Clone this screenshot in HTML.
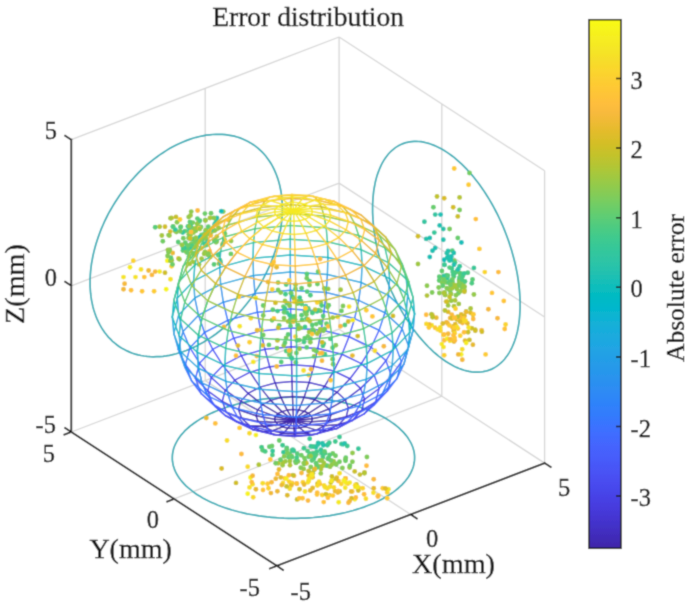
<!DOCTYPE html>
<html><head><meta charset="utf-8"><style>html,body{margin:0;padding:0;background:#fff;width:685px;height:610px;overflow:hidden}svg{display:block}</style></head>
<body><svg width="685" height="610" viewBox="0 0 685 610">
<defs><filter id="bl" x="-0.05" y="-0.05" width="1.1" height="1.1"><feConvolveMatrix order="3" kernelMatrix="0.0622 0.2494 0.0622 0.2494 1.0000 0.2494 0.0622 0.2494 0.0622" divisor="2.2461" preserveAlpha="true"/></filter></defs>
<g filter="url(#bl)">
<rect x="-20" y="-20" width="725" height="650" fill="#fff"/>
<defs><linearGradient id="cb" x1="0" y1="0" x2="0" y2="1"><stop offset="0.0000" stop-color="#f9fb15"/><stop offset="0.0159" stop-color="#f7f51b"/><stop offset="0.0317" stop-color="#f6ef20"/><stop offset="0.0476" stop-color="#f5e924"/><stop offset="0.0635" stop-color="#f5e327"/><stop offset="0.0794" stop-color="#f7dc2a"/><stop offset="0.0952" stop-color="#fad62d"/><stop offset="0.1111" stop-color="#fccf30"/><stop offset="0.1270" stop-color="#fec934"/><stop offset="0.1429" stop-color="#fec338"/><stop offset="0.1587" stop-color="#febe3c"/><stop offset="0.1746" stop-color="#f8ba3d"/><stop offset="0.1905" stop-color="#f0ba36"/><stop offset="0.2063" stop-color="#e6bb2d"/><stop offset="0.2222" stop-color="#dcbd29"/><stop offset="0.2381" stop-color="#d1bf27"/><stop offset="0.2540" stop-color="#c5c22a"/><stop offset="0.2698" stop-color="#b9c431"/><stop offset="0.2857" stop-color="#abc739"/><stop offset="0.3016" stop-color="#9dc943"/><stop offset="0.3175" stop-color="#8fcb4e"/><stop offset="0.3333" stop-color="#81cc59"/><stop offset="0.3492" stop-color="#72cd64"/><stop offset="0.3651" stop-color="#64cd6f"/><stop offset="0.3810" stop-color="#57cc7a"/><stop offset="0.3968" stop-color="#4acb84"/><stop offset="0.4127" stop-color="#3fca8e"/><stop offset="0.4286" stop-color="#37c897"/><stop offset="0.4444" stop-color="#31c69f"/><stop offset="0.4603" stop-color="#2cc4a7"/><stop offset="0.4762" stop-color="#24c1ae"/><stop offset="0.4921" stop-color="#19bfb6"/><stop offset="0.5079" stop-color="#0bbdbd"/><stop offset="0.5238" stop-color="#02bac3"/><stop offset="0.5397" stop-color="#01b8ca"/><stop offset="0.5556" stop-color="#08b5d0"/><stop offset="0.5714" stop-color="#12b1d6"/><stop offset="0.5873" stop-color="#18addb"/><stop offset="0.6032" stop-color="#1ca9df"/><stop offset="0.6190" stop-color="#20a5e3"/><stop offset="0.6349" stop-color="#23a0e5"/><stop offset="0.6508" stop-color="#259be8"/><stop offset="0.6667" stop-color="#2797eb"/><stop offset="0.6825" stop-color="#2b91ef"/><stop offset="0.6984" stop-color="#2d8cf3"/><stop offset="0.7143" stop-color="#2e87f7"/><stop offset="0.7302" stop-color="#2f81fa"/><stop offset="0.7460" stop-color="#327cfc"/><stop offset="0.7619" stop-color="#3875fe"/><stop offset="0.7778" stop-color="#3e6fff"/><stop offset="0.7937" stop-color="#4269fe"/><stop offset="0.8095" stop-color="#4563fd"/><stop offset="0.8254" stop-color="#465efb"/><stop offset="0.8413" stop-color="#4758f8"/><stop offset="0.8571" stop-color="#4852f4"/><stop offset="0.8730" stop-color="#484df0"/><stop offset="0.8889" stop-color="#4747eb"/><stop offset="0.9048" stop-color="#4741e5"/><stop offset="0.9206" stop-color="#463cde"/><stop offset="0.9365" stop-color="#4537d5"/><stop offset="0.9524" stop-color="#4332cb"/><stop offset="0.9683" stop-color="#422ec0"/><stop offset="0.9841" stop-color="#402ab4"/><stop offset="1.0000" stop-color="#3e26a8"/></linearGradient></defs>
<path d="M71.3 432L339.1 329.2M544.6 463.1L544.6 170.8M544.6 463.1L339.1 329.2M410.7 514.5L205.2 380.6M174.1 498.9L441.8 396.2M205.2 380.6L205.2 88.3M71.3 285.8L339.1 183.1M441.8 396.2L441.8 103.9M544.6 317L339.1 183.1M544.6 463.1L339.1 329.2M71.3 432L339.1 329.2M339.1 329.2L339.1 37M71.3 139.7L339.1 37M339.1 329.2L339.1 37M544.6 170.8L339.1 37" stroke="#d6d6d6" stroke-width="1.3" fill="none"/>
<path d="M282.3 208.7L282.3 205L282.1 201.4L281.8 197.9L281.4 194.4L280.9 191L280.2 187.7L279.5 184.4L278.6 181.2L277.6 178.1L276.5 175L275.3 172.1L274 169.2L272.6 166.4L271.1 163.7L269.5 161.2L267.7 158.7L265.9 156.3L264 154L262 151.9L259.8 149.9L257.6 147.9L255.4 146.1L253 144.5L250.5 142.9L248 141.5L245.4 140.2L242.7 139L240 137.9L237.1 137L234.3 136.2L231.3 135.6L228.3 135.1L225.3 134.7L222.2 134.4L219.1 134.3L215.9 134.4L212.7 134.5L209.5 134.8L206.2 135.2L202.9 135.8L199.6 136.5L196.3 137.3L192.9 138.3L189.6 139.4L186.2 140.6L182.9 142L179.5 143.5L176.2 145.1L172.8 146.8L169.5 148.6L166.2 150.6L163 152.7L159.7 154.9L156.5 157.2L153.3 159.6L150.2 162.1L147.1 164.7L144.1 167.4L141.1 170.2L138.1 173.1L135.3 176.1L132.5 179.2L129.7 182.3L127 185.6L124.4 188.9L121.9 192.3L119.4 195.7L117.1 199.2L114.8 202.7L112.6 206.4L110.5 210L108.4 213.7L106.5 217.5L104.7 221.2L103 225L101.3 228.9L99.8 232.7L98.4 236.6L97.1 240.4L95.9 244.3L94.8 248.2L93.8 252.1L92.9 256L92.2 259.8L91.5 263.7L91 267.5L90.6 271.3L90.3 275L90.1 278.7L90.1 282.4L90.1 286.1L90.3 289.7L90.6 293.2L91 296.7L91.5 300.1L92.2 303.4L92.9 306.7L93.8 309.9L94.8 313.1L95.9 316.1L97.1 319.1L98.4 321.9L99.8 324.7L101.3 327.4L103 330L104.7 332.4L106.5 334.8L108.4 337.1L110.5 339.2L112.6 341.3L114.8 343.2L117.1 345L119.4 346.7L121.9 348.2L124.4 349.6L127 350.9L129.7 352.1L132.5 353.2L135.3 354.1L138.1 354.9L141.1 355.5L144.1 356L147.1 356.4L150.2 356.7L153.3 356.8L156.5 356.7L159.7 356.6L163 356.3L166.2 355.9L169.5 355.3L172.8 354.6L176.2 353.8L179.5 352.8L182.9 351.7L186.2 350.5L189.6 349.1L192.9 347.7L196.3 346.1L199.6 344.3L202.9 342.5L206.2 340.5L209.5 338.4L212.7 336.3L215.9 334L219.1 331.5L222.2 329L225.3 326.4L228.3 323.7L231.3 320.9L234.3 318L237.1 315L240 311.9L242.7 308.8L245.4 305.5L248 302.2L250.5 298.9L253 295.4L255.4 291.9L257.6 288.4L259.8 284.8L262 281.1L264 277.4L265.9 273.7L267.7 269.9L269.5 266.1L271.1 262.3L272.6 258.4L274 254.5L275.3 250.7L276.5 246.8L277.6 242.9L278.6 239L279.5 235.2L280.2 231.3L280.9 227.5L281.4 223.6L281.8 219.8L282.1 216.1L282.3 212.4L282.3 208.7Z" stroke="#27aab4" stroke-width="1.7" fill="none"/>
<path d="M372.6 208.7L372.6 205.1L372.8 201.5L373 198L373.3 194.6L373.7 191.2L374.2 188L374.8 184.8L375.4 181.7L376.2 178.6L377 175.7L378 172.9L379 170.2L380.1 167.6L381.2 165.1L382.5 162.7L383.8 160.4L385.2 158.3L386.7 156.2L388.2 154.3L389.8 152.5L391.5 150.9L393.3 149.3L395.1 147.9L397 146.6L398.9 145.5L400.9 144.5L403 143.6L405.1 142.9L407.3 142.3L409.5 141.9L411.7 141.6L414 141.4L416.3 141.4L418.7 141.5L421.1 141.7L423.6 142.1L426 142.7L428.5 143.3L431 144.2L433.5 145.1L436.1 146.2L438.6 147.4L441.2 148.8L443.8 150.2L446.3 151.9L448.9 153.6L451.5 155.5L454.1 157.4L456.6 159.6L459.2 161.8L461.7 164.1L464.2 166.6L466.7 169.2L469.1 171.8L471.6 174.6L474 177.5L476.3 180.5L478.7 183.5L481 186.7L483.2 189.9L485.4 193.3L487.6 196.7L489.7 200.1L491.8 203.7L493.8 207.3L495.7 211L497.6 214.7L499.4 218.5L501.2 222.3L502.9 226.2L504.5 230.1L506 234L507.5 238L508.9 241.9L510.2 245.9L511.5 250L512.6 254L513.7 258L514.7 262L515.7 266.1L516.5 270.1L517.3 274.1L517.9 278L518.5 282L519 285.9L519.4 289.8L519.7 293.6L519.9 297.4L520.1 301.2L520.1 304.8L520.1 308.5L519.9 312L519.7 315.5L519.4 319L519 322.3L518.5 325.6L517.9 328.8L517.3 331.9L516.5 334.9L515.7 337.8L514.7 340.7L513.7 343.4L512.6 346L511.5 348.5L510.2 350.9L508.9 353.1L507.5 355.3L506 357.3L504.5 359.3L502.9 361L501.2 362.7L499.4 364.2L497.6 365.6L495.7 366.9L493.8 368.1L491.8 369.1L489.7 369.9L487.6 370.6L485.4 371.2L483.2 371.7L481 372L478.7 372.2L476.3 372.2L474 372.1L471.6 371.8L469.1 371.4L466.7 370.9L464.2 370.2L461.7 369.4L459.2 368.5L456.6 367.4L454.1 366.2L451.5 364.8L448.9 363.3L446.3 361.7L443.8 360L441.2 358.1L438.6 356.1L436.1 354L433.5 351.8L431 349.4L428.5 347L426 344.4L423.6 341.7L421.1 338.9L418.7 336.1L416.3 333.1L414 330L411.7 326.9L409.5 323.6L407.3 320.3L405.1 316.9L403 313.4L400.9 309.9L398.9 306.3L397 302.6L395.1 298.9L393.3 295.1L391.5 291.3L389.8 287.4L388.2 283.5L386.7 279.6L385.2 275.6L383.8 271.6L382.5 267.6L381.2 263.6L380.1 259.6L379 255.6L378 251.5L377 247.5L376.2 243.5L375.4 239.5L374.8 235.5L374.2 231.6L373.7 227.7L373.3 223.8L373 219.9L372.8 216.2L372.6 212.4L372.6 208.7Z" stroke="#27aab4" stroke-width="1.7" fill="none"/>
<path d="M389.6 420.9L387 419.2L384.2 417.6L381.3 416.1L378.4 414.6L375.3 413.1L372.1 411.7L368.9 410.4L365.5 409.1L362.1 407.9L358.6 406.7L355 405.6L351.3 404.5L347.5 403.6L343.7 402.7L339.8 401.8L335.9 401L331.9 400.3L327.9 399.7L323.8 399.1L319.7 398.6L315.5 398.2L311.4 397.9L307.2 397.6L303 397.4L298.7 397.3L294.5 397.2L290.3 397.2L286.1 397.3L281.8 397.5L277.6 397.7L273.5 398L269.3 398.4L265.2 398.9L261.1 399.4L257 400L253 400.7L249.1 401.4L245.1 402.2L241.3 403.1L237.5 404L233.8 405.1L230.2 406.1L226.6 407.3L223.1 408.5L219.7 409.7L216.4 411L213.2 412.4L210.1 413.8L207 415.3L204.1 416.9L201.3 418.4L198.6 420.1L196.1 421.7L193.6 423.5L191.3 425.2L189.1 427L187 428.9L185 430.7L183.2 432.7L181.5 434.6L180 436.6L178.6 438.6L177.3 440.6L176.2 442.6L175.2 444.7L174.3 446.7L173.6 448.8L173.1 450.9L172.7 453L172.4 455.1L172.3 457.3L172.3 459.4L172.5 461.5L172.9 463.6L173.3 465.7L174 467.8L174.7 469.9L175.6 471.9L176.7 474L177.9 476L179.2 478L180.7 480L182.3 481.9L184.1 483.9L186 485.8L188 487.6L190.2 489.4L192.4 491.2L194.8 493L197.3 494.7L200 496.3L202.7 497.9L205.6 499.5L208.5 501L211.6 502.4L214.8 503.8L218 505.2L221.4 506.5L224.8 507.7L228.4 508.9L232 510L235.6 511L239.4 512L243.2 512.9L247.1 513.8L251 514.5L255 515.2L259 515.9L263.1 516.4L267.2 516.9L271.4 517.3L275.6 517.7L279.7 518L284 518.2L288.2 518.3L292.4 518.4L296.6 518.3L300.9 518.2L305.1 518.1L309.3 517.8L313.5 517.5L317.6 517.1L321.7 516.7L325.8 516.2L329.9 515.6L333.9 514.9L337.9 514.1L341.8 513.3L345.6 512.5L349.4 511.5L353.1 510.5L356.8 509.4L360.3 508.3L363.8 507.1L367.2 505.8L370.5 504.5L373.7 503.2L376.9 501.7L379.9 500.2L382.8 498.7L385.6 497.1L388.3 495.5L390.9 493.8L393.3 492.1L395.6 490.3L397.9 488.5L399.9 486.7L401.9 484.8L403.7 482.9L405.4 481L406.9 479L408.4 477L409.6 475L410.8 472.9L411.7 470.9L412.6 468.8L413.3 466.7L413.8 464.6L414.2 462.5L414.5 460.4L414.6 458.3L414.6 456.2L414.4 454.1L414.1 452L413.6 449.9L413 447.8L412.2 445.7L411.3 443.6L410.2 441.6L409 439.6L407.7 437.6L406.2 435.6L404.6 433.6L402.8 431.7L400.9 429.8L398.9 427.9L396.8 426.1L394.5 424.3L392.1 422.6L389.6 420.9Z" stroke="#27aab4" stroke-width="1.7" fill="none"/>
<circle cx="133.3" cy="260.7" r="2.45" fill="#fbd32e"/><circle cx="130" cy="267.3" r="2.45" fill="#f5eb23"/><circle cx="141" cy="269.4" r="2.45" fill="#f6e128"/><circle cx="148.6" cy="270.5" r="2.45" fill="#efba35"/><circle cx="155.2" cy="271.6" r="2.45" fill="#f8ba3d"/><circle cx="159.6" cy="271.6" r="2.45" fill="#f5e924"/><circle cx="165" cy="272.7" r="2.45" fill="#cfc028"/><circle cx="123.5" cy="277.1" r="2.45" fill="#f5e526"/><circle cx="135.5" cy="277.1" r="2.45" fill="#f5e327"/><circle cx="144.3" cy="277.1" r="2.45" fill="#fec537"/><circle cx="151.9" cy="274.9" r="2.45" fill="#f8ba3d"/><circle cx="124.6" cy="283.7" r="2.45" fill="#f5ba3a"/><circle cx="123.5" cy="289.2" r="2.45" fill="#f2ba38"/><circle cx="131.1" cy="290.2" r="2.45" fill="#fec338"/><circle cx="142.1" cy="291.3" r="2.45" fill="#fec834"/><circle cx="154.1" cy="291.3" r="2.45" fill="#fdcd32"/><circle cx="166.2" cy="289.2" r="2.45" fill="#f7f41c"/><circle cx="170.5" cy="279.3" r="2.45" fill="#f5e227"/><circle cx="171.6" cy="266.2" r="2.45" fill="#fbd32f"/><circle cx="167.3" cy="260.7" r="2.45" fill="#f7f31d"/><circle cx="172.7" cy="253" r="2.45" fill="#edba34"/><circle cx="159.6" cy="226.7" r="2.45" fill="#b0c636"/><circle cx="165" cy="226.7" r="2.45" fill="#d1bf27"/><circle cx="161.8" cy="235.5" r="2.45" fill="#a7c73c"/><circle cx="169.4" cy="235.5" r="2.45" fill="#a6c83d"/><circle cx="171.6" cy="218" r="2.45" fill="#cac129"/><circle cx="176" cy="216.9" r="2.45" fill="#c7c12a"/><circle cx="191.2" cy="243.7" r="2.45" fill="#7fcc5a"/><circle cx="185" cy="231.1" r="2.45" fill="#63cd70"/><circle cx="187.6" cy="246" r="2.45" fill="#28c3aa"/><circle cx="198.3" cy="242.3" r="2.45" fill="#a1c840"/><circle cx="210.2" cy="257" r="2.45" fill="#83cc57"/><circle cx="195.8" cy="230.7" r="2.45" fill="#89cb52"/><circle cx="182.9" cy="250.6" r="2.45" fill="#5ecd74"/><circle cx="208" cy="233.7" r="2.45" fill="#fcbc3d"/><circle cx="191.2" cy="248" r="2.45" fill="#5fcd73"/><circle cx="178.2" cy="242" r="2.45" fill="#5acc77"/><circle cx="204.9" cy="213.6" r="2.45" fill="#6ccd68"/><circle cx="167.9" cy="249.9" r="2.45" fill="#a0c841"/><circle cx="206.1" cy="230.2" r="2.45" fill="#5ecd74"/><circle cx="216.9" cy="222.3" r="2.45" fill="#61cd71"/><circle cx="195.8" cy="238.4" r="2.45" fill="#73cd63"/><circle cx="201.6" cy="258.7" r="2.45" fill="#a3c83f"/><circle cx="205.7" cy="230.2" r="2.45" fill="#98ca47"/><circle cx="197.4" cy="218.6" r="2.45" fill="#5ccc76"/><circle cx="168.5" cy="252.3" r="2.45" fill="#82cc58"/><circle cx="223.2" cy="211.6" r="2.45" fill="#91ca4c"/><circle cx="204.5" cy="233.8" r="2.45" fill="#42ca8b"/><circle cx="198.5" cy="222.4" r="2.45" fill="#98ca47"/><circle cx="186.3" cy="251.8" r="2.45" fill="#9ec943"/><circle cx="202.3" cy="239.6" r="2.45" fill="#33c79d"/><circle cx="162.8" cy="241.3" r="2.45" fill="#72cd64"/><circle cx="197.6" cy="210.5" r="2.45" fill="#fbbc3d"/><circle cx="210.8" cy="235.5" r="2.45" fill="#f3ba39"/><circle cx="218.5" cy="227.6" r="2.45" fill="#a5c83d"/><circle cx="193.7" cy="262.1" r="2.45" fill="#a3c83e"/><circle cx="183.3" cy="238.2" r="2.45" fill="#78cc5f"/><circle cx="204.1" cy="253.8" r="2.45" fill="#9dc943"/><circle cx="190.3" cy="235.3" r="2.45" fill="#acc738"/><circle cx="191.6" cy="239.1" r="2.45" fill="#56cc7b"/><circle cx="216.9" cy="218" r="2.45" fill="#27c2ac"/><circle cx="199" cy="264.4" r="2.45" fill="#8fcb4e"/><circle cx="177" cy="222.2" r="2.45" fill="#8ccb50"/><circle cx="194.3" cy="229.7" r="2.45" fill="#77cc60"/><circle cx="188.7" cy="226.7" r="2.45" fill="#5bcc76"/><circle cx="194.2" cy="247.8" r="2.45" fill="#34c79c"/><circle cx="196.7" cy="252.2" r="2.45" fill="#53cc7d"/><circle cx="208.1" cy="255.1" r="2.45" fill="#86cb55"/><circle cx="180.8" cy="226.6" r="2.45" fill="#91ca4d"/><circle cx="201.1" cy="248.2" r="2.45" fill="#f9bb3d"/><circle cx="208.3" cy="226.7" r="2.45" fill="#62cd71"/><circle cx="214.6" cy="239.5" r="2.45" fill="#45cb88"/><circle cx="211" cy="213.2" r="2.45" fill="#6ecd67"/><circle cx="184.8" cy="248" r="2.45" fill="#2ec4a4"/><circle cx="171.7" cy="260.2" r="2.45" fill="#99c946"/><circle cx="193.1" cy="228.5" r="2.45" fill="#8dcb4f"/><circle cx="173.2" cy="226.4" r="2.45" fill="#8ccb50"/><circle cx="197.2" cy="223.9" r="2.45" fill="#95ca49"/><circle cx="188.2" cy="249.6" r="2.45" fill="#54cc7c"/><circle cx="218.9" cy="263.6" r="2.45" fill="#aac73a"/><circle cx="197.7" cy="240.5" r="2.45" fill="#8fcb4e"/><circle cx="208.7" cy="233" r="2.45" fill="#8fcb4e"/><circle cx="214.8" cy="230.5" r="2.45" fill="#83cc57"/><circle cx="155.2" cy="227.2" r="2.45" fill="#59cc79"/><circle cx="190.9" cy="224.4" r="2.45" fill="#58cc79"/><circle cx="201.5" cy="239.4" r="2.45" fill="#5dcc75"/><circle cx="214.3" cy="240.7" r="2.45" fill="#6ccd68"/><circle cx="201" cy="227" r="2.45" fill="#79cc5e"/><circle cx="197" cy="241" r="2.45" fill="#5acc77"/><circle cx="215.8" cy="222.3" r="2.45" fill="#38c896"/><circle cx="170.4" cy="260.9" r="2.45" fill="#98c947"/><circle cx="182.1" cy="245.1" r="2.45" fill="#97ca47"/><circle cx="203.6" cy="237.3" r="2.45" fill="#9cc944"/><circle cx="180" cy="219.5" r="2.45" fill="#fdcd32"/><circle cx="216.7" cy="241.4" r="2.45" fill="#8dcb4f"/><circle cx="194" cy="239.4" r="2.45" fill="#3ac994"/><circle cx="206.3" cy="234.8" r="2.45" fill="#55cc7c"/><circle cx="225" cy="233.8" r="2.45" fill="#84cc56"/><circle cx="183.1" cy="248" r="2.45" fill="#43ca8a"/><circle cx="194.2" cy="238.9" r="2.45" fill="#47cb87"/><circle cx="189.3" cy="230.8" r="2.45" fill="#43ca8a"/><circle cx="218.4" cy="255.2" r="2.45" fill="#61cd72"/><circle cx="192.1" cy="247.3" r="2.45" fill="#2ac3a9"/><circle cx="220.5" cy="262.5" r="2.45" fill="#25c2ae"/><circle cx="186.9" cy="252.5" r="2.45" fill="#6dcd67"/><circle cx="209.9" cy="218" r="2.45" fill="#aec637"/><circle cx="206.7" cy="245.1" r="2.45" fill="#75cc61"/><circle cx="180.6" cy="227.2" r="2.45" fill="#5ccc76"/><circle cx="205.2" cy="220.1" r="2.45" fill="#61cd71"/><circle cx="201.5" cy="235" r="2.45" fill="#6acd6a"/><circle cx="194.6" cy="241.9" r="2.45" fill="#75cc61"/><circle cx="220" cy="260.3" r="2.45" fill="#5dcc75"/><circle cx="178.5" cy="258.5" r="2.45" fill="#e3bc2c"/><circle cx="216.1" cy="242.3" r="2.45" fill="#7fcc5a"/><circle cx="188.8" cy="234.2" r="2.45" fill="#89cb52"/><circle cx="196.2" cy="228.1" r="2.45" fill="#a4c83e"/><circle cx="187.9" cy="226.5" r="2.45" fill="#3ac994"/><circle cx="222.4" cy="244.9" r="2.45" fill="#6ccd68"/><circle cx="205.1" cy="234.2" r="2.45" fill="#a7c73c"/><circle cx="170.2" cy="231.6" r="2.45" fill="#dcbd29"/><circle cx="209.5" cy="251.3" r="2.45" fill="#fbbc3d"/><circle cx="204.4" cy="243.7" r="2.45" fill="#39c994"/><circle cx="192.8" cy="222.6" r="2.45" fill="#77cc60"/><circle cx="191.2" cy="211.6" r="2.45" fill="#90ca4d"/><circle cx="214.7" cy="224.3" r="2.45" fill="#25c2ae"/><circle cx="228.2" cy="220.1" r="2.45" fill="#f5ba3a"/><circle cx="188.7" cy="217" r="2.45" fill="#96ca49"/><circle cx="189.7" cy="263.9" r="2.45" fill="#a8c73b"/><circle cx="188.6" cy="238" r="2.45" fill="#84cb56"/><circle cx="185.3" cy="242.7" r="2.45" fill="#62cd70"/><circle cx="205" cy="251.9" r="2.45" fill="#97ca47"/><circle cx="182.7" cy="232.5" r="2.45" fill="#32c69f"/><circle cx="213.9" cy="217.9" r="2.45" fill="#8dcb4f"/><circle cx="193" cy="253.7" r="2.45" fill="#97ca48"/><circle cx="190.2" cy="226.3" r="2.45" fill="#33c69d"/><circle cx="205.5" cy="220.6" r="2.45" fill="#a0c841"/><circle cx="199.9" cy="220.7" r="2.45" fill="#55cc7c"/><circle cx="208.5" cy="253.7" r="2.45" fill="#85cb55"/><circle cx="180.2" cy="231.3" r="2.45" fill="#77cc5f"/><circle cx="193.4" cy="253.3" r="2.45" fill="#78cc5f"/><circle cx="176.4" cy="232" r="2.45" fill="#87cb54"/><circle cx="196.4" cy="245.7" r="2.45" fill="#69cd6b"/><circle cx="214" cy="264.4" r="2.45" fill="#58cc79"/><circle cx="175" cy="230.8" r="2.45" fill="#9fc942"/><circle cx="175.3" cy="229.6" r="2.45" fill="#32c69f"/><circle cx="172.5" cy="264.4" r="2.45" fill="#6dcd67"/><circle cx="181.9" cy="244.9" r="2.45" fill="#96ca49"/><circle cx="224.4" cy="239.6" r="2.45" fill="#91ca4c"/><circle cx="169.8" cy="250" r="2.45" fill="#8dcb50"/><circle cx="189.3" cy="226.2" r="2.45" fill="#8ccb50"/><circle cx="230.9" cy="253.9" r="2.45" fill="#6ccd68"/><circle cx="193.5" cy="232.6" r="2.45" fill="#99c946"/><circle cx="189.1" cy="256.2" r="2.45" fill="#6ecd67"/><circle cx="191" cy="232" r="2.45" fill="#febf3c"/><circle cx="193.2" cy="247.4" r="2.45" fill="#2fc5a3"/><circle cx="189.9" cy="222" r="2.45" fill="#5ecc74"/><circle cx="170.9" cy="257.8" r="2.45" fill="#5dcc74"/><circle cx="190.3" cy="238.5" r="2.45" fill="#d0bf27"/><circle cx="192" cy="245.6" r="2.45" fill="#53cc7d"/><circle cx="199.9" cy="237" r="2.45" fill="#29c3a9"/><circle cx="179.4" cy="259.3" r="2.45" fill="#9ec942"/><circle cx="199.4" cy="228.4" r="2.45" fill="#febf3b"/><circle cx="206.5" cy="239.2" r="2.45" fill="#9ac946"/><circle cx="222.8" cy="243.8" r="2.45" fill="#d9be28"/><circle cx="211" cy="230.5" r="2.45" fill="#43ca8b"/><circle cx="168.6" cy="235.1" r="2.45" fill="#91ca4d"/><circle cx="195.9" cy="246.5" r="2.45" fill="#6fcd66"/><circle cx="195.8" cy="237.7" r="2.45" fill="#92ca4b"/><circle cx="207.9" cy="241.7" r="2.45" fill="#2ec5a4"/><circle cx="187.9" cy="245.5" r="2.45" fill="#6ccd68"/><circle cx="216.8" cy="236.6" r="2.45" fill="#a5c83d"/><circle cx="172.8" cy="226.7" r="2.45" fill="#52cc7e"/><circle cx="190.5" cy="215.5" r="2.45" fill="#9cc944"/><circle cx="170.5" cy="218.3" r="2.45" fill="#a9c73a"/><circle cx="199.8" cy="229.1" r="2.45" fill="#9ec943"/><circle cx="167.6" cy="256" r="2.45" fill="#84cb56"/><circle cx="231.1" cy="241.1" r="2.45" fill="#99c946"/><circle cx="221.3" cy="211.3" r="2.45" fill="#0dbdbc"/><circle cx="454.2" cy="168.5" r="2.45" fill="#fdca33"/><circle cx="469.5" cy="173" r="2.45" fill="#73cd63"/><circle cx="468.6" cy="184.8" r="2.45" fill="#fdcc32"/><circle cx="475.8" cy="219.1" r="2.45" fill="#fec239"/><circle cx="479.4" cy="248.9" r="2.45" fill="#fdcd32"/><circle cx="437" cy="196.5" r="2.45" fill="#c1c32c"/><circle cx="444.2" cy="198.3" r="2.45" fill="#d9be28"/><circle cx="459.6" cy="197.4" r="2.45" fill="#b7c532"/><circle cx="453.2" cy="207.3" r="2.45" fill="#d3bf27"/><circle cx="457.8" cy="216.4" r="2.45" fill="#ccc028"/><circle cx="418" cy="236.2" r="2.45" fill="#d2bf27"/><circle cx="433.4" cy="207.3" r="2.45" fill="#66cd6d"/><circle cx="459.6" cy="210" r="2.45" fill="#7bcc5d"/><circle cx="449.6" cy="229" r="2.45" fill="#79cc5e"/><circle cx="457.8" cy="238" r="2.45" fill="#67cd6d"/><circle cx="452.3" cy="250.7" r="2.45" fill="#53cc7d"/><circle cx="454.2" cy="260.6" r="2.45" fill="#89cb52"/><circle cx="435.2" cy="214.6" r="2.45" fill="#30c5a2"/><circle cx="440.6" cy="214.6" r="2.45" fill="#1ac0b5"/><circle cx="424.4" cy="221.8" r="2.45" fill="#30c5a1"/><circle cx="439.7" cy="225.4" r="2.45" fill="#1ec0b2"/><circle cx="443.3" cy="229" r="2.45" fill="#28c2ab"/><circle cx="434.3" cy="232.6" r="2.45" fill="#34c79c"/><circle cx="426.2" cy="238.9" r="2.45" fill="#27c2ac"/><circle cx="429.8" cy="238" r="2.45" fill="#1fc0b2"/><circle cx="443.3" cy="239.8" r="2.45" fill="#20c1b1"/><circle cx="461.4" cy="242.5" r="2.45" fill="#12beb9"/><circle cx="435.2" cy="248" r="2.45" fill="#1bc0b4"/><circle cx="432.5" cy="250.7" r="2.45" fill="#1ec0b2"/><circle cx="429.8" cy="257" r="2.45" fill="#18bfb6"/><circle cx="444.2" cy="259.7" r="2.45" fill="#11beb9"/><circle cx="418" cy="264" r="2.45" fill="#a1c840"/><circle cx="427" cy="285.7" r="2.45" fill="#8fcb4e"/><circle cx="427" cy="295.6" r="2.45" fill="#b3c534"/><circle cx="484.8" cy="272.1" r="2.45" fill="#f9d72c"/><circle cx="498.4" cy="272.1" r="2.45" fill="#fdbd3d"/><circle cx="492" cy="292.9" r="2.45" fill="#fec834"/><circle cx="503.8" cy="301" r="2.45" fill="#fec636"/><circle cx="488.4" cy="309.2" r="2.45" fill="#f4ba3a"/><circle cx="497.5" cy="318.2" r="2.45" fill="#f7ba3c"/><circle cx="505.6" cy="324.5" r="2.45" fill="#fad52d"/><circle cx="504.7" cy="329" r="2.45" fill="#fec437"/><circle cx="444.2" cy="355.2" r="2.45" fill="#fbd22f"/><circle cx="462.3" cy="359.7" r="2.45" fill="#f4ba39"/><circle cx="464.5" cy="316" r="2.45" fill="#e0bc2a"/><circle cx="453.6" cy="286.3" r="2.45" fill="#a4c83e"/><circle cx="451.8" cy="268.4" r="2.45" fill="#3eca8f"/><circle cx="457.3" cy="270.6" r="2.45" fill="#2fc5a2"/><circle cx="439.4" cy="293" r="2.45" fill="#89cb52"/><circle cx="451.7" cy="286.2" r="2.45" fill="#8ecb4f"/><circle cx="449.8" cy="290.5" r="2.45" fill="#7bcc5c"/><circle cx="449.6" cy="267.6" r="2.45" fill="#4fcc80"/><circle cx="452.7" cy="271.9" r="2.45" fill="#41ca8c"/><circle cx="450.9" cy="293.5" r="2.45" fill="#77cc60"/><circle cx="443.1" cy="277.3" r="2.45" fill="#97ca48"/><circle cx="462.1" cy="281.3" r="2.45" fill="#7ccc5c"/><circle cx="472.5" cy="279.5" r="2.45" fill="#5bcc76"/><circle cx="464.5" cy="290.4" r="2.45" fill="#a1c840"/><circle cx="448.2" cy="311.9" r="2.45" fill="#e0bc2a"/><circle cx="458.4" cy="293.3" r="2.45" fill="#6ccd68"/><circle cx="459.1" cy="280.1" r="2.45" fill="#6fcd66"/><circle cx="459.5" cy="277.9" r="2.45" fill="#3cc991"/><circle cx="456.5" cy="271.9" r="2.45" fill="#41ca8c"/><circle cx="447.3" cy="277.9" r="2.45" fill="#35c79a"/><circle cx="464.6" cy="286.8" r="2.45" fill="#9cc944"/><circle cx="471.8" cy="283.3" r="2.45" fill="#4bcb84"/><circle cx="444.5" cy="264.9" r="2.45" fill="#31c6a0"/><circle cx="453.8" cy="253" r="2.45" fill="#22c1b0"/><circle cx="438.7" cy="287.5" r="2.45" fill="#82cc58"/><circle cx="450" cy="281.9" r="2.45" fill="#60cd72"/><circle cx="447.2" cy="257.8" r="2.45" fill="#28c3aa"/><circle cx="470.5" cy="312.7" r="2.45" fill="#e0bc2a"/><circle cx="459.7" cy="272.9" r="2.45" fill="#69cd6a"/><circle cx="452.5" cy="282" r="2.45" fill="#66cd6d"/><circle cx="453.9" cy="276.5" r="2.45" fill="#56cc7b"/><circle cx="442.7" cy="277.4" r="2.45" fill="#91ca4c"/><circle cx="452.3" cy="279.4" r="2.45" fill="#6fcd66"/><circle cx="459.7" cy="266.3" r="2.45" fill="#36c799"/><circle cx="461.7" cy="287" r="2.45" fill="#86cb55"/><circle cx="467.8" cy="272.8" r="2.45" fill="#4ccb83"/><circle cx="448.1" cy="305.4" r="2.45" fill="#a0c840"/><circle cx="446.6" cy="275.1" r="2.45" fill="#61cd72"/><circle cx="458.8" cy="303.9" r="2.45" fill="#a3c83e"/><circle cx="460.1" cy="278.6" r="2.45" fill="#51cc7e"/><circle cx="458.1" cy="269.2" r="2.45" fill="#28c2ab"/><circle cx="449.5" cy="260.5" r="2.45" fill="#27c2ac"/><circle cx="456.5" cy="287.7" r="2.45" fill="#abc739"/><circle cx="451.1" cy="260" r="2.45" fill="#24c1ae"/><circle cx="444.3" cy="264.7" r="2.45" fill="#3ac994"/><circle cx="446.9" cy="253.3" r="2.45" fill="#28c2ab"/><circle cx="451.9" cy="288.4" r="2.45" fill="#8bcb51"/><circle cx="459" cy="283.6" r="2.45" fill="#92ca4c"/><circle cx="457" cy="288.9" r="2.45" fill="#94ca4a"/><circle cx="439.2" cy="280.5" r="2.45" fill="#61cd71"/><circle cx="455" cy="262.6" r="2.45" fill="#47cb87"/><circle cx="454" cy="264.8" r="2.45" fill="#22c1b0"/><circle cx="450.3" cy="281.7" r="2.45" fill="#5ccc76"/><circle cx="453.9" cy="273.4" r="2.45" fill="#58cc79"/><circle cx="446.1" cy="282.4" r="2.45" fill="#87cb54"/><circle cx="473.9" cy="267.9" r="2.45" fill="#36c899"/><circle cx="445" cy="294.8" r="2.45" fill="#88cb53"/><circle cx="448.4" cy="282.6" r="2.45" fill="#5acc78"/><circle cx="443.9" cy="275.9" r="2.45" fill="#34c79c"/><circle cx="439.3" cy="276.8" r="2.45" fill="#5ccc76"/><circle cx="451.2" cy="256.4" r="2.45" fill="#1ec0b2"/><circle cx="460.6" cy="291.3" r="2.45" fill="#93ca4b"/><circle cx="444.6" cy="292.5" r="2.45" fill="#8ccb50"/><circle cx="441.9" cy="271" r="2.45" fill="#62cd70"/><circle cx="455.1" cy="300.4" r="2.45" fill="#aec637"/><circle cx="461.9" cy="274" r="2.45" fill="#4bcb83"/><circle cx="473.9" cy="294.5" r="2.45" fill="#96ca48"/><circle cx="452.2" cy="287.9" r="2.45" fill="#a3c83f"/><circle cx="448.4" cy="256.9" r="2.45" fill="#23c1af"/><circle cx="453.1" cy="284.6" r="2.45" fill="#98c947"/><circle cx="456" cy="295.2" r="2.45" fill="#8acb51"/><circle cx="461.2" cy="314.4" r="2.45" fill="#e0bc2a"/><circle cx="455.4" cy="285.3" r="2.45" fill="#a6c83d"/><circle cx="444.2" cy="281.3" r="2.45" fill="#75cc61"/><circle cx="460.1" cy="276.4" r="2.45" fill="#5ecd74"/><circle cx="450.4" cy="284.8" r="2.45" fill="#76cc61"/><circle cx="442.2" cy="282.7" r="2.45" fill="#85cb55"/><circle cx="443.8" cy="279.4" r="2.45" fill="#72cd64"/><circle cx="442.8" cy="285.7" r="2.45" fill="#64cd6f"/><circle cx="463.8" cy="316" r="2.45" fill="#e0bc2a"/><circle cx="450.9" cy="294.1" r="2.45" fill="#a3c83f"/><circle cx="454" cy="306.2" r="2.45" fill="#b2c535"/><circle cx="463" cy="282.3" r="2.45" fill="#90ca4d"/><circle cx="454.8" cy="272.9" r="2.45" fill="#50cc7f"/><circle cx="460" cy="283.5" r="2.45" fill="#80cc5a"/><circle cx="448" cy="251" r="2.45" fill="#25c2ad"/><circle cx="459.6" cy="285.2" r="2.45" fill="#7ccc5c"/><circle cx="462.8" cy="276.1" r="2.45" fill="#48cb86"/><circle cx="451.2" cy="300.8" r="2.45" fill="#9bc944"/><circle cx="464.3" cy="273.4" r="2.45" fill="#3ac994"/><circle cx="465" cy="281.5" r="2.45" fill="#4fcc80"/><circle cx="449.6" cy="297" r="2.45" fill="#c5c22a"/><circle cx="448.9" cy="289.1" r="2.45" fill="#9cc944"/><circle cx="446.9" cy="288.3" r="2.45" fill="#87cb54"/><circle cx="447.9" cy="275.6" r="2.45" fill="#56cc7b"/><circle cx="453.3" cy="274.5" r="2.45" fill="#48cb86"/><circle cx="463.6" cy="286.2" r="2.45" fill="#94ca4a"/><circle cx="464.4" cy="291.8" r="2.45" fill="#c9c129"/><circle cx="445.2" cy="295.1" r="2.45" fill="#9dc943"/><circle cx="470.6" cy="308.5" r="2.45" fill="#adc638"/><circle cx="443.8" cy="293" r="2.45" fill="#aec637"/><circle cx="460" cy="281.9" r="2.45" fill="#78cc5f"/><circle cx="459.2" cy="281.8" r="2.45" fill="#85cb55"/><circle cx="432.1" cy="292.5" r="2.45" fill="#81cc59"/><circle cx="462.1" cy="279.6" r="2.45" fill="#50cc7f"/><circle cx="462.2" cy="317.1" r="2.45" fill="#cac129"/><circle cx="435.1" cy="327.7" r="2.45" fill="#fec537"/><circle cx="454.8" cy="340.3" r="2.45" fill="#fec636"/><circle cx="471.7" cy="328.2" r="2.45" fill="#cfc028"/><circle cx="465" cy="340.7" r="2.45" fill="#e2bc2b"/><circle cx="453.6" cy="326.1" r="2.45" fill="#cdc028"/><circle cx="444.4" cy="340.3" r="2.45" fill="#febf3c"/><circle cx="463.5" cy="318.1" r="2.45" fill="#fec13a"/><circle cx="462.5" cy="323" r="2.45" fill="#f5ba3a"/><circle cx="462.2" cy="349.3" r="2.45" fill="#f6de29"/><circle cx="447.7" cy="323.4" r="2.45" fill="#edba33"/><circle cx="457.9" cy="328.6" r="2.45" fill="#feca33"/><circle cx="431.7" cy="325.3" r="2.45" fill="#f5e227"/><circle cx="462.2" cy="319.3" r="2.45" fill="#f8da2b"/><circle cx="453.9" cy="331.3" r="2.45" fill="#dfbc2a"/><circle cx="432.5" cy="315.2" r="2.45" fill="#fabb3d"/><circle cx="443.5" cy="347.1" r="2.45" fill="#f5e427"/><circle cx="466.1" cy="311.5" r="2.45" fill="#bac430"/><circle cx="452.5" cy="327.3" r="2.45" fill="#f5ba3b"/><circle cx="481.6" cy="330.3" r="2.45" fill="#febe3c"/><circle cx="443.4" cy="335" r="2.45" fill="#f9d72d"/><circle cx="468.6" cy="327.5" r="2.45" fill="#f5e427"/><circle cx="429.2" cy="324.4" r="2.45" fill="#f1ba37"/><circle cx="452.1" cy="318.5" r="2.45" fill="#fec03b"/><circle cx="437.7" cy="329.4" r="2.45" fill="#f7db2a"/><circle cx="473" cy="314.7" r="2.45" fill="#d3bf27"/><circle cx="451.3" cy="340.1" r="2.45" fill="#fad52e"/><circle cx="447.3" cy="338.6" r="2.45" fill="#f5e924"/><circle cx="451.8" cy="314.6" r="2.45" fill="#fbbc3d"/><circle cx="447.2" cy="301.6" r="2.45" fill="#bac430"/><circle cx="448.2" cy="333.8" r="2.45" fill="#f5ba3b"/><circle cx="473.4" cy="314.2" r="2.45" fill="#fdcb33"/><circle cx="473.2" cy="319" r="2.45" fill="#fbbc3d"/><circle cx="455.5" cy="308.8" r="2.45" fill="#fbd22f"/><circle cx="426.2" cy="314.7" r="2.45" fill="#febe3c"/><circle cx="453.8" cy="330" r="2.45" fill="#e8bb2f"/><circle cx="454" cy="341.6" r="2.45" fill="#e0bc2a"/><circle cx="457" cy="319.4" r="2.45" fill="#c5c22a"/><circle cx="460.1" cy="317.1" r="2.45" fill="#f8ba3d"/><circle cx="468.1" cy="332.2" r="2.45" fill="#cac129"/><circle cx="485.6" cy="354.4" r="2.45" fill="#fdcc32"/><circle cx="461.2" cy="354.4" r="2.45" fill="#f5ef20"/><circle cx="440.4" cy="330.7" r="2.45" fill="#fad52d"/><circle cx="449.4" cy="325.4" r="2.45" fill="#fdcb33"/><circle cx="467.4" cy="323.2" r="2.45" fill="#e4bb2c"/><circle cx="440.2" cy="327.4" r="2.45" fill="#f6df29"/><circle cx="454.5" cy="340.5" r="2.45" fill="#fbbc3d"/><circle cx="464.1" cy="332.3" r="2.45" fill="#fec03b"/><circle cx="455.2" cy="324.3" r="2.45" fill="#e1bc2b"/><circle cx="441.8" cy="344.1" r="2.45" fill="#f5e725"/><circle cx="446.5" cy="322.1" r="2.45" fill="#f1ba37"/><circle cx="459.2" cy="319.4" r="2.45" fill="#fdbd3d"/><circle cx="446.1" cy="301.6" r="2.45" fill="#d3bf27"/><circle cx="428.9" cy="327.5" r="2.45" fill="#fdcc32"/><circle cx="466.1" cy="311.9" r="2.45" fill="#ebba32"/><circle cx="481.9" cy="331.8" r="2.45" fill="#d4bf28"/><circle cx="449.9" cy="340.7" r="2.45" fill="#f5e227"/><circle cx="475.2" cy="329.7" r="2.45" fill="#cac129"/><circle cx="465.6" cy="320.6" r="2.45" fill="#f7dc2a"/><circle cx="457.7" cy="316.6" r="2.45" fill="#bdc32e"/><circle cx="458.3" cy="354.4" r="2.45" fill="#f0ba36"/><circle cx="436.3" cy="317.8" r="2.45" fill="#e8bb2f"/><circle cx="454.7" cy="333.2" r="2.45" fill="#f9d82c"/><circle cx="450.1" cy="318.1" r="2.45" fill="#f3ba38"/><circle cx="444" cy="334.4" r="2.45" fill="#fec13a"/><circle cx="442.8" cy="323.5" r="2.45" fill="#dcbd29"/><circle cx="464.1" cy="320.9" r="2.45" fill="#f8d92b"/><circle cx="431.5" cy="314.2" r="2.45" fill="#bac430"/><circle cx="426.4" cy="323.9" r="2.45" fill="#f8d92b"/><circle cx="451.8" cy="318.3" r="2.45" fill="#d4bf28"/><circle cx="456.9" cy="327" r="2.45" fill="#f6e128"/><circle cx="454.9" cy="317.7" r="2.45" fill="#fec438"/><circle cx="460.2" cy="335.7" r="2.45" fill="#fbd32e"/><circle cx="450.1" cy="339.1" r="2.45" fill="#f9bb3d"/><circle cx="472.9" cy="344.7" r="2.45" fill="#e6bb2d"/><circle cx="454.6" cy="337.9" r="2.45" fill="#fec835"/><circle cx="459.9" cy="321.6" r="2.45" fill="#ddbd29"/><circle cx="432.6" cy="317.3" r="2.45" fill="#bec32e"/><circle cx="469.4" cy="339.9" r="2.45" fill="#cdc028"/><circle cx="454.3" cy="318" r="2.45" fill="#fec239"/><circle cx="453.5" cy="335.3" r="2.45" fill="#fec13a"/><circle cx="454.1" cy="327.6" r="2.45" fill="#fdce31"/><circle cx="444.9" cy="310.5" r="2.45" fill="#bac430"/><circle cx="475.3" cy="330.7" r="2.45" fill="#d2bf27"/><circle cx="466.2" cy="343.1" r="2.45" fill="#f5ec23"/><circle cx="206.3" cy="418" r="2.45" fill="#e8bb2e"/><circle cx="215.3" cy="423.4" r="2.45" fill="#fec13a"/><circle cx="239.6" cy="427.9" r="2.45" fill="#fdcc32"/><circle cx="249.5" cy="433.3" r="2.45" fill="#f7db2a"/><circle cx="255.9" cy="435.1" r="2.45" fill="#f5ef20"/><circle cx="227" cy="440.5" r="2.45" fill="#f7dd2a"/><circle cx="241.4" cy="454" r="2.45" fill="#fcbc3d"/><circle cx="221.6" cy="468.5" r="2.45" fill="#dabd28"/><circle cx="247.7" cy="466.7" r="2.45" fill="#f8da2b"/><circle cx="250.5" cy="477.5" r="2.45" fill="#f6f21e"/><circle cx="236" cy="482.9" r="2.45" fill="#d1bf27"/><circle cx="249.5" cy="487.4" r="2.45" fill="#f6e128"/><circle cx="255.9" cy="489.2" r="2.45" fill="#e8bb2f"/><circle cx="263" cy="490" r="2.45" fill="#fec537"/><circle cx="267.6" cy="483.8" r="2.45" fill="#feca33"/><circle cx="268.5" cy="488.3" r="2.45" fill="#fbd22f"/><circle cx="247.7" cy="493.7" r="2.45" fill="#f7f31d"/><circle cx="253.2" cy="497.3" r="2.45" fill="#f8d92c"/><circle cx="277.5" cy="473.9" r="2.45" fill="#febf3b"/><circle cx="282.9" cy="482.9" r="2.45" fill="#f7db2a"/><circle cx="270.3" cy="459.5" r="2.45" fill="#fec537"/><circle cx="279.3" cy="440.5" r="2.45" fill="#68cd6b"/><circle cx="269.4" cy="446.8" r="2.45" fill="#65cd6e"/><circle cx="272" cy="446" r="2.45" fill="#6dcd68"/><circle cx="291.9" cy="450.5" r="2.45" fill="#61cd72"/><circle cx="339.5" cy="437" r="2.45" fill="#39c895"/><circle cx="358.4" cy="448.7" r="2.45" fill="#35c79b"/><circle cx="366.5" cy="465.8" r="2.45" fill="#febe3c"/><circle cx="373.7" cy="479.3" r="2.45" fill="#f9bb3d"/><circle cx="382.7" cy="488.3" r="2.45" fill="#fdce31"/><circle cx="378.2" cy="495.5" r="2.45" fill="#fccf31"/><circle cx="348.5" cy="502.7" r="2.45" fill="#fbbc3d"/><circle cx="302.5" cy="498.2" r="2.45" fill="#fec537"/><circle cx="328.1" cy="444.3" r="2.45" fill="#30c5a2"/><circle cx="335.3" cy="441.5" r="2.45" fill="#3dc990"/><circle cx="327.3" cy="445.3" r="2.45" fill="#33c69d"/><circle cx="329.3" cy="442.7" r="2.45" fill="#39c994"/><circle cx="315.8" cy="447.2" r="2.45" fill="#26c2ac"/><circle cx="323.4" cy="445.2" r="2.45" fill="#23c1af"/><circle cx="341.5" cy="444" r="2.45" fill="#37c897"/><circle cx="318" cy="444.5" r="2.45" fill="#33c69d"/><circle cx="343.2" cy="444.3" r="2.45" fill="#30c5a1"/><circle cx="344.7" cy="443.5" r="2.45" fill="#25c2ae"/><circle cx="309.7" cy="438.7" r="2.45" fill="#35c79a"/><circle cx="314" cy="446.7" r="2.45" fill="#2fc5a2"/><circle cx="347.3" cy="446" r="2.45" fill="#3ac994"/><circle cx="322.4" cy="443.3" r="2.45" fill="#26c2ad"/><circle cx="318.1" cy="442.9" r="2.45" fill="#28c3aa"/><circle cx="272.4" cy="455.1" r="2.45" fill="#4ccb83"/><circle cx="316.6" cy="465.7" r="2.45" fill="#90ca4d"/><circle cx="332.8" cy="453.5" r="2.45" fill="#71cd65"/><circle cx="298.1" cy="461.4" r="2.45" fill="#81cc58"/><circle cx="261.6" cy="447.3" r="2.45" fill="#43ca8a"/><circle cx="349.6" cy="467.5" r="2.45" fill="#a0c841"/><circle cx="278.2" cy="463.2" r="2.45" fill="#afc636"/><circle cx="313.9" cy="458.8" r="2.45" fill="#4ccb83"/><circle cx="331.9" cy="476.4" r="2.45" fill="#cec028"/><circle cx="342.4" cy="468" r="2.45" fill="#84cb56"/><circle cx="345.8" cy="457.7" r="2.45" fill="#66cd6d"/><circle cx="318.8" cy="466.3" r="2.45" fill="#9ec942"/><circle cx="322.9" cy="456.9" r="2.45" fill="#4bcb83"/><circle cx="315.1" cy="456" r="2.45" fill="#47cb87"/><circle cx="283.5" cy="452.3" r="2.45" fill="#35c79a"/><circle cx="282.6" cy="445.3" r="2.45" fill="#3cc991"/><circle cx="320.8" cy="473.4" r="2.45" fill="#92ca4b"/><circle cx="296" cy="462.9" r="2.45" fill="#7ecc5a"/><circle cx="303.6" cy="468.9" r="2.45" fill="#98c947"/><circle cx="286.8" cy="447.9" r="2.45" fill="#48cb86"/><circle cx="321.5" cy="453" r="2.45" fill="#42ca8b"/><circle cx="325.1" cy="465.4" r="2.45" fill="#80cc59"/><circle cx="327.2" cy="465.7" r="2.45" fill="#66cd6d"/><circle cx="305.2" cy="461.3" r="2.45" fill="#6ecd67"/><circle cx="262.6" cy="450.3" r="2.45" fill="#5acc77"/><circle cx="352.5" cy="453" r="2.45" fill="#93ca4b"/><circle cx="285.4" cy="461.4" r="2.45" fill="#9ac945"/><circle cx="336.2" cy="464.6" r="2.45" fill="#6fcd65"/><circle cx="328.5" cy="458.1" r="2.45" fill="#3bc993"/><circle cx="364.5" cy="472.5" r="2.45" fill="#cec028"/><circle cx="290" cy="465.3" r="2.45" fill="#b4c534"/><circle cx="349.9" cy="465.7" r="2.45" fill="#74cc62"/><circle cx="310.9" cy="446.3" r="2.45" fill="#2ec5a4"/><circle cx="316.1" cy="454.5" r="2.45" fill="#59cc79"/><circle cx="308.6" cy="471" r="2.45" fill="#c6c22a"/><circle cx="310.8" cy="467" r="2.45" fill="#85cb56"/><circle cx="304.2" cy="464.1" r="2.45" fill="#6ccd69"/><circle cx="307.6" cy="451.1" r="2.45" fill="#50cc7f"/><circle cx="352.4" cy="461.7" r="2.45" fill="#83cc57"/><circle cx="292.8" cy="449.8" r="2.45" fill="#36c899"/><circle cx="345.4" cy="478.5" r="2.45" fill="#cec028"/><circle cx="295.4" cy="461.5" r="2.45" fill="#75cc62"/><circle cx="331.7" cy="464.7" r="2.45" fill="#93ca4a"/><circle cx="327.9" cy="458.8" r="2.45" fill="#66cd6d"/><circle cx="272.6" cy="450.9" r="2.45" fill="#36c898"/><circle cx="310.5" cy="453.8" r="2.45" fill="#5bcc76"/><circle cx="325.1" cy="453.3" r="2.45" fill="#46cb87"/><circle cx="289.9" cy="460.9" r="2.45" fill="#a3c83f"/><circle cx="333.5" cy="461.1" r="2.45" fill="#9ec942"/><circle cx="275.7" cy="463.2" r="2.45" fill="#75cc61"/><circle cx="258.8" cy="464.8" r="2.45" fill="#b1c635"/><circle cx="288.4" cy="457.1" r="2.45" fill="#63cd70"/><circle cx="316.8" cy="451.6" r="2.45" fill="#43ca8b"/><circle cx="323.9" cy="463.1" r="2.45" fill="#a1c840"/><circle cx="312.8" cy="473.3" r="2.45" fill="#a4c83e"/><circle cx="320.9" cy="449.6" r="2.45" fill="#36c799"/><circle cx="345.4" cy="459.4" r="2.45" fill="#80cc59"/><circle cx="312.5" cy="453.6" r="2.45" fill="#51cc7f"/><circle cx="301.3" cy="455.2" r="2.45" fill="#70cd65"/><circle cx="329" cy="459" r="2.45" fill="#5ccc75"/><circle cx="319.8" cy="460.5" r="2.45" fill="#91ca4c"/><circle cx="364.4" cy="473.3" r="2.45" fill="#b3c534"/><circle cx="309.7" cy="454.3" r="2.45" fill="#48cb86"/><circle cx="289.6" cy="453.9" r="2.45" fill="#51cc7f"/><circle cx="331" cy="460.4" r="2.45" fill="#73cd63"/><circle cx="282.6" cy="465.2" r="2.45" fill="#9bc945"/><circle cx="354.7" cy="471.4" r="2.45" fill="#ccc028"/><circle cx="306.4" cy="463.3" r="2.45" fill="#c3c22b"/><circle cx="282.9" cy="462.4" r="2.45" fill="#a9c73a"/><circle cx="322.3" cy="466.1" r="2.45" fill="#b1c635"/><circle cx="296.7" cy="460" r="2.45" fill="#61cd72"/><circle cx="297.2" cy="453.7" r="2.45" fill="#56cc7b"/><circle cx="316.1" cy="463.3" r="2.45" fill="#63cd70"/><circle cx="359.9" cy="474.6" r="2.45" fill="#c9c129"/><circle cx="304.4" cy="458.1" r="2.45" fill="#7acc5e"/><circle cx="324.6" cy="451.4" r="2.45" fill="#5fcd73"/><circle cx="366.9" cy="457" r="2.45" fill="#80cc59"/><circle cx="322.1" cy="460.7" r="2.45" fill="#9bc944"/><circle cx="284.1" cy="456.4" r="2.45" fill="#89cb53"/><circle cx="308.6" cy="456.7" r="2.45" fill="#69cd6b"/><circle cx="300.7" cy="467.7" r="2.45" fill="#84cb56"/><circle cx="335.5" cy="455.7" r="2.45" fill="#71cd64"/><circle cx="312.5" cy="446.6" r="2.45" fill="#3dc990"/><circle cx="287.4" cy="453.2" r="2.45" fill="#7bcc5d"/><circle cx="286.8" cy="449.2" r="2.45" fill="#66cd6d"/><circle cx="314.3" cy="469.8" r="2.45" fill="#acc738"/><circle cx="291.6" cy="456.2" r="2.45" fill="#82cc58"/><circle cx="335.9" cy="463.6" r="2.45" fill="#89cb53"/><circle cx="310.8" cy="456" r="2.45" fill="#93ca4b"/><circle cx="314.3" cy="453.1" r="2.45" fill="#4ccb83"/><circle cx="330.1" cy="466.7" r="2.45" fill="#93ca4b"/><circle cx="296.7" cy="457.6" r="2.45" fill="#46cb88"/><circle cx="280.5" cy="459.8" r="2.45" fill="#69cd6b"/><circle cx="321" cy="468.9" r="2.45" fill="#afc636"/><circle cx="311.4" cy="473" r="2.45" fill="#c2c22c"/><circle cx="303.7" cy="463.1" r="2.45" fill="#8fcb4e"/><circle cx="292.1" cy="457.1" r="2.45" fill="#64cd6f"/><circle cx="265.2" cy="451.4" r="2.45" fill="#49cb85"/><circle cx="303.9" cy="448.3" r="2.45" fill="#3dc990"/><circle cx="311.9" cy="460.5" r="2.45" fill="#5dcc75"/><circle cx="329.6" cy="455" r="2.45" fill="#5acc78"/><circle cx="345.5" cy="460.8" r="2.45" fill="#6dcd68"/><circle cx="339.5" cy="461.8" r="2.45" fill="#77cc60"/><circle cx="317.4" cy="467.2" r="2.45" fill="#62cd70"/><circle cx="293.8" cy="450.7" r="2.45" fill="#3ac994"/><circle cx="294" cy="475.8" r="2.45" fill="#edba33"/><circle cx="291.9" cy="483" r="2.45" fill="#fec537"/><circle cx="296.9" cy="483.8" r="2.45" fill="#f8ba3d"/><circle cx="330.8" cy="482.6" r="2.45" fill="#cbc129"/><circle cx="292.9" cy="475.1" r="2.45" fill="#c6c22a"/><circle cx="348" cy="483.6" r="2.45" fill="#fec636"/><circle cx="355.4" cy="487.1" r="2.45" fill="#f5e725"/><circle cx="288.8" cy="475.3" r="2.45" fill="#fdbd3d"/><circle cx="387.2" cy="492.4" r="2.45" fill="#fcd12f"/><circle cx="302.9" cy="482.3" r="2.45" fill="#fbd22f"/><circle cx="323.7" cy="502.1" r="2.45" fill="#fec437"/><circle cx="364.1" cy="494.3" r="2.45" fill="#febf3b"/><circle cx="275.8" cy="478.8" r="2.45" fill="#edba33"/><circle cx="314.8" cy="469" r="2.45" fill="#e7bb2e"/><circle cx="308.6" cy="481.1" r="2.45" fill="#fcd030"/><circle cx="312.6" cy="488" r="2.45" fill="#e3bc2c"/><circle cx="291.1" cy="484.1" r="2.45" fill="#f5e526"/><circle cx="309" cy="480.1" r="2.45" fill="#f6e128"/><circle cx="317" cy="494.5" r="2.45" fill="#feca33"/><circle cx="365.9" cy="498.8" r="2.45" fill="#f7dc2a"/><circle cx="345.6" cy="478.5" r="2.45" fill="#fec239"/><circle cx="280.8" cy="477.4" r="2.45" fill="#debd29"/><circle cx="304.1" cy="484.5" r="2.45" fill="#eaba31"/><circle cx="336.7" cy="477.6" r="2.45" fill="#e4bb2c"/><circle cx="308.5" cy="475.6" r="2.45" fill="#e9bb30"/><circle cx="289.1" cy="481.6" r="2.45" fill="#fbd22f"/><circle cx="338.4" cy="481" r="2.45" fill="#febd3c"/><circle cx="291.3" cy="485.4" r="2.45" fill="#e9bb2f"/><circle cx="358.5" cy="487.7" r="2.45" fill="#e4bb2c"/><circle cx="329.3" cy="495.1" r="2.45" fill="#eeba34"/><circle cx="352.2" cy="491.5" r="2.45" fill="#fdcb33"/><circle cx="358.3" cy="490.6" r="2.45" fill="#d5be28"/><circle cx="325" cy="487.4" r="2.45" fill="#f5ea23"/><circle cx="310.3" cy="490.5" r="2.45" fill="#e8bb2f"/><circle cx="339.6" cy="491.4" r="2.45" fill="#cfc028"/><circle cx="252.6" cy="475.7" r="2.45" fill="#f4ba39"/><circle cx="296.5" cy="483.4" r="2.45" fill="#fec338"/><circle cx="341.3" cy="484" r="2.45" fill="#fbd32e"/><circle cx="262.7" cy="483.2" r="2.45" fill="#f6dd2a"/><circle cx="345.8" cy="482.6" r="2.45" fill="#f5e924"/><circle cx="388.4" cy="489.3" r="2.45" fill="#f5e625"/><circle cx="312.6" cy="477.2" r="2.45" fill="#d2bf27"/><circle cx="373.7" cy="488.2" r="2.45" fill="#e8bb2f"/><circle cx="354.8" cy="499.3" r="2.45" fill="#f5e825"/><circle cx="356.4" cy="484.5" r="2.45" fill="#cbc029"/><circle cx="279" cy="469.5" r="2.45" fill="#e6bb2d"/><circle cx="297.1" cy="499.4" r="2.45" fill="#c5c22a"/><circle cx="299.5" cy="489.2" r="2.45" fill="#d4bf28"/><circle cx="336.2" cy="479.1" r="2.45" fill="#dbbd29"/><circle cx="362.7" cy="488.3" r="2.45" fill="#fad42e"/><circle cx="351.1" cy="491.4" r="2.45" fill="#e9bb30"/><circle cx="309.1" cy="478.7" r="2.45" fill="#f5e725"/><circle cx="322.2" cy="495" r="2.45" fill="#fad42e"/><circle cx="271.6" cy="482.3" r="2.45" fill="#f7ba3c"/><circle cx="332.9" cy="495.6" r="2.45" fill="#feca33"/><circle cx="289.8" cy="488.8" r="2.45" fill="#f6de29"/><circle cx="252.6" cy="484.3" r="2.45" fill="#f6de29"/><circle cx="312.1" cy="474.3" r="2.45" fill="#fad52d"/><circle cx="284.9" cy="478.3" r="2.45" fill="#fec537"/><circle cx="251.7" cy="482.1" r="2.45" fill="#febe3c"/><circle cx="286.6" cy="486.4" r="2.45" fill="#c7c12a"/><circle cx="270.9" cy="493.1" r="2.45" fill="#f0ba36"/><circle cx="327.4" cy="488.6" r="2.45" fill="#f9d82c"/><circle cx="305" cy="491.5" r="2.45" fill="#f6e128"/><circle cx="355.2" cy="485.2" r="2.45" fill="#f7dc2a"/><circle cx="377.9" cy="496.5" r="2.45" fill="#fabb3d"/><circle cx="387.2" cy="498.2" r="2.45" fill="#fdcc32"/><circle cx="343.8" cy="480.4" r="2.45" fill="#f5ee21"/><circle cx="357.6" cy="486.9" r="2.45" fill="#f5ea23"/><circle cx="325.4" cy="486.9" r="2.45" fill="#f6df29"/><circle cx="339.6" cy="473.3" r="2.45" fill="#f6e028"/><circle cx="307.9" cy="482.2" r="2.45" fill="#f6e029"/><circle cx="281.7" cy="485.1" r="2.45" fill="#edba33"/><circle cx="301.5" cy="473" r="2.45" fill="#f7ba3c"/><circle cx="332.1" cy="480.4" r="2.45" fill="#c5c22a"/><circle cx="351.5" cy="498.3" r="2.45" fill="#d6be28"/><circle cx="312" cy="476.7" r="2.45" fill="#fec934"/><circle cx="328.3" cy="495.7" r="2.45" fill="#f8d92b"/><circle cx="355.8" cy="497.4" r="2.45" fill="#fdbd3d"/><circle cx="335" cy="491.1" r="2.45" fill="#edba33"/><circle cx="325.9" cy="494.3" r="2.45" fill="#d3bf27"/><circle cx="373.4" cy="492.7" r="2.45" fill="#f6df29"/><circle cx="317.5" cy="483.8" r="2.45" fill="#d3bf27"/><circle cx="311.8" cy="475.2" r="2.45" fill="#f5e825"/><circle cx="308" cy="500.6" r="2.45" fill="#fabb3d"/><circle cx="349.7" cy="482.6" r="2.45" fill="#f5e725"/><circle cx="338.7" cy="502.3" r="2.45" fill="#f5e924"/><circle cx="338.2" cy="490.9" r="2.45" fill="#fec03b"/><circle cx="319.7" cy="484" r="2.45" fill="#fec03a"/><circle cx="337.8" cy="492.6" r="2.45" fill="#f0ba36"/><circle cx="277.4" cy="491.2" r="2.45" fill="#edba33"/><circle cx="349.7" cy="500.9" r="2.45" fill="#f1ba37"/><circle cx="345.2" cy="487.7" r="2.45" fill="#f5e526"/><circle cx="317.4" cy="485.6" r="2.45" fill="#f8d92c"/><circle cx="324" cy="485.4" r="2.45" fill="#f7db2a"/><circle cx="331.4" cy="480.8" r="2.45" fill="#f5e825"/><circle cx="319" cy="481.6" r="2.45" fill="#f8da2b"/><circle cx="299.2" cy="498.2" r="2.45" fill="#fec338"/><circle cx="333.9" cy="487.5" r="2.45" fill="#f9d82c"/><circle cx="330" cy="486.7" r="2.45" fill="#f6de29"/><circle cx="327.9" cy="497.8" r="2.45" fill="#fec338"/><circle cx="385.4" cy="488.5" r="2.45" fill="#e0bc2a"/><circle cx="287.3" cy="495.2" r="2.45" fill="#debc2a"/><circle cx="317.2" cy="492.6" r="2.45" fill="#fec13a"/><circle cx="286.2" cy="478.6" r="2.45" fill="#f5ed22"/>
<line x1="290.9" y1="328.1" x2="290.6" y2="309.1" stroke="#4563fd" stroke-width="1.5" stroke-linecap="round"/>
<line x1="290.6" y1="309.1" x2="290.4" y2="290.3" stroke="#327cfc" stroke-width="1.5" stroke-linecap="round"/>
<line x1="324.1" y1="311.3" x2="290.6" y2="309.1" stroke="#327cfc" stroke-width="1.5" stroke-linecap="round"/>
<line x1="291.2" y1="346.8" x2="290.9" y2="328.1" stroke="#4852f4" stroke-width="1.5" stroke-linecap="round"/>
<line x1="321.3" y1="330.1" x2="290.9" y2="328.1" stroke="#4563fd" stroke-width="1.5" stroke-linecap="round"/>
<line x1="290.6" y1="309.1" x2="257.4" y2="312.2" stroke="#327cfc" stroke-width="1.5" stroke-linecap="round"/>
<line x1="290.9" y1="328.1" x2="260.7" y2="330.9" stroke="#4563fd" stroke-width="1.5" stroke-linecap="round"/>
<line x1="321.3" y1="330.1" x2="324.1" y2="311.3" stroke="#4563fd" stroke-width="1.5" stroke-linecap="round"/>
<line x1="326.2" y1="292.6" x2="290.4" y2="290.3" stroke="#2797eb" stroke-width="1.5" stroke-linecap="round"/>
<line x1="290.4" y1="290.3" x2="290.3" y2="272" stroke="#2797eb" stroke-width="1.5" stroke-linecap="round"/>
<line x1="324.1" y1="311.3" x2="326.2" y2="292.6" stroke="#327cfc" stroke-width="1.5" stroke-linecap="round"/>
<line x1="290.4" y1="290.3" x2="255" y2="293.6" stroke="#2797eb" stroke-width="1.5" stroke-linecap="round"/>
<line x1="260.7" y1="330.9" x2="257.4" y2="312.2" stroke="#4563fd" stroke-width="1.5" stroke-linecap="round"/>
<line x1="317.8" y1="348.6" x2="291.2" y2="346.8" stroke="#4852f4" stroke-width="1.5" stroke-linecap="round"/>
<line x1="317.8" y1="348.6" x2="321.3" y2="330.1" stroke="#4852f4" stroke-width="1.5" stroke-linecap="round"/>
<line x1="291.2" y1="346.8" x2="264.9" y2="349.3" stroke="#4852f4" stroke-width="1.5" stroke-linecap="round"/>
<line x1="257.4" y1="312.2" x2="255" y2="293.6" stroke="#327cfc" stroke-width="1.5" stroke-linecap="round"/>
<line x1="264.9" y1="349.3" x2="260.7" y2="330.9" stroke="#4852f4" stroke-width="1.5" stroke-linecap="round"/>
<line x1="291.6" y1="364.7" x2="291.2" y2="346.8" stroke="#4741e5" stroke-width="1.5" stroke-linecap="round"/>
<line x1="326.2" y1="292.6" x2="327.4" y2="274.5" stroke="#2797eb" stroke-width="1.5" stroke-linecap="round"/>
<line x1="349" y1="336.7" x2="321.3" y2="330.1" stroke="#4563fd" stroke-width="1.5" stroke-linecap="round"/>
<line x1="313.7" y1="366.2" x2="317.8" y2="348.6" stroke="#4741e5" stroke-width="1.5" stroke-linecap="round"/>
<line x1="327.4" y1="274.5" x2="290.3" y2="272" stroke="#1ca9df" stroke-width="1.5" stroke-linecap="round"/>
<line x1="354.6" y1="318.6" x2="324.1" y2="311.3" stroke="#327cfc" stroke-width="1.5" stroke-linecap="round"/>
<line x1="290.3" y1="272" x2="253.5" y2="275.5" stroke="#1ca9df" stroke-width="1.5" stroke-linecap="round"/>
<line x1="255" y1="293.6" x2="253.5" y2="275.5" stroke="#2797eb" stroke-width="1.5" stroke-linecap="round"/>
<line x1="269.7" y1="366.8" x2="264.9" y2="349.3" stroke="#4741e5" stroke-width="1.5" stroke-linecap="round"/>
<line x1="313.7" y1="366.2" x2="291.6" y2="364.7" stroke="#4741e5" stroke-width="1.5" stroke-linecap="round"/>
<line x1="260.7" y1="330.9" x2="233.8" y2="338.2" stroke="#4563fd" stroke-width="1.5" stroke-linecap="round"/>
<line x1="290.3" y1="272" x2="290.3" y2="254.9" stroke="#1ca9df" stroke-width="1.5" stroke-linecap="round"/>
<line x1="342" y1="354.3" x2="317.8" y2="348.6" stroke="#4852f4" stroke-width="1.5" stroke-linecap="round"/>
<line x1="291.6" y1="364.7" x2="269.7" y2="366.8" stroke="#4741e5" stroke-width="1.5" stroke-linecap="round"/>
<line x1="257.4" y1="312.2" x2="227.7" y2="320.3" stroke="#327cfc" stroke-width="1.5" stroke-linecap="round"/>
<line x1="358.7" y1="300.4" x2="326.2" y2="292.6" stroke="#2797eb" stroke-width="1.5" stroke-linecap="round"/>
<line x1="264.9" y1="349.3" x2="241.3" y2="355.7" stroke="#4852f4" stroke-width="1.5" stroke-linecap="round"/>
<line x1="292" y1="381.4" x2="291.6" y2="364.7" stroke="#4332cb" stroke-width="1.5" stroke-linecap="round"/>
<line x1="255" y1="293.6" x2="223.3" y2="302.2" stroke="#2797eb" stroke-width="1.5" stroke-linecap="round"/>
<line x1="349" y1="336.7" x2="354.6" y2="318.6" stroke="#4563fd" stroke-width="1.5" stroke-linecap="round"/>
<line x1="342" y1="354.3" x2="349" y2="336.7" stroke="#4852f4" stroke-width="1.5" stroke-linecap="round"/>
<line x1="327.4" y1="274.5" x2="327.9" y2="257.4" stroke="#1ca9df" stroke-width="1.5" stroke-linecap="round"/>
<line x1="333.8" y1="371" x2="313.7" y2="366.2" stroke="#4741e5" stroke-width="1.5" stroke-linecap="round"/>
<line x1="309.1" y1="382.6" x2="313.7" y2="366.2" stroke="#4332cb" stroke-width="1.5" stroke-linecap="round"/>
<line x1="253.5" y1="275.5" x2="253" y2="258.3" stroke="#1ca9df" stroke-width="1.5" stroke-linecap="round"/>
<line x1="275.1" y1="383" x2="269.7" y2="366.8" stroke="#4332cb" stroke-width="1.5" stroke-linecap="round"/>
<line x1="354.6" y1="318.6" x2="358.7" y2="300.4" stroke="#327cfc" stroke-width="1.5" stroke-linecap="round"/>
<line x1="327.9" y1="257.4" x2="290.3" y2="254.9" stroke="#02bac3" stroke-width="1.5" stroke-linecap="round"/>
<line x1="269.7" y1="366.8" x2="250.1" y2="372.1" stroke="#4741e5" stroke-width="1.5" stroke-linecap="round"/>
<line x1="241.3" y1="355.7" x2="233.8" y2="338.2" stroke="#4852f4" stroke-width="1.5" stroke-linecap="round"/>
<line x1="233.8" y1="338.2" x2="227.7" y2="320.3" stroke="#4563fd" stroke-width="1.5" stroke-linecap="round"/>
<line x1="333.8" y1="371" x2="342" y2="354.3" stroke="#4741e5" stroke-width="1.5" stroke-linecap="round"/>
<line x1="290.3" y1="254.9" x2="253" y2="258.3" stroke="#02bac3" stroke-width="1.5" stroke-linecap="round"/>
<line x1="361.2" y1="282.5" x2="327.4" y2="274.5" stroke="#1ca9df" stroke-width="1.5" stroke-linecap="round"/>
<line x1="309.1" y1="382.6" x2="292" y2="381.4" stroke="#4332cb" stroke-width="1.5" stroke-linecap="round"/>
<line x1="292" y1="381.4" x2="275.1" y2="383" stroke="#4332cb" stroke-width="1.5" stroke-linecap="round"/>
<line x1="250.1" y1="372.1" x2="241.3" y2="355.7" stroke="#4741e5" stroke-width="1.5" stroke-linecap="round"/>
<line x1="227.7" y1="320.3" x2="223.3" y2="302.2" stroke="#327cfc" stroke-width="1.5" stroke-linecap="round"/>
<line x1="290.3" y1="254.9" x2="290.3" y2="239.2" stroke="#02bac3" stroke-width="1.5" stroke-linecap="round"/>
<line x1="253.5" y1="275.5" x2="220.6" y2="284.4" stroke="#1ca9df" stroke-width="1.5" stroke-linecap="round"/>
<line x1="358.7" y1="300.4" x2="361.2" y2="282.5" stroke="#2797eb" stroke-width="1.5" stroke-linecap="round"/>
<line x1="324.6" y1="386.3" x2="333.8" y2="371" stroke="#4332cb" stroke-width="1.5" stroke-linecap="round"/>
<line x1="324.6" y1="386.3" x2="309.1" y2="382.6" stroke="#4332cb" stroke-width="1.5" stroke-linecap="round"/>
<line x1="371.2" y1="347.3" x2="349" y2="336.7" stroke="#4563fd" stroke-width="1.5" stroke-linecap="round"/>
<line x1="361.4" y1="363.6" x2="342" y2="354.3" stroke="#4852f4" stroke-width="1.5" stroke-linecap="round"/>
<line x1="292.5" y1="396.5" x2="292" y2="381.4" stroke="#402ab4" stroke-width="1.5" stroke-linecap="round"/>
<line x1="275.1" y1="383" x2="260" y2="387.1" stroke="#4332cb" stroke-width="1.5" stroke-linecap="round"/>
<line x1="327.9" y1="257.4" x2="327.4" y2="241.7" stroke="#02bac3" stroke-width="1.5" stroke-linecap="round"/>
<line x1="260" y1="387.1" x2="250.1" y2="372.1" stroke="#4332cb" stroke-width="1.5" stroke-linecap="round"/>
<line x1="223.3" y1="302.2" x2="220.6" y2="284.4" stroke="#2797eb" stroke-width="1.5" stroke-linecap="round"/>
<line x1="379.1" y1="330.2" x2="354.6" y2="318.6" stroke="#327cfc" stroke-width="1.5" stroke-linecap="round"/>
<line x1="304.1" y1="397.3" x2="309.1" y2="382.6" stroke="#402ab4" stroke-width="1.5" stroke-linecap="round"/>
<line x1="253" y1="258.3" x2="253.5" y2="242.6" stroke="#02bac3" stroke-width="1.5" stroke-linecap="round"/>
<line x1="362.1" y1="265.5" x2="327.9" y2="257.4" stroke="#02bac3" stroke-width="1.5" stroke-linecap="round"/>
<line x1="281" y1="397.6" x2="275.1" y2="383" stroke="#402ab4" stroke-width="1.5" stroke-linecap="round"/>
<line x1="233.8" y1="338.2" x2="212.7" y2="349.4" stroke="#4563fd" stroke-width="1.5" stroke-linecap="round"/>
<line x1="241.3" y1="355.7" x2="222.9" y2="365.4" stroke="#4852f4" stroke-width="1.5" stroke-linecap="round"/>
<line x1="350" y1="378.7" x2="333.8" y2="371" stroke="#4741e5" stroke-width="1.5" stroke-linecap="round"/>
<line x1="327.4" y1="241.7" x2="290.3" y2="239.2" stroke="#31c69f" stroke-width="1.5" stroke-linecap="round"/>
<line x1="290.3" y1="239.2" x2="253.5" y2="242.6" stroke="#31c69f" stroke-width="1.5" stroke-linecap="round"/>
<line x1="253" y1="258.3" x2="219.7" y2="267.4" stroke="#02bac3" stroke-width="1.5" stroke-linecap="round"/>
<line x1="227.7" y1="320.3" x2="204.5" y2="332.5" stroke="#327cfc" stroke-width="1.5" stroke-linecap="round"/>
<line x1="250.1" y1="372.1" x2="234.8" y2="380.2" stroke="#4741e5" stroke-width="1.5" stroke-linecap="round"/>
<line x1="361.2" y1="282.5" x2="362.1" y2="265.5" stroke="#1ca9df" stroke-width="1.5" stroke-linecap="round"/>
<line x1="384.9" y1="312.8" x2="358.7" y2="300.4" stroke="#2797eb" stroke-width="1.5" stroke-linecap="round"/>
<line x1="304.1" y1="397.3" x2="292.5" y2="396.5" stroke="#402ab4" stroke-width="1.5" stroke-linecap="round"/>
<line x1="292.5" y1="396.5" x2="281" y2="397.6" stroke="#402ab4" stroke-width="1.5" stroke-linecap="round"/>
<line x1="314.7" y1="399.8" x2="324.6" y2="386.3" stroke="#402ab4" stroke-width="1.5" stroke-linecap="round"/>
<line x1="337.1" y1="392.2" x2="324.6" y2="386.3" stroke="#4332cb" stroke-width="1.5" stroke-linecap="round"/>
<line x1="361.4" y1="363.6" x2="371.2" y2="347.3" stroke="#4852f4" stroke-width="1.5" stroke-linecap="round"/>
<line x1="290.3" y1="239.2" x2="290.4" y2="225.4" stroke="#31c69f" stroke-width="1.5" stroke-linecap="round"/>
<line x1="270.7" y1="400.4" x2="260" y2="387.1" stroke="#402ab4" stroke-width="1.5" stroke-linecap="round"/>
<line x1="220.6" y1="284.4" x2="219.7" y2="267.4" stroke="#1ca9df" stroke-width="1.5" stroke-linecap="round"/>
<line x1="350" y1="378.7" x2="361.4" y2="363.6" stroke="#4741e5" stroke-width="1.5" stroke-linecap="round"/>
<line x1="223.3" y1="302.2" x2="198.5" y2="315.2" stroke="#2797eb" stroke-width="1.5" stroke-linecap="round"/>
<line x1="314.7" y1="399.8" x2="304.1" y2="397.3" stroke="#402ab4" stroke-width="1.5" stroke-linecap="round"/>
<line x1="260" y1="387.1" x2="248.1" y2="393.4" stroke="#4332cb" stroke-width="1.5" stroke-linecap="round"/>
<line x1="371.2" y1="347.3" x2="379.1" y2="330.2" stroke="#4563fd" stroke-width="1.5" stroke-linecap="round"/>
<line x1="281" y1="397.6" x2="270.7" y2="400.4" stroke="#402ab4" stroke-width="1.5" stroke-linecap="round"/>
<line x1="337.1" y1="392.2" x2="350" y2="378.7" stroke="#4332cb" stroke-width="1.5" stroke-linecap="round"/>
<line x1="234.8" y1="380.2" x2="222.9" y2="365.4" stroke="#4741e5" stroke-width="1.5" stroke-linecap="round"/>
<line x1="222.9" y1="365.4" x2="212.7" y2="349.4" stroke="#4852f4" stroke-width="1.5" stroke-linecap="round"/>
<line x1="388.4" y1="295.4" x2="361.2" y2="282.5" stroke="#1ca9df" stroke-width="1.5" stroke-linecap="round"/>
<line x1="327.4" y1="241.7" x2="326.2" y2="227.8" stroke="#31c69f" stroke-width="1.5" stroke-linecap="round"/>
<line x1="293" y1="409.6" x2="292.5" y2="396.5" stroke="#3e26a8" stroke-width="1.5" stroke-linecap="round"/>
<line x1="361.2" y1="249.7" x2="327.4" y2="241.7" stroke="#31c69f" stroke-width="1.5" stroke-linecap="round"/>
<line x1="248.1" y1="393.4" x2="234.8" y2="380.2" stroke="#4332cb" stroke-width="1.5" stroke-linecap="round"/>
<line x1="298.8" y1="410" x2="304.1" y2="397.3" stroke="#3e26a8" stroke-width="1.5" stroke-linecap="round"/>
<line x1="212.7" y1="349.4" x2="204.5" y2="332.5" stroke="#4563fd" stroke-width="1.5" stroke-linecap="round"/>
<line x1="379.1" y1="330.2" x2="384.9" y2="312.8" stroke="#327cfc" stroke-width="1.5" stroke-linecap="round"/>
<line x1="253.5" y1="242.6" x2="255" y2="228.7" stroke="#31c69f" stroke-width="1.5" stroke-linecap="round"/>
<line x1="287.1" y1="410.1" x2="281" y2="397.6" stroke="#3e26a8" stroke-width="1.5" stroke-linecap="round"/>
<line x1="362.1" y1="265.5" x2="361.2" y2="249.7" stroke="#02bac3" stroke-width="1.5" stroke-linecap="round"/>
<line x1="323.2" y1="403.8" x2="314.7" y2="399.8" stroke="#402ab4" stroke-width="1.5" stroke-linecap="round"/>
<line x1="253.5" y1="242.6" x2="220.6" y2="251.6" stroke="#31c69f" stroke-width="1.5" stroke-linecap="round"/>
<line x1="323.2" y1="403.8" x2="337.1" y2="392.2" stroke="#402ab4" stroke-width="1.5" stroke-linecap="round"/>
<line x1="220.6" y1="284.4" x2="194.8" y2="298" stroke="#1ca9df" stroke-width="1.5" stroke-linecap="round"/>
<line x1="270.7" y1="400.4" x2="262.6" y2="404.6" stroke="#402ab4" stroke-width="1.5" stroke-linecap="round"/>
<line x1="326.2" y1="227.8" x2="290.4" y2="225.4" stroke="#57cc7a" stroke-width="1.5" stroke-linecap="round"/>
<line x1="304.2" y1="411.3" x2="314.7" y2="399.8" stroke="#3e26a8" stroke-width="1.5" stroke-linecap="round"/>
<line x1="262.6" y1="404.6" x2="248.1" y2="393.4" stroke="#402ab4" stroke-width="1.5" stroke-linecap="round"/>
<line x1="290.4" y1="225.4" x2="255" y2="228.7" stroke="#57cc7a" stroke-width="1.5" stroke-linecap="round"/>
<line x1="281.9" y1="411.6" x2="270.7" y2="400.4" stroke="#3e26a8" stroke-width="1.5" stroke-linecap="round"/>
<line x1="360.6" y1="388.4" x2="350" y2="378.7" stroke="#4741e5" stroke-width="1.5" stroke-linecap="round"/>
<line x1="219.7" y1="267.4" x2="220.6" y2="251.6" stroke="#02bac3" stroke-width="1.5" stroke-linecap="round"/>
<line x1="204.5" y1="332.5" x2="198.5" y2="315.2" stroke="#327cfc" stroke-width="1.5" stroke-linecap="round"/>
<line x1="374.2" y1="375.3" x2="361.4" y2="363.6" stroke="#4852f4" stroke-width="1.5" stroke-linecap="round"/>
<line x1="345.3" y1="399.8" x2="337.1" y2="392.2" stroke="#4332cb" stroke-width="1.5" stroke-linecap="round"/>
<line x1="384.9" y1="312.8" x2="388.4" y2="295.4" stroke="#2797eb" stroke-width="1.5" stroke-linecap="round"/>
<line x1="298.8" y1="410" x2="293" y2="409.6" stroke="#3e26a8" stroke-width="1.5" stroke-linecap="round"/>
<line x1="293" y1="409.6" x2="287.1" y2="410.1" stroke="#3e26a8" stroke-width="1.5" stroke-linecap="round"/>
<line x1="385.9" y1="360.8" x2="371.2" y2="347.3" stroke="#4563fd" stroke-width="1.5" stroke-linecap="round"/>
<line x1="234.8" y1="380.2" x2="225.2" y2="390.2" stroke="#4741e5" stroke-width="1.5" stroke-linecap="round"/>
<line x1="389.6" y1="278.6" x2="362.1" y2="265.5" stroke="#02bac3" stroke-width="1.5" stroke-linecap="round"/>
<line x1="304.2" y1="411.3" x2="298.8" y2="410" stroke="#3e26a8" stroke-width="1.5" stroke-linecap="round"/>
<line x1="222.9" y1="365.4" x2="211.3" y2="377.5" stroke="#4852f4" stroke-width="1.5" stroke-linecap="round"/>
<line x1="248.1" y1="393.4" x2="240.7" y2="401.1" stroke="#4332cb" stroke-width="1.5" stroke-linecap="round"/>
<line x1="287.1" y1="410.1" x2="281.9" y2="411.6" stroke="#3e26a8" stroke-width="1.5" stroke-linecap="round"/>
<line x1="308.5" y1="413.3" x2="323.2" y2="403.8" stroke="#3e26a8" stroke-width="1.5" stroke-linecap="round"/>
<line x1="290.4" y1="225.4" x2="290.6" y2="213.8" stroke="#57cc7a" stroke-width="1.5" stroke-linecap="round"/>
<line x1="328.8" y1="409" x2="323.2" y2="403.8" stroke="#402ab4" stroke-width="1.5" stroke-linecap="round"/>
<line x1="277.8" y1="413.7" x2="262.6" y2="404.6" stroke="#3e26a8" stroke-width="1.5" stroke-linecap="round"/>
<line x1="198.5" y1="315.2" x2="194.8" y2="298" stroke="#2797eb" stroke-width="1.5" stroke-linecap="round"/>
<line x1="212.7" y1="349.4" x2="199.5" y2="363.2" stroke="#4563fd" stroke-width="1.5" stroke-linecap="round"/>
<line x1="308.5" y1="413.3" x2="304.2" y2="411.3" stroke="#3e26a8" stroke-width="1.5" stroke-linecap="round"/>
<line x1="395.2" y1="345.1" x2="379.1" y2="330.2" stroke="#327cfc" stroke-width="1.5" stroke-linecap="round"/>
<line x1="262.6" y1="404.6" x2="257.6" y2="409.9" stroke="#402ab4" stroke-width="1.5" stroke-linecap="round"/>
<line x1="219.7" y1="267.4" x2="193.6" y2="281.1" stroke="#02bac3" stroke-width="1.5" stroke-linecap="round"/>
<line x1="281.9" y1="411.6" x2="277.8" y2="413.7" stroke="#3e26a8" stroke-width="1.5" stroke-linecap="round"/>
<line x1="358.7" y1="235.5" x2="326.2" y2="227.8" stroke="#57cc7a" stroke-width="1.5" stroke-linecap="round"/>
<line x1="345.3" y1="399.8" x2="360.6" y2="388.4" stroke="#4332cb" stroke-width="1.5" stroke-linecap="round"/>
<line x1="361.2" y1="249.7" x2="358.7" y2="235.5" stroke="#31c69f" stroke-width="1.5" stroke-linecap="round"/>
<line x1="326.2" y1="227.8" x2="324.1" y2="216" stroke="#57cc7a" stroke-width="1.5" stroke-linecap="round"/>
<line x1="328.8" y1="409" x2="345.3" y2="399.8" stroke="#402ab4" stroke-width="1.5" stroke-linecap="round"/>
<line x1="360.6" y1="388.4" x2="374.2" y2="375.3" stroke="#4741e5" stroke-width="1.5" stroke-linecap="round"/>
<line x1="293.5" y1="420.4" x2="293" y2="409.6" stroke="#3e26a8" stroke-width="1.5" stroke-linecap="round"/>
<line x1="388.4" y1="295.4" x2="389.6" y2="278.6" stroke="#1ca9df" stroke-width="1.5" stroke-linecap="round"/>
<line x1="293.5" y1="420.4" x2="298.8" y2="410" stroke="#3e26a8" stroke-width="1.5" stroke-linecap="round"/>
<line x1="255" y1="228.7" x2="257.4" y2="216.9" stroke="#57cc7a" stroke-width="1.5" stroke-linecap="round"/>
<line x1="293.5" y1="420.4" x2="287.1" y2="410.1" stroke="#3e26a8" stroke-width="1.5" stroke-linecap="round"/>
<line x1="255" y1="228.7" x2="223.3" y2="237.3" stroke="#57cc7a" stroke-width="1.5" stroke-linecap="round"/>
<line x1="311.3" y1="415.9" x2="308.5" y2="413.3" stroke="#3e26a8" stroke-width="1.5" stroke-linecap="round"/>
<line x1="204.5" y1="332.5" x2="189.9" y2="347.7" stroke="#327cfc" stroke-width="1.5" stroke-linecap="round"/>
<line x1="257.6" y1="409.9" x2="240.7" y2="401.1" stroke="#402ab4" stroke-width="1.5" stroke-linecap="round"/>
<line x1="240.7" y1="401.1" x2="225.2" y2="390.2" stroke="#4332cb" stroke-width="1.5" stroke-linecap="round"/>
<line x1="293.5" y1="420.4" x2="304.2" y2="411.3" stroke="#3e26a8" stroke-width="1.5" stroke-linecap="round"/>
<line x1="311.3" y1="415.9" x2="328.8" y2="409" stroke="#3e26a8" stroke-width="1.5" stroke-linecap="round"/>
<line x1="277.8" y1="413.7" x2="275.3" y2="416.4" stroke="#3e26a8" stroke-width="1.5" stroke-linecap="round"/>
<line x1="293.5" y1="420.4" x2="281.9" y2="411.6" stroke="#3e26a8" stroke-width="1.5" stroke-linecap="round"/>
<line x1="220.6" y1="251.6" x2="223.3" y2="237.3" stroke="#31c69f" stroke-width="1.5" stroke-linecap="round"/>
<line x1="374.2" y1="375.3" x2="385.9" y2="360.8" stroke="#4852f4" stroke-width="1.5" stroke-linecap="round"/>
<line x1="402.1" y1="328.6" x2="384.9" y2="312.8" stroke="#2797eb" stroke-width="1.5" stroke-linecap="round"/>
<line x1="275.3" y1="416.4" x2="257.6" y2="409.9" stroke="#3e26a8" stroke-width="1.5" stroke-linecap="round"/>
<line x1="225.2" y1="390.2" x2="211.3" y2="377.5" stroke="#4741e5" stroke-width="1.5" stroke-linecap="round"/>
<line x1="293.5" y1="420.4" x2="308.5" y2="413.3" stroke="#3e26a8" stroke-width="1.5" stroke-linecap="round"/>
<line x1="293.5" y1="420.4" x2="277.8" y2="413.7" stroke="#3e26a8" stroke-width="1.5" stroke-linecap="round"/>
<line x1="388.4" y1="262.6" x2="361.2" y2="249.7" stroke="#31c69f" stroke-width="1.5" stroke-linecap="round"/>
<line x1="324.1" y1="216" x2="290.6" y2="213.8" stroke="#9dc943" stroke-width="1.5" stroke-linecap="round"/>
<line x1="194.8" y1="298" x2="193.6" y2="281.1" stroke="#1ca9df" stroke-width="1.5" stroke-linecap="round"/>
<line x1="330.9" y1="414.7" x2="328.8" y2="409" stroke="#402ab4" stroke-width="1.5" stroke-linecap="round"/>
<line x1="290.6" y1="213.8" x2="257.4" y2="216.9" stroke="#9dc943" stroke-width="1.5" stroke-linecap="round"/>
<line x1="293.5" y1="420.4" x2="311.3" y2="415.9" stroke="#3e26a8" stroke-width="1.5" stroke-linecap="round"/>
<line x1="312.4" y1="418.8" x2="311.3" y2="415.9" stroke="#3e26a8" stroke-width="1.5" stroke-linecap="round"/>
<line x1="348.4" y1="408.2" x2="345.3" y2="399.8" stroke="#4332cb" stroke-width="1.5" stroke-linecap="round"/>
<line x1="293.5" y1="420.4" x2="275.3" y2="416.4" stroke="#3e26a8" stroke-width="1.5" stroke-linecap="round"/>
<line x1="275.3" y1="416.4" x2="274.5" y2="419.3" stroke="#3e26a8" stroke-width="1.5" stroke-linecap="round"/>
<line x1="211.3" y1="377.5" x2="199.5" y2="363.2" stroke="#4852f4" stroke-width="1.5" stroke-linecap="round"/>
<line x1="257.6" y1="409.9" x2="256" y2="415.7" stroke="#402ab4" stroke-width="1.5" stroke-linecap="round"/>
<line x1="385.9" y1="360.8" x2="395.2" y2="345.1" stroke="#4563fd" stroke-width="1.5" stroke-linecap="round"/>
<line x1="198.5" y1="315.2" x2="183" y2="331.5" stroke="#2797eb" stroke-width="1.5" stroke-linecap="round"/>
<line x1="220.6" y1="251.6" x2="194.8" y2="265.1" stroke="#31c69f" stroke-width="1.5" stroke-linecap="round"/>
<line x1="293.5" y1="420.4" x2="312.4" y2="418.8" stroke="#3e26a8" stroke-width="1.5" stroke-linecap="round"/>
<line x1="240.7" y1="401.1" x2="238.5" y2="409.7" stroke="#4332cb" stroke-width="1.5" stroke-linecap="round"/>
<line x1="364.7" y1="399.4" x2="360.6" y2="388.4" stroke="#4741e5" stroke-width="1.5" stroke-linecap="round"/>
<line x1="293.5" y1="420.4" x2="274.5" y2="419.3" stroke="#3e26a8" stroke-width="1.5" stroke-linecap="round"/>
<line x1="312.4" y1="418.8" x2="330.9" y2="414.7" stroke="#3e26a8" stroke-width="1.5" stroke-linecap="round"/>
<line x1="389.6" y1="278.6" x2="388.4" y2="262.6" stroke="#02bac3" stroke-width="1.5" stroke-linecap="round"/>
<line x1="406.3" y1="311.9" x2="388.4" y2="295.4" stroke="#1ca9df" stroke-width="1.5" stroke-linecap="round"/>
<line x1="274.5" y1="419.3" x2="256" y2="415.7" stroke="#3e26a8" stroke-width="1.5" stroke-linecap="round"/>
<line x1="293.5" y1="420.4" x2="311.6" y2="421.8" stroke="#3e26a8" stroke-width="1.5" stroke-linecap="round"/>
<line x1="311.6" y1="421.8" x2="312.4" y2="418.8" stroke="#3e26a8" stroke-width="1.5" stroke-linecap="round"/>
<line x1="290.6" y1="213.8" x2="290.9" y2="204.8" stroke="#9dc943" stroke-width="1.5" stroke-linecap="round"/>
<line x1="293.5" y1="420.4" x2="275.6" y2="422.2" stroke="#3e26a8" stroke-width="1.5" stroke-linecap="round"/>
<line x1="225.2" y1="390.2" x2="222.3" y2="401.3" stroke="#4741e5" stroke-width="1.5" stroke-linecap="round"/>
<line x1="199.5" y1="363.2" x2="189.9" y2="347.7" stroke="#4563fd" stroke-width="1.5" stroke-linecap="round"/>
<line x1="274.5" y1="419.3" x2="275.6" y2="422.2" stroke="#3e26a8" stroke-width="1.5" stroke-linecap="round"/>
<line x1="330.9" y1="414.7" x2="348.4" y2="408.2" stroke="#402ab4" stroke-width="1.5" stroke-linecap="round"/>
<line x1="358.7" y1="235.5" x2="354.6" y2="223.3" stroke="#57cc7a" stroke-width="1.5" stroke-linecap="round"/>
<line x1="379.1" y1="388.5" x2="374.2" y2="375.3" stroke="#4852f4" stroke-width="1.5" stroke-linecap="round"/>
<line x1="354.6" y1="223.3" x2="324.1" y2="216" stroke="#9dc943" stroke-width="1.5" stroke-linecap="round"/>
<line x1="293.5" y1="420.4" x2="309.1" y2="424.4" stroke="#3e26a8" stroke-width="1.5" stroke-linecap="round"/>
<line x1="395.2" y1="345.1" x2="402.1" y2="328.6" stroke="#327cfc" stroke-width="1.5" stroke-linecap="round"/>
<line x1="293.5" y1="420.4" x2="278.4" y2="424.8" stroke="#3e26a8" stroke-width="1.5" stroke-linecap="round"/>
<line x1="293.5" y1="420.4" x2="278.4" y2="424.8" stroke="#3e26a8" stroke-width="1.5" stroke-linecap="round"/>
<line x1="256" y1="415.7" x2="238.5" y2="409.7" stroke="#402ab4" stroke-width="1.5" stroke-linecap="round"/>
<line x1="193.6" y1="281.1" x2="194.8" y2="265.1" stroke="#02bac3" stroke-width="1.5" stroke-linecap="round"/>
<line x1="324.1" y1="216" x2="321.3" y2="206.8" stroke="#9dc943" stroke-width="1.5" stroke-linecap="round"/>
<line x1="293.5" y1="420.4" x2="305" y2="426.6" stroke="#3e26a8" stroke-width="1.5" stroke-linecap="round"/>
<line x1="257.4" y1="216.9" x2="227.7" y2="225" stroke="#9dc943" stroke-width="1.5" stroke-linecap="round"/>
<line x1="223.3" y1="237.3" x2="227.7" y2="225" stroke="#57cc7a" stroke-width="1.5" stroke-linecap="round"/>
<line x1="194.8" y1="298" x2="178.7" y2="314.9" stroke="#1ca9df" stroke-width="1.5" stroke-linecap="round"/>
<line x1="293.5" y1="420.4" x2="282.7" y2="426.9" stroke="#3e26a8" stroke-width="1.5" stroke-linecap="round"/>
<line x1="329.4" y1="420.5" x2="330.9" y2="414.7" stroke="#402ab4" stroke-width="1.5" stroke-linecap="round"/>
<line x1="348.4" y1="408.2" x2="364.7" y2="399.4" stroke="#4332cb" stroke-width="1.5" stroke-linecap="round"/>
<line x1="309.1" y1="424.4" x2="311.6" y2="421.8" stroke="#3e26a8" stroke-width="1.5" stroke-linecap="round"/>
<line x1="384.9" y1="247.9" x2="358.7" y2="235.5" stroke="#57cc7a" stroke-width="1.5" stroke-linecap="round"/>
<line x1="257.4" y1="216.9" x2="260.7" y2="207.6" stroke="#9dc943" stroke-width="1.5" stroke-linecap="round"/>
<line x1="293.5" y1="420.4" x2="299.8" y2="428" stroke="#3e26a8" stroke-width="1.5" stroke-linecap="round"/>
<line x1="211.3" y1="377.5" x2="207.8" y2="390.8" stroke="#4852f4" stroke-width="1.5" stroke-linecap="round"/>
<line x1="293.5" y1="420.4" x2="288.1" y2="428.2" stroke="#3e26a8" stroke-width="1.5" stroke-linecap="round"/>
<line x1="275.6" y1="422.2" x2="278.4" y2="424.8" stroke="#3e26a8" stroke-width="1.5" stroke-linecap="round"/>
<line x1="293.5" y1="420.4" x2="294" y2="428.6" stroke="#3e26a8" stroke-width="1.5" stroke-linecap="round"/>
<line x1="311.6" y1="421.8" x2="329.4" y2="420.5" stroke="#3e26a8" stroke-width="1.5" stroke-linecap="round"/>
<line x1="256" y1="415.7" x2="258.2" y2="421.5" stroke="#402ab4" stroke-width="1.5" stroke-linecap="round"/>
<line x1="391.4" y1="375.8" x2="385.9" y2="360.8" stroke="#4563fd" stroke-width="1.5" stroke-linecap="round"/>
<line x1="275.6" y1="422.2" x2="258.2" y2="421.5" stroke="#3e26a8" stroke-width="1.5" stroke-linecap="round"/>
<line x1="189.9" y1="347.7" x2="183" y2="331.5" stroke="#327cfc" stroke-width="1.5" stroke-linecap="round"/>
<line x1="238.5" y1="409.7" x2="222.3" y2="401.3" stroke="#4332cb" stroke-width="1.5" stroke-linecap="round"/>
<line x1="407.7" y1="295.2" x2="389.6" y2="278.6" stroke="#02bac3" stroke-width="1.5" stroke-linecap="round"/>
<line x1="223.3" y1="237.3" x2="198.5" y2="250.4" stroke="#57cc7a" stroke-width="1.5" stroke-linecap="round"/>
<line x1="305" y1="426.6" x2="309.1" y2="424.4" stroke="#3e26a8" stroke-width="1.5" stroke-linecap="round"/>
<line x1="278.4" y1="424.8" x2="282.7" y2="426.9" stroke="#3e26a8" stroke-width="1.5" stroke-linecap="round"/>
<line x1="402.1" y1="328.6" x2="406.3" y2="311.9" stroke="#2797eb" stroke-width="1.5" stroke-linecap="round"/>
<line x1="346.2" y1="416.7" x2="348.4" y2="408.2" stroke="#4332cb" stroke-width="1.5" stroke-linecap="round"/>
<line x1="388.4" y1="262.6" x2="384.9" y2="247.9" stroke="#31c69f" stroke-width="1.5" stroke-linecap="round"/>
<line x1="364.7" y1="399.4" x2="379.1" y2="388.5" stroke="#4741e5" stroke-width="1.5" stroke-linecap="round"/>
<line x1="321.3" y1="206.8" x2="290.9" y2="204.8" stroke="#d1bf27" stroke-width="1.5" stroke-linecap="round"/>
<line x1="290.9" y1="204.8" x2="260.7" y2="207.6" stroke="#d1bf27" stroke-width="1.5" stroke-linecap="round"/>
<line x1="199.5" y1="363.2" x2="195.5" y2="378.4" stroke="#4563fd" stroke-width="1.5" stroke-linecap="round"/>
<line x1="299.8" y1="428" x2="305" y2="426.6" stroke="#3e26a8" stroke-width="1.5" stroke-linecap="round"/>
<line x1="238.5" y1="409.7" x2="241.6" y2="418.1" stroke="#4332cb" stroke-width="1.5" stroke-linecap="round"/>
<line x1="282.7" y1="426.9" x2="288.1" y2="428.2" stroke="#3e26a8" stroke-width="1.5" stroke-linecap="round"/>
<line x1="309.1" y1="424.4" x2="324.3" y2="425.8" stroke="#3e26a8" stroke-width="1.5" stroke-linecap="round"/>
<line x1="193.6" y1="281.1" x2="177.3" y2="298.2" stroke="#02bac3" stroke-width="1.5" stroke-linecap="round"/>
<line x1="329.4" y1="420.5" x2="346.2" y2="416.7" stroke="#402ab4" stroke-width="1.5" stroke-linecap="round"/>
<line x1="401.4" y1="361.7" x2="395.2" y2="345.1" stroke="#327cfc" stroke-width="1.5" stroke-linecap="round"/>
<line x1="222.3" y1="401.3" x2="207.8" y2="390.8" stroke="#4741e5" stroke-width="1.5" stroke-linecap="round"/>
<line x1="294" y1="428.6" x2="299.8" y2="428" stroke="#3e26a8" stroke-width="1.5" stroke-linecap="round"/>
<line x1="278.4" y1="424.8" x2="263.8" y2="426.6" stroke="#3e26a8" stroke-width="1.5" stroke-linecap="round"/>
<line x1="278.4" y1="424.8" x2="263.8" y2="426.6" stroke="#3e26a8" stroke-width="1.5" stroke-linecap="round"/>
<line x1="324.3" y1="425.8" x2="329.4" y2="420.5" stroke="#402ab4" stroke-width="1.5" stroke-linecap="round"/>
<line x1="288.1" y1="428.2" x2="294" y2="428.6" stroke="#3e26a8" stroke-width="1.5" stroke-linecap="round"/>
<line x1="194.8" y1="265.1" x2="198.5" y2="250.4" stroke="#31c69f" stroke-width="1.5" stroke-linecap="round"/>
<line x1="183" y1="331.5" x2="178.7" y2="314.9" stroke="#2797eb" stroke-width="1.5" stroke-linecap="round"/>
<line x1="258.2" y1="421.5" x2="241.6" y2="418.1" stroke="#402ab4" stroke-width="1.5" stroke-linecap="round"/>
<line x1="258.2" y1="421.5" x2="263.8" y2="426.6" stroke="#402ab4" stroke-width="1.5" stroke-linecap="round"/>
<line x1="354.6" y1="223.3" x2="349" y2="213.4" stroke="#9dc943" stroke-width="1.5" stroke-linecap="round"/>
<line x1="379.1" y1="388.5" x2="391.4" y2="375.8" stroke="#4852f4" stroke-width="1.5" stroke-linecap="round"/>
<line x1="361.7" y1="410.4" x2="364.7" y2="399.4" stroke="#4741e5" stroke-width="1.5" stroke-linecap="round"/>
<line x1="290.9" y1="204.8" x2="291.2" y2="198.4" stroke="#d1bf27" stroke-width="1.5" stroke-linecap="round"/>
<line x1="349" y1="213.4" x2="321.3" y2="206.8" stroke="#d1bf27" stroke-width="1.5" stroke-linecap="round"/>
<line x1="189.9" y1="347.7" x2="185.5" y2="364.5" stroke="#327cfc" stroke-width="1.5" stroke-linecap="round"/>
<line x1="406.3" y1="311.9" x2="407.7" y2="295.2" stroke="#1ca9df" stroke-width="1.5" stroke-linecap="round"/>
<line x1="379.1" y1="234.9" x2="354.6" y2="223.3" stroke="#9dc943" stroke-width="1.5" stroke-linecap="round"/>
<line x1="406.3" y1="279.1" x2="388.4" y2="262.6" stroke="#31c69f" stroke-width="1.5" stroke-linecap="round"/>
<line x1="305" y1="426.6" x2="316.3" y2="430.1" stroke="#3e26a8" stroke-width="1.5" stroke-linecap="round"/>
<line x1="227.7" y1="225" x2="233.8" y2="214.9" stroke="#9dc943" stroke-width="1.5" stroke-linecap="round"/>
<line x1="282.7" y1="426.9" x2="272.3" y2="430.7" stroke="#3e26a8" stroke-width="1.5" stroke-linecap="round"/>
<line x1="260.7" y1="207.6" x2="233.8" y2="214.9" stroke="#d1bf27" stroke-width="1.5" stroke-linecap="round"/>
<line x1="222.3" y1="401.3" x2="226.3" y2="412.2" stroke="#4741e5" stroke-width="1.5" stroke-linecap="round"/>
<line x1="207.8" y1="390.8" x2="195.5" y2="378.4" stroke="#4852f4" stroke-width="1.5" stroke-linecap="round"/>
<line x1="321.3" y1="206.8" x2="317.8" y2="200.2" stroke="#d1bf27" stroke-width="1.5" stroke-linecap="round"/>
<line x1="408.7" y1="346.4" x2="402.1" y2="328.6" stroke="#2797eb" stroke-width="1.5" stroke-linecap="round"/>
<line x1="227.7" y1="225" x2="204.5" y2="237.2" stroke="#9dc943" stroke-width="1.5" stroke-linecap="round"/>
<line x1="346.2" y1="416.7" x2="361.7" y2="410.4" stroke="#4332cb" stroke-width="1.5" stroke-linecap="round"/>
<line x1="260.7" y1="207.6" x2="264.9" y2="200.9" stroke="#d1bf27" stroke-width="1.5" stroke-linecap="round"/>
<line x1="384.9" y1="247.9" x2="379.1" y2="234.9" stroke="#57cc7a" stroke-width="1.5" stroke-linecap="round"/>
<line x1="299.8" y1="428" x2="306" y2="432.9" stroke="#3e26a8" stroke-width="1.5" stroke-linecap="round"/>
<line x1="316.3" y1="430.1" x2="324.3" y2="425.8" stroke="#402ab4" stroke-width="1.5" stroke-linecap="round"/>
<line x1="288.1" y1="428.2" x2="282.8" y2="433.2" stroke="#3e26a8" stroke-width="1.5" stroke-linecap="round"/>
<line x1="194.8" y1="265.1" x2="178.7" y2="282" stroke="#31c69f" stroke-width="1.5" stroke-linecap="round"/>
<line x1="263.8" y1="426.6" x2="272.3" y2="430.7" stroke="#402ab4" stroke-width="1.5" stroke-linecap="round"/>
<line x1="178.7" y1="314.9" x2="177.3" y2="298.2" stroke="#1ca9df" stroke-width="1.5" stroke-linecap="round"/>
<line x1="294" y1="428.6" x2="294.4" y2="433.9" stroke="#3e26a8" stroke-width="1.5" stroke-linecap="round"/>
<line x1="391.4" y1="375.8" x2="401.4" y2="361.7" stroke="#4563fd" stroke-width="1.5" stroke-linecap="round"/>
<line x1="338.8" y1="424.5" x2="346.2" y2="416.7" stroke="#4332cb" stroke-width="1.5" stroke-linecap="round"/>
<line x1="375.6" y1="401.8" x2="379.1" y2="388.5" stroke="#4852f4" stroke-width="1.5" stroke-linecap="round"/>
<line x1="241.6" y1="418.1" x2="226.3" y2="412.2" stroke="#4332cb" stroke-width="1.5" stroke-linecap="round"/>
<line x1="324.3" y1="425.8" x2="338.8" y2="424.5" stroke="#402ab4" stroke-width="1.5" stroke-linecap="round"/>
<line x1="198.5" y1="250.4" x2="204.5" y2="237.2" stroke="#57cc7a" stroke-width="1.5" stroke-linecap="round"/>
<line x1="183" y1="331.5" x2="178.3" y2="349.4" stroke="#2797eb" stroke-width="1.5" stroke-linecap="round"/>
<line x1="241.6" y1="418.1" x2="249.8" y2="425.7" stroke="#4332cb" stroke-width="1.5" stroke-linecap="round"/>
<line x1="263.8" y1="426.6" x2="249.8" y2="425.7" stroke="#402ab4" stroke-width="1.5" stroke-linecap="round"/>
<line x1="263.8" y1="426.6" x2="249.8" y2="425.7" stroke="#402ab4" stroke-width="1.5" stroke-linecap="round"/>
<line x1="407.7" y1="295.2" x2="406.3" y2="279.1" stroke="#02bac3" stroke-width="1.5" stroke-linecap="round"/>
<line x1="317.8" y1="200.2" x2="291.2" y2="198.4" stroke="#f0ba36" stroke-width="1.5" stroke-linecap="round"/>
<line x1="207.8" y1="390.8" x2="212.7" y2="403.9" stroke="#4852f4" stroke-width="1.5" stroke-linecap="round"/>
<line x1="306" y1="432.9" x2="316.3" y2="430.1" stroke="#402ab4" stroke-width="1.5" stroke-linecap="round"/>
<line x1="195.5" y1="378.4" x2="185.5" y2="364.5" stroke="#4563fd" stroke-width="1.5" stroke-linecap="round"/>
<line x1="291.2" y1="198.4" x2="264.9" y2="200.9" stroke="#f0ba36" stroke-width="1.5" stroke-linecap="round"/>
<line x1="272.3" y1="430.7" x2="282.8" y2="433.2" stroke="#402ab4" stroke-width="1.5" stroke-linecap="round"/>
<line x1="402.1" y1="263.8" x2="384.9" y2="247.9" stroke="#57cc7a" stroke-width="1.5" stroke-linecap="round"/>
<line x1="413.1" y1="330.3" x2="406.3" y2="311.9" stroke="#1ca9df" stroke-width="1.5" stroke-linecap="round"/>
<line x1="361.7" y1="410.4" x2="375.6" y2="401.8" stroke="#4741e5" stroke-width="1.5" stroke-linecap="round"/>
<line x1="349" y1="213.4" x2="342" y2="205.9" stroke="#d1bf27" stroke-width="1.5" stroke-linecap="round"/>
<line x1="294.4" y1="433.9" x2="306" y2="432.9" stroke="#402ab4" stroke-width="1.5" stroke-linecap="round"/>
<line x1="282.8" y1="433.2" x2="294.4" y2="433.9" stroke="#402ab4" stroke-width="1.5" stroke-linecap="round"/>
<line x1="401.4" y1="361.7" x2="408.7" y2="346.4" stroke="#327cfc" stroke-width="1.5" stroke-linecap="round"/>
<line x1="371.2" y1="223.9" x2="349" y2="213.4" stroke="#d1bf27" stroke-width="1.5" stroke-linecap="round"/>
<line x1="177.3" y1="298.2" x2="178.7" y2="282" stroke="#02bac3" stroke-width="1.5" stroke-linecap="round"/>
<line x1="387.4" y1="391" x2="391.4" y2="375.8" stroke="#4563fd" stroke-width="1.5" stroke-linecap="round"/>
<line x1="316.3" y1="430.1" x2="326.9" y2="430.8" stroke="#402ab4" stroke-width="1.5" stroke-linecap="round"/>
<line x1="233.8" y1="214.9" x2="241.3" y2="207.3" stroke="#d1bf27" stroke-width="1.5" stroke-linecap="round"/>
<line x1="198.5" y1="250.4" x2="183" y2="266.6" stroke="#57cc7a" stroke-width="1.5" stroke-linecap="round"/>
<line x1="342" y1="205.9" x2="317.8" y2="200.2" stroke="#f0ba36" stroke-width="1.5" stroke-linecap="round"/>
<line x1="226.3" y1="412.2" x2="212.7" y2="403.9" stroke="#4741e5" stroke-width="1.5" stroke-linecap="round"/>
<line x1="178.7" y1="314.9" x2="173.8" y2="333.4" stroke="#1ca9df" stroke-width="1.5" stroke-linecap="round"/>
<line x1="272.3" y1="430.7" x2="262.3" y2="431.6" stroke="#402ab4" stroke-width="1.5" stroke-linecap="round"/>
<line x1="352.2" y1="420.5" x2="361.7" y2="410.4" stroke="#4741e5" stroke-width="1.5" stroke-linecap="round"/>
<line x1="379.1" y1="234.9" x2="371.2" y2="223.9" stroke="#9dc943" stroke-width="1.5" stroke-linecap="round"/>
<line x1="233.8" y1="214.9" x2="212.7" y2="226" stroke="#d1bf27" stroke-width="1.5" stroke-linecap="round"/>
<line x1="291.2" y1="198.4" x2="291.6" y2="195" stroke="#f0ba36" stroke-width="1.5" stroke-linecap="round"/>
<line x1="326.9" y1="430.8" x2="338.8" y2="424.5" stroke="#4332cb" stroke-width="1.5" stroke-linecap="round"/>
<line x1="264.9" y1="200.9" x2="241.3" y2="207.3" stroke="#f0ba36" stroke-width="1.5" stroke-linecap="round"/>
<line x1="185.5" y1="364.5" x2="178.3" y2="349.4" stroke="#327cfc" stroke-width="1.5" stroke-linecap="round"/>
<line x1="338.8" y1="424.5" x2="352.2" y2="420.5" stroke="#4332cb" stroke-width="1.5" stroke-linecap="round"/>
<line x1="195.5" y1="378.4" x2="201.1" y2="393.5" stroke="#4563fd" stroke-width="1.5" stroke-linecap="round"/>
<line x1="226.3" y1="412.2" x2="237" y2="422" stroke="#4741e5" stroke-width="1.5" stroke-linecap="round"/>
<line x1="406.3" y1="279.1" x2="402.1" y2="263.8" stroke="#31c69f" stroke-width="1.5" stroke-linecap="round"/>
<line x1="249.8" y1="425.7" x2="262.3" y2="431.6" stroke="#4332cb" stroke-width="1.5" stroke-linecap="round"/>
<line x1="317.8" y1="200.2" x2="313.7" y2="196.4" stroke="#f0ba36" stroke-width="1.5" stroke-linecap="round"/>
<line x1="204.5" y1="237.2" x2="212.7" y2="226" stroke="#9dc943" stroke-width="1.5" stroke-linecap="round"/>
<line x1="414.6" y1="313.9" x2="407.7" y2="295.2" stroke="#02bac3" stroke-width="1.5" stroke-linecap="round"/>
<line x1="249.8" y1="425.7" x2="237" y2="422" stroke="#4332cb" stroke-width="1.5" stroke-linecap="round"/>
<line x1="249.8" y1="425.7" x2="237" y2="422" stroke="#4332cb" stroke-width="1.5" stroke-linecap="round"/>
<line x1="264.9" y1="200.9" x2="269.7" y2="197" stroke="#f0ba36" stroke-width="1.5" stroke-linecap="round"/>
<line x1="306" y1="432.9" x2="311.8" y2="434.9" stroke="#402ab4" stroke-width="1.5" stroke-linecap="round"/>
<line x1="282.8" y1="433.2" x2="277.8" y2="435.3" stroke="#402ab4" stroke-width="1.5" stroke-linecap="round"/>
<line x1="408.7" y1="346.4" x2="413.1" y2="330.3" stroke="#2797eb" stroke-width="1.5" stroke-linecap="round"/>
<line x1="375.6" y1="401.8" x2="387.4" y2="391" stroke="#4852f4" stroke-width="1.5" stroke-linecap="round"/>
<line x1="395.2" y1="249.8" x2="379.1" y2="234.9" stroke="#9dc943" stroke-width="1.5" stroke-linecap="round"/>
<line x1="294.4" y1="433.9" x2="294.9" y2="436.4" stroke="#402ab4" stroke-width="1.5" stroke-linecap="round"/>
<line x1="397" y1="378.4" x2="401.4" y2="361.7" stroke="#327cfc" stroke-width="1.5" stroke-linecap="round"/>
<line x1="178.7" y1="282" x2="183" y2="266.6" stroke="#31c69f" stroke-width="1.5" stroke-linecap="round"/>
<line x1="177.3" y1="298.2" x2="172.3" y2="317" stroke="#02bac3" stroke-width="1.5" stroke-linecap="round"/>
<line x1="212.7" y1="403.9" x2="201.1" y2="393.5" stroke="#4852f4" stroke-width="1.5" stroke-linecap="round"/>
<line x1="311.8" y1="434.9" x2="326.9" y2="430.8" stroke="#4332cb" stroke-width="1.5" stroke-linecap="round"/>
<line x1="204.5" y1="237.2" x2="189.9" y2="252.5" stroke="#9dc943" stroke-width="1.5" stroke-linecap="round"/>
<line x1="262.3" y1="431.6" x2="277.8" y2="435.3" stroke="#4332cb" stroke-width="1.5" stroke-linecap="round"/>
<line x1="178.3" y1="349.4" x2="173.8" y2="333.4" stroke="#2797eb" stroke-width="1.5" stroke-linecap="round"/>
<line x1="313.7" y1="196.4" x2="291.6" y2="195" stroke="#fec934" stroke-width="1.5" stroke-linecap="round"/>
<line x1="364.1" y1="413.9" x2="375.6" y2="401.8" stroke="#4852f4" stroke-width="1.5" stroke-linecap="round"/>
<line x1="291.6" y1="195" x2="269.7" y2="197" stroke="#fec934" stroke-width="1.5" stroke-linecap="round"/>
<line x1="185.5" y1="364.5" x2="191.7" y2="381.1" stroke="#327cfc" stroke-width="1.5" stroke-linecap="round"/>
<line x1="361.4" y1="215.2" x2="342" y2="205.9" stroke="#f0ba36" stroke-width="1.5" stroke-linecap="round"/>
<line x1="342" y1="205.9" x2="333.8" y2="201.2" stroke="#f0ba36" stroke-width="1.5" stroke-linecap="round"/>
<line x1="371.2" y1="223.9" x2="361.4" y2="215.2" stroke="#d1bf27" stroke-width="1.5" stroke-linecap="round"/>
<line x1="413.1" y1="297.5" x2="406.3" y2="279.1" stroke="#31c69f" stroke-width="1.5" stroke-linecap="round"/>
<line x1="402.1" y1="263.8" x2="395.2" y2="249.8" stroke="#57cc7a" stroke-width="1.5" stroke-linecap="round"/>
<line x1="326.9" y1="430.8" x2="336.8" y2="428.6" stroke="#4332cb" stroke-width="1.5" stroke-linecap="round"/>
<line x1="241.3" y1="207.3" x2="250.1" y2="202.3" stroke="#f0ba36" stroke-width="1.5" stroke-linecap="round"/>
<line x1="212.7" y1="403.9" x2="225.5" y2="415.7" stroke="#4852f4" stroke-width="1.5" stroke-linecap="round"/>
<line x1="294.9" y1="436.4" x2="311.8" y2="434.9" stroke="#4332cb" stroke-width="1.5" stroke-linecap="round"/>
<line x1="241.3" y1="207.3" x2="222.9" y2="217" stroke="#f0ba36" stroke-width="1.5" stroke-linecap="round"/>
<line x1="413.1" y1="330.3" x2="414.6" y2="313.9" stroke="#1ca9df" stroke-width="1.5" stroke-linecap="round"/>
<line x1="352.2" y1="420.5" x2="364.1" y2="413.9" stroke="#4741e5" stroke-width="1.5" stroke-linecap="round"/>
<line x1="277.8" y1="435.3" x2="294.9" y2="436.4" stroke="#4332cb" stroke-width="1.5" stroke-linecap="round"/>
<line x1="336.8" y1="428.6" x2="352.2" y2="420.5" stroke="#4741e5" stroke-width="1.5" stroke-linecap="round"/>
<line x1="262.3" y1="431.6" x2="253.1" y2="429.7" stroke="#4332cb" stroke-width="1.5" stroke-linecap="round"/>
<line x1="387.4" y1="391" x2="397" y2="378.4" stroke="#4563fd" stroke-width="1.5" stroke-linecap="round"/>
<line x1="333.8" y1="201.2" x2="313.7" y2="196.4" stroke="#fec934" stroke-width="1.5" stroke-linecap="round"/>
<line x1="403.9" y1="364.2" x2="408.7" y2="346.4" stroke="#2797eb" stroke-width="1.5" stroke-linecap="round"/>
<line x1="212.7" y1="226" x2="222.9" y2="217" stroke="#d1bf27" stroke-width="1.5" stroke-linecap="round"/>
<line x1="237" y1="422" x2="253.1" y2="429.7" stroke="#4741e5" stroke-width="1.5" stroke-linecap="round"/>
<line x1="237" y1="422" x2="225.5" y2="415.7" stroke="#4741e5" stroke-width="1.5" stroke-linecap="round"/>
<line x1="237" y1="422" x2="225.5" y2="415.7" stroke="#4741e5" stroke-width="1.5" stroke-linecap="round"/>
<line x1="269.7" y1="197" x2="250.1" y2="202.3" stroke="#fec934" stroke-width="1.5" stroke-linecap="round"/>
<line x1="385.9" y1="237.4" x2="371.2" y2="223.9" stroke="#d1bf27" stroke-width="1.5" stroke-linecap="round"/>
<line x1="183" y1="266.6" x2="189.9" y2="252.5" stroke="#57cc7a" stroke-width="1.5" stroke-linecap="round"/>
<line x1="178.7" y1="282" x2="173.8" y2="300.6" stroke="#31c69f" stroke-width="1.5" stroke-linecap="round"/>
<line x1="291.6" y1="195" x2="292" y2="194.5" stroke="#fec934" stroke-width="1.5" stroke-linecap="round"/>
<line x1="173.8" y1="333.4" x2="172.3" y2="317" stroke="#1ca9df" stroke-width="1.5" stroke-linecap="round"/>
<line x1="201.1" y1="393.5" x2="191.7" y2="381.1" stroke="#4563fd" stroke-width="1.5" stroke-linecap="round"/>
<line x1="313.7" y1="196.4" x2="309.1" y2="195.6" stroke="#fec934" stroke-width="1.5" stroke-linecap="round"/>
<line x1="178.3" y1="349.4" x2="184.8" y2="367.1" stroke="#2797eb" stroke-width="1.5" stroke-linecap="round"/>
<line x1="212.7" y1="226" x2="199.5" y2="239.8" stroke="#d1bf27" stroke-width="1.5" stroke-linecap="round"/>
<line x1="269.7" y1="197" x2="275.1" y2="196" stroke="#fec934" stroke-width="1.5" stroke-linecap="round"/>
<line x1="311.8" y1="434.9" x2="317.2" y2="433.9" stroke="#4332cb" stroke-width="1.5" stroke-linecap="round"/>
<line x1="374.2" y1="404.9" x2="387.4" y2="391" stroke="#4563fd" stroke-width="1.5" stroke-linecap="round"/>
<line x1="408.7" y1="281.5" x2="402.1" y2="263.8" stroke="#57cc7a" stroke-width="1.5" stroke-linecap="round"/>
<line x1="277.8" y1="435.3" x2="273.2" y2="434.5" stroke="#4332cb" stroke-width="1.5" stroke-linecap="round"/>
<line x1="395.2" y1="249.8" x2="385.9" y2="237.4" stroke="#9dc943" stroke-width="1.5" stroke-linecap="round"/>
<line x1="414.6" y1="313.9" x2="413.1" y2="297.5" stroke="#02bac3" stroke-width="1.5" stroke-linecap="round"/>
<line x1="294.9" y1="436.4" x2="295.3" y2="435.9" stroke="#4332cb" stroke-width="1.5" stroke-linecap="round"/>
<line x1="408.2" y1="348.8" x2="413.1" y2="330.3" stroke="#1ca9df" stroke-width="1.5" stroke-linecap="round"/>
<line x1="397" y1="378.4" x2="403.9" y2="364.2" stroke="#327cfc" stroke-width="1.5" stroke-linecap="round"/>
<line x1="201.1" y1="393.5" x2="215.7" y2="407" stroke="#4563fd" stroke-width="1.5" stroke-linecap="round"/>
<line x1="317.2" y1="433.9" x2="336.8" y2="428.6" stroke="#4741e5" stroke-width="1.5" stroke-linecap="round"/>
<line x1="361.4" y1="215.2" x2="350" y2="208.9" stroke="#f0ba36" stroke-width="1.5" stroke-linecap="round"/>
<line x1="350" y1="208.9" x2="333.8" y2="201.2" stroke="#fec934" stroke-width="1.5" stroke-linecap="round"/>
<line x1="364.1" y1="413.9" x2="374.2" y2="404.9" stroke="#4852f4" stroke-width="1.5" stroke-linecap="round"/>
<line x1="183" y1="266.6" x2="178.3" y2="284.5" stroke="#57cc7a" stroke-width="1.5" stroke-linecap="round"/>
<line x1="253.1" y1="429.7" x2="273.2" y2="434.5" stroke="#4741e5" stroke-width="1.5" stroke-linecap="round"/>
<line x1="189.9" y1="252.5" x2="199.5" y2="239.8" stroke="#9dc943" stroke-width="1.5" stroke-linecap="round"/>
<line x1="333.8" y1="201.2" x2="324.6" y2="199.3" stroke="#fec934" stroke-width="1.5" stroke-linecap="round"/>
<line x1="250.1" y1="202.3" x2="234.8" y2="210.4" stroke="#fec934" stroke-width="1.5" stroke-linecap="round"/>
<line x1="309.1" y1="195.6" x2="292" y2="194.5" stroke="#fad62d" stroke-width="1.5" stroke-linecap="round"/>
<line x1="222.9" y1="217" x2="234.8" y2="210.4" stroke="#f0ba36" stroke-width="1.5" stroke-linecap="round"/>
<line x1="172.3" y1="317" x2="173.8" y2="300.6" stroke="#02bac3" stroke-width="1.5" stroke-linecap="round"/>
<line x1="345.6" y1="423.6" x2="364.1" y2="413.9" stroke="#4852f4" stroke-width="1.5" stroke-linecap="round"/>
<line x1="292" y1="194.5" x2="275.1" y2="196" stroke="#fad62d" stroke-width="1.5" stroke-linecap="round"/>
<line x1="374.2" y1="226.9" x2="361.4" y2="215.2" stroke="#f0ba36" stroke-width="1.5" stroke-linecap="round"/>
<line x1="336.8" y1="428.6" x2="345.6" y2="423.6" stroke="#4741e5" stroke-width="1.5" stroke-linecap="round"/>
<line x1="250.1" y1="202.3" x2="260" y2="200.1" stroke="#fec934" stroke-width="1.5" stroke-linecap="round"/>
<line x1="191.7" y1="381.1" x2="184.8" y2="367.1" stroke="#327cfc" stroke-width="1.5" stroke-linecap="round"/>
<line x1="173.8" y1="333.4" x2="180.7" y2="351.8" stroke="#1ca9df" stroke-width="1.5" stroke-linecap="round"/>
<line x1="225.5" y1="415.7" x2="215.7" y2="407" stroke="#4852f4" stroke-width="1.5" stroke-linecap="round"/>
<line x1="225.5" y1="415.7" x2="215.7" y2="407" stroke="#4852f4" stroke-width="1.5" stroke-linecap="round"/>
<line x1="253.1" y1="429.7" x2="244.9" y2="424.9" stroke="#4741e5" stroke-width="1.5" stroke-linecap="round"/>
<line x1="225.5" y1="415.7" x2="244.9" y2="424.9" stroke="#4852f4" stroke-width="1.5" stroke-linecap="round"/>
<line x1="401.4" y1="266.4" x2="395.2" y2="249.8" stroke="#9dc943" stroke-width="1.5" stroke-linecap="round"/>
<line x1="295.3" y1="435.9" x2="317.2" y2="433.9" stroke="#4741e5" stroke-width="1.5" stroke-linecap="round"/>
<line x1="222.9" y1="217" x2="211.3" y2="229.1" stroke="#f0ba36" stroke-width="1.5" stroke-linecap="round"/>
<line x1="273.2" y1="434.5" x2="295.3" y2="435.9" stroke="#4741e5" stroke-width="1.5" stroke-linecap="round"/>
<line x1="413.1" y1="297.5" x2="408.7" y2="281.5" stroke="#31c69f" stroke-width="1.5" stroke-linecap="round"/>
<line x1="324.6" y1="199.3" x2="309.1" y2="195.6" stroke="#fad62d" stroke-width="1.5" stroke-linecap="round"/>
<line x1="382.4" y1="393.6" x2="397" y2="378.4" stroke="#327cfc" stroke-width="1.5" stroke-linecap="round"/>
<line x1="275.1" y1="196" x2="260" y2="200.1" stroke="#fad62d" stroke-width="1.5" stroke-linecap="round"/>
<line x1="385.9" y1="237.4" x2="374.2" y2="226.9" stroke="#d1bf27" stroke-width="1.5" stroke-linecap="round"/>
<line x1="409.6" y1="332.6" x2="414.6" y2="313.9" stroke="#02bac3" stroke-width="1.5" stroke-linecap="round"/>
<line x1="403.9" y1="364.2" x2="408.2" y2="348.8" stroke="#2797eb" stroke-width="1.5" stroke-linecap="round"/>
<line x1="189.9" y1="252.5" x2="185.5" y2="269.2" stroke="#9dc943" stroke-width="1.5" stroke-linecap="round"/>
<line x1="292" y1="194.5" x2="292.5" y2="196.9" stroke="#fad62d" stroke-width="1.5" stroke-linecap="round"/>
<line x1="191.7" y1="381.1" x2="207.8" y2="395.9" stroke="#327cfc" stroke-width="1.5" stroke-linecap="round"/>
<line x1="199.5" y1="239.8" x2="211.3" y2="229.1" stroke="#d1bf27" stroke-width="1.5" stroke-linecap="round"/>
<line x1="173.8" y1="300.6" x2="178.3" y2="284.5" stroke="#31c69f" stroke-width="1.5" stroke-linecap="round"/>
<line x1="309.1" y1="195.6" x2="304.1" y2="197.7" stroke="#fad62d" stroke-width="1.5" stroke-linecap="round"/>
<line x1="275.1" y1="196" x2="281" y2="198" stroke="#fad62d" stroke-width="1.5" stroke-linecap="round"/>
<line x1="317.2" y1="433.9" x2="322.1" y2="430" stroke="#4741e5" stroke-width="1.5" stroke-linecap="round"/>
<line x1="350" y1="208.9" x2="337.1" y2="205.2" stroke="#fec934" stroke-width="1.5" stroke-linecap="round"/>
<line x1="172.3" y1="317" x2="179.2" y2="335.7" stroke="#02bac3" stroke-width="1.5" stroke-linecap="round"/>
<line x1="374.2" y1="404.9" x2="382.4" y2="393.6" stroke="#4563fd" stroke-width="1.5" stroke-linecap="round"/>
<line x1="273.2" y1="434.5" x2="269.1" y2="430.7" stroke="#4741e5" stroke-width="1.5" stroke-linecap="round"/>
<line x1="337.1" y1="205.2" x2="324.6" y2="199.3" stroke="#fad62d" stroke-width="1.5" stroke-linecap="round"/>
<line x1="184.8" y1="367.1" x2="180.7" y2="351.8" stroke="#2797eb" stroke-width="1.5" stroke-linecap="round"/>
<line x1="360.6" y1="218.7" x2="350" y2="208.9" stroke="#fec934" stroke-width="1.5" stroke-linecap="round"/>
<line x1="391.4" y1="252.5" x2="385.9" y2="237.4" stroke="#d1bf27" stroke-width="1.5" stroke-linecap="round"/>
<line x1="234.8" y1="210.4" x2="248.1" y2="206.4" stroke="#fec934" stroke-width="1.5" stroke-linecap="round"/>
<line x1="408.7" y1="281.5" x2="401.4" y2="266.4" stroke="#57cc7a" stroke-width="1.5" stroke-linecap="round"/>
<line x1="322.1" y1="430" x2="345.6" y2="423.6" stroke="#4852f4" stroke-width="1.5" stroke-linecap="round"/>
<line x1="260" y1="200.1" x2="248.1" y2="206.4" stroke="#fad62d" stroke-width="1.5" stroke-linecap="round"/>
<line x1="295.3" y1="435.9" x2="295.7" y2="432.5" stroke="#4741e5" stroke-width="1.5" stroke-linecap="round"/>
<line x1="353.1" y1="416" x2="374.2" y2="404.9" stroke="#4563fd" stroke-width="1.5" stroke-linecap="round"/>
<line x1="215.7" y1="407" x2="207.8" y2="395.9" stroke="#4563fd" stroke-width="1.5" stroke-linecap="round"/>
<line x1="215.7" y1="407" x2="207.8" y2="395.9" stroke="#4563fd" stroke-width="1.5" stroke-linecap="round"/>
<line x1="234.8" y1="210.4" x2="225.2" y2="220.4" stroke="#fec934" stroke-width="1.5" stroke-linecap="round"/>
<line x1="324.6" y1="199.3" x2="314.7" y2="200.2" stroke="#fad62d" stroke-width="1.5" stroke-linecap="round"/>
<line x1="408.2" y1="316" x2="413.1" y2="297.5" stroke="#31c69f" stroke-width="1.5" stroke-linecap="round"/>
<line x1="374.2" y1="226.9" x2="360.6" y2="218.7" stroke="#f0ba36" stroke-width="1.5" stroke-linecap="round"/>
<line x1="244.9" y1="424.9" x2="269.1" y2="430.7" stroke="#4852f4" stroke-width="1.5" stroke-linecap="round"/>
<line x1="388.4" y1="380.5" x2="403.9" y2="364.2" stroke="#2797eb" stroke-width="1.5" stroke-linecap="round"/>
<line x1="345.6" y1="423.6" x2="353.1" y2="416" stroke="#4852f4" stroke-width="1.5" stroke-linecap="round"/>
<line x1="260" y1="200.1" x2="270.7" y2="200.8" stroke="#fad62d" stroke-width="1.5" stroke-linecap="round"/>
<line x1="199.5" y1="239.8" x2="195.5" y2="255" stroke="#d1bf27" stroke-width="1.5" stroke-linecap="round"/>
<line x1="408.2" y1="348.8" x2="409.6" y2="332.6" stroke="#1ca9df" stroke-width="1.5" stroke-linecap="round"/>
<line x1="215.7" y1="407" x2="237.9" y2="417.5" stroke="#4563fd" stroke-width="1.5" stroke-linecap="round"/>
<line x1="178.3" y1="284.5" x2="185.5" y2="269.2" stroke="#57cc7a" stroke-width="1.5" stroke-linecap="round"/>
<line x1="304.1" y1="197.7" x2="292.5" y2="196.9" stroke="#f5e327" stroke-width="1.5" stroke-linecap="round"/>
<line x1="292.5" y1="196.9" x2="281" y2="198" stroke="#f5e327" stroke-width="1.5" stroke-linecap="round"/>
<line x1="244.9" y1="424.9" x2="237.9" y2="417.5" stroke="#4852f4" stroke-width="1.5" stroke-linecap="round"/>
<line x1="211.3" y1="229.1" x2="225.2" y2="220.4" stroke="#f0ba36" stroke-width="1.5" stroke-linecap="round"/>
<line x1="173.8" y1="300.6" x2="180.7" y2="319" stroke="#31c69f" stroke-width="1.5" stroke-linecap="round"/>
<line x1="184.8" y1="367.1" x2="202" y2="382.9" stroke="#2797eb" stroke-width="1.5" stroke-linecap="round"/>
<line x1="314.7" y1="200.2" x2="304.1" y2="197.7" stroke="#f5e327" stroke-width="1.5" stroke-linecap="round"/>
<line x1="295.7" y1="432.5" x2="322.1" y2="430" stroke="#4852f4" stroke-width="1.5" stroke-linecap="round"/>
<line x1="401.4" y1="266.4" x2="391.4" y2="252.5" stroke="#9dc943" stroke-width="1.5" stroke-linecap="round"/>
<line x1="281" y1="198" x2="270.7" y2="200.8" stroke="#f5e327" stroke-width="1.5" stroke-linecap="round"/>
<line x1="379.1" y1="240.1" x2="374.2" y2="226.9" stroke="#f0ba36" stroke-width="1.5" stroke-linecap="round"/>
<line x1="269.1" y1="430.7" x2="295.7" y2="432.5" stroke="#4852f4" stroke-width="1.5" stroke-linecap="round"/>
<line x1="180.7" y1="351.8" x2="179.2" y2="335.7" stroke="#1ca9df" stroke-width="1.5" stroke-linecap="round"/>
<line x1="337.1" y1="205.2" x2="323.2" y2="204.2" stroke="#fad62d" stroke-width="1.5" stroke-linecap="round"/>
<line x1="345.3" y1="212.8" x2="337.1" y2="205.2" stroke="#fad62d" stroke-width="1.5" stroke-linecap="round"/>
<line x1="403.9" y1="299.4" x2="408.7" y2="281.5" stroke="#57cc7a" stroke-width="1.5" stroke-linecap="round"/>
<line x1="382.4" y1="393.6" x2="388.4" y2="380.5" stroke="#327cfc" stroke-width="1.5" stroke-linecap="round"/>
<line x1="248.1" y1="206.4" x2="262.6" y2="205" stroke="#fad62d" stroke-width="1.5" stroke-linecap="round"/>
<line x1="360.6" y1="218.7" x2="345.3" y2="212.8" stroke="#fec934" stroke-width="1.5" stroke-linecap="round"/>
<line x1="211.3" y1="229.1" x2="207.8" y2="242.4" stroke="#f0ba36" stroke-width="1.5" stroke-linecap="round"/>
<line x1="248.1" y1="206.4" x2="240.7" y2="214.1" stroke="#fad62d" stroke-width="1.5" stroke-linecap="round"/>
<line x1="185.5" y1="269.2" x2="195.5" y2="255" stroke="#9dc943" stroke-width="1.5" stroke-linecap="round"/>
<line x1="292.5" y1="196.9" x2="293" y2="202.3" stroke="#f5e327" stroke-width="1.5" stroke-linecap="round"/>
<line x1="409.6" y1="332.6" x2="408.2" y2="316" stroke="#02bac3" stroke-width="1.5" stroke-linecap="round"/>
<line x1="323.2" y1="204.2" x2="314.7" y2="200.2" stroke="#f5e327" stroke-width="1.5" stroke-linecap="round"/>
<line x1="392.1" y1="365.7" x2="408.2" y2="348.8" stroke="#1ca9df" stroke-width="1.5" stroke-linecap="round"/>
<line x1="304.1" y1="197.7" x2="298.8" y2="202.7" stroke="#f5e327" stroke-width="1.5" stroke-linecap="round"/>
<line x1="270.7" y1="200.8" x2="262.6" y2="205" stroke="#f5e327" stroke-width="1.5" stroke-linecap="round"/>
<line x1="281" y1="198" x2="287.1" y2="202.9" stroke="#f5e327" stroke-width="1.5" stroke-linecap="round"/>
<line x1="207.8" y1="395.9" x2="202" y2="382.9" stroke="#327cfc" stroke-width="1.5" stroke-linecap="round"/>
<line x1="207.8" y1="395.9" x2="202" y2="382.9" stroke="#327cfc" stroke-width="1.5" stroke-linecap="round"/>
<line x1="322.1" y1="430" x2="326.2" y2="423.3" stroke="#4852f4" stroke-width="1.5" stroke-linecap="round"/>
<line x1="225.2" y1="220.4" x2="240.7" y2="214.1" stroke="#fec934" stroke-width="1.5" stroke-linecap="round"/>
<line x1="359.2" y1="405.9" x2="382.4" y2="393.6" stroke="#327cfc" stroke-width="1.5" stroke-linecap="round"/>
<line x1="178.3" y1="284.5" x2="184.8" y2="302.2" stroke="#57cc7a" stroke-width="1.5" stroke-linecap="round"/>
<line x1="269.1" y1="430.7" x2="265.6" y2="424.1" stroke="#4852f4" stroke-width="1.5" stroke-linecap="round"/>
<line x1="391.4" y1="252.5" x2="379.1" y2="240.1" stroke="#d1bf27" stroke-width="1.5" stroke-linecap="round"/>
<line x1="364.7" y1="229.6" x2="360.6" y2="218.7" stroke="#fec934" stroke-width="1.5" stroke-linecap="round"/>
<line x1="326.2" y1="423.3" x2="353.1" y2="416" stroke="#4563fd" stroke-width="1.5" stroke-linecap="round"/>
<line x1="314.7" y1="200.2" x2="304.2" y2="204" stroke="#f5e327" stroke-width="1.5" stroke-linecap="round"/>
<line x1="353.1" y1="416" x2="359.2" y2="405.9" stroke="#4563fd" stroke-width="1.5" stroke-linecap="round"/>
<line x1="270.7" y1="200.8" x2="281.9" y2="204.3" stroke="#f5e327" stroke-width="1.5" stroke-linecap="round"/>
<line x1="180.7" y1="351.8" x2="198.5" y2="368.3" stroke="#1ca9df" stroke-width="1.5" stroke-linecap="round"/>
<line x1="207.8" y1="395.9" x2="232.3" y2="407.6" stroke="#327cfc" stroke-width="1.5" stroke-linecap="round"/>
<line x1="179.2" y1="335.7" x2="180.7" y2="319" stroke="#02bac3" stroke-width="1.5" stroke-linecap="round"/>
<line x1="397" y1="283.1" x2="401.4" y2="266.4" stroke="#9dc943" stroke-width="1.5" stroke-linecap="round"/>
<line x1="237.9" y1="417.5" x2="265.6" y2="424.1" stroke="#4563fd" stroke-width="1.5" stroke-linecap="round"/>
<line x1="295.7" y1="432.5" x2="296" y2="426.1" stroke="#4852f4" stroke-width="1.5" stroke-linecap="round"/>
<line x1="225.2" y1="220.4" x2="222.3" y2="231.5" stroke="#fec934" stroke-width="1.5" stroke-linecap="round"/>
<line x1="195.5" y1="255" x2="207.8" y2="242.4" stroke="#d1bf27" stroke-width="1.5" stroke-linecap="round"/>
<line x1="237.9" y1="417.5" x2="232.3" y2="407.6" stroke="#4563fd" stroke-width="1.5" stroke-linecap="round"/>
<line x1="328.8" y1="209.4" x2="323.2" y2="204.2" stroke="#f5e327" stroke-width="1.5" stroke-linecap="round"/>
<line x1="345.3" y1="212.8" x2="328.8" y2="209.4" stroke="#fad62d" stroke-width="1.5" stroke-linecap="round"/>
<line x1="408.2" y1="316" x2="403.9" y2="299.4" stroke="#31c69f" stroke-width="1.5" stroke-linecap="round"/>
<line x1="388.4" y1="380.5" x2="392.1" y2="365.7" stroke="#2797eb" stroke-width="1.5" stroke-linecap="round"/>
<line x1="298.8" y1="202.7" x2="293" y2="202.3" stroke="#f5e924" stroke-width="1.5" stroke-linecap="round"/>
<line x1="262.6" y1="205" x2="257.6" y2="210.3" stroke="#f5e327" stroke-width="1.5" stroke-linecap="round"/>
<line x1="323.2" y1="204.2" x2="308.5" y2="206" stroke="#f5e327" stroke-width="1.5" stroke-linecap="round"/>
<line x1="293" y1="202.3" x2="287.1" y2="202.9" stroke="#f5e924" stroke-width="1.5" stroke-linecap="round"/>
<line x1="379.1" y1="240.1" x2="364.7" y2="229.6" stroke="#f0ba36" stroke-width="1.5" stroke-linecap="round"/>
<line x1="185.5" y1="269.2" x2="191.7" y2="285.8" stroke="#9dc943" stroke-width="1.5" stroke-linecap="round"/>
<line x1="240.7" y1="214.1" x2="257.6" y2="210.3" stroke="#fad62d" stroke-width="1.5" stroke-linecap="round"/>
<line x1="393.3" y1="349.8" x2="409.6" y2="332.6" stroke="#02bac3" stroke-width="1.5" stroke-linecap="round"/>
<line x1="262.6" y1="205" x2="277.8" y2="206.4" stroke="#f5e327" stroke-width="1.5" stroke-linecap="round"/>
<line x1="304.2" y1="204" x2="298.8" y2="202.7" stroke="#f5e924" stroke-width="1.5" stroke-linecap="round"/>
<line x1="348.4" y1="221.2" x2="345.3" y2="212.8" stroke="#fad62d" stroke-width="1.5" stroke-linecap="round"/>
<line x1="287.1" y1="202.9" x2="281.9" y2="204.3" stroke="#f5e924" stroke-width="1.5" stroke-linecap="round"/>
<line x1="387.4" y1="267.7" x2="391.4" y2="252.5" stroke="#d1bf27" stroke-width="1.5" stroke-linecap="round"/>
<line x1="296" y1="426.1" x2="326.2" y2="423.3" stroke="#4563fd" stroke-width="1.5" stroke-linecap="round"/>
<line x1="265.6" y1="424.1" x2="296" y2="426.1" stroke="#4563fd" stroke-width="1.5" stroke-linecap="round"/>
<line x1="207.8" y1="242.4" x2="222.3" y2="231.5" stroke="#f0ba36" stroke-width="1.5" stroke-linecap="round"/>
<line x1="202" y1="382.9" x2="198.5" y2="368.3" stroke="#2797eb" stroke-width="1.5" stroke-linecap="round"/>
<line x1="202" y1="382.9" x2="198.5" y2="368.3" stroke="#2797eb" stroke-width="1.5" stroke-linecap="round"/>
<line x1="240.7" y1="214.1" x2="238.5" y2="222.7" stroke="#fad62d" stroke-width="1.5" stroke-linecap="round"/>
<line x1="180.7" y1="319" x2="184.8" y2="302.2" stroke="#31c69f" stroke-width="1.5" stroke-linecap="round"/>
<line x1="308.5" y1="206" x2="304.2" y2="204" stroke="#f5e924" stroke-width="1.5" stroke-linecap="round"/>
<line x1="281.9" y1="204.3" x2="277.8" y2="206.4" stroke="#f5e924" stroke-width="1.5" stroke-linecap="round"/>
<line x1="363.6" y1="393.6" x2="388.4" y2="380.5" stroke="#2797eb" stroke-width="1.5" stroke-linecap="round"/>
<line x1="179.2" y1="335.7" x2="197.3" y2="352.3" stroke="#02bac3" stroke-width="1.5" stroke-linecap="round"/>
<line x1="364.7" y1="229.6" x2="348.4" y2="221.2" stroke="#fec934" stroke-width="1.5" stroke-linecap="round"/>
<line x1="403.9" y1="299.4" x2="397" y2="283.1" stroke="#57cc7a" stroke-width="1.5" stroke-linecap="round"/>
<line x1="328.8" y1="209.4" x2="311.3" y2="208.6" stroke="#f5e327" stroke-width="1.5" stroke-linecap="round"/>
<line x1="195.5" y1="255" x2="201.1" y2="270.1" stroke="#d1bf27" stroke-width="1.5" stroke-linecap="round"/>
<line x1="330.9" y1="215.2" x2="328.8" y2="209.4" stroke="#f5e327" stroke-width="1.5" stroke-linecap="round"/>
<line x1="257.6" y1="210.3" x2="275.3" y2="209.1" stroke="#f5e327" stroke-width="1.5" stroke-linecap="round"/>
<line x1="293" y1="202.3" x2="293.5" y2="210.5" stroke="#f5e924" stroke-width="1.5" stroke-linecap="round"/>
<line x1="311.3" y1="208.6" x2="308.5" y2="206" stroke="#f5e924" stroke-width="1.5" stroke-linecap="round"/>
<line x1="298.8" y1="202.7" x2="293.5" y2="210.5" stroke="#f5e924" stroke-width="1.5" stroke-linecap="round"/>
<line x1="375.6" y1="253.4" x2="379.1" y2="240.1" stroke="#f0ba36" stroke-width="1.5" stroke-linecap="round"/>
<line x1="287.1" y1="202.9" x2="293.5" y2="210.5" stroke="#f5e924" stroke-width="1.5" stroke-linecap="round"/>
<line x1="326.2" y1="423.3" x2="329.5" y2="414" stroke="#4563fd" stroke-width="1.5" stroke-linecap="round"/>
<line x1="202" y1="382.9" x2="228.2" y2="395.3" stroke="#2797eb" stroke-width="1.5" stroke-linecap="round"/>
<line x1="277.8" y1="206.4" x2="275.3" y2="209.1" stroke="#f5e924" stroke-width="1.5" stroke-linecap="round"/>
<line x1="222.3" y1="231.5" x2="238.5" y2="222.7" stroke="#fec934" stroke-width="1.5" stroke-linecap="round"/>
<line x1="257.6" y1="210.3" x2="256" y2="216.1" stroke="#f5e327" stroke-width="1.5" stroke-linecap="round"/>
<line x1="304.2" y1="204" x2="293.5" y2="210.5" stroke="#f5e924" stroke-width="1.5" stroke-linecap="round"/>
<line x1="392.1" y1="332.9" x2="408.2" y2="316" stroke="#31c69f" stroke-width="1.5" stroke-linecap="round"/>
<line x1="359.2" y1="405.9" x2="363.6" y2="393.6" stroke="#327cfc" stroke-width="1.5" stroke-linecap="round"/>
<line x1="329.5" y1="414" x2="359.2" y2="405.9" stroke="#327cfc" stroke-width="1.5" stroke-linecap="round"/>
<line x1="281.9" y1="204.3" x2="293.5" y2="210.5" stroke="#f5e924" stroke-width="1.5" stroke-linecap="round"/>
<line x1="265.6" y1="424.1" x2="262.8" y2="414.8" stroke="#4563fd" stroke-width="1.5" stroke-linecap="round"/>
<line x1="392.1" y1="365.7" x2="393.3" y2="349.8" stroke="#1ca9df" stroke-width="1.5" stroke-linecap="round"/>
<line x1="348.4" y1="221.2" x2="330.9" y2="215.2" stroke="#fad62d" stroke-width="1.5" stroke-linecap="round"/>
<line x1="308.5" y1="206" x2="293.5" y2="210.5" stroke="#f5e924" stroke-width="1.5" stroke-linecap="round"/>
<line x1="184.8" y1="302.2" x2="191.7" y2="285.8" stroke="#57cc7a" stroke-width="1.5" stroke-linecap="round"/>
<line x1="277.8" y1="206.4" x2="293.5" y2="210.5" stroke="#f5e924" stroke-width="1.5" stroke-linecap="round"/>
<line x1="232.3" y1="407.6" x2="262.8" y2="414.8" stroke="#327cfc" stroke-width="1.5" stroke-linecap="round"/>
<line x1="207.8" y1="242.4" x2="212.7" y2="255.5" stroke="#f0ba36" stroke-width="1.5" stroke-linecap="round"/>
<line x1="232.3" y1="407.6" x2="228.2" y2="395.3" stroke="#327cfc" stroke-width="1.5" stroke-linecap="round"/>
<line x1="238.5" y1="222.7" x2="256" y2="216.1" stroke="#fad62d" stroke-width="1.5" stroke-linecap="round"/>
<line x1="312.4" y1="211.6" x2="311.3" y2="208.6" stroke="#f5e924" stroke-width="1.5" stroke-linecap="round"/>
<line x1="397" y1="283.1" x2="387.4" y2="267.7" stroke="#9dc943" stroke-width="1.5" stroke-linecap="round"/>
<line x1="361.7" y1="240.7" x2="364.7" y2="229.6" stroke="#fec934" stroke-width="1.5" stroke-linecap="round"/>
<line x1="311.3" y1="208.6" x2="293.5" y2="210.5" stroke="#f5e924" stroke-width="1.5" stroke-linecap="round"/>
<line x1="296" y1="426.1" x2="296.3" y2="417" stroke="#4563fd" stroke-width="1.5" stroke-linecap="round"/>
<line x1="275.3" y1="209.1" x2="274.5" y2="212" stroke="#f5e924" stroke-width="1.5" stroke-linecap="round"/>
<line x1="275.3" y1="209.1" x2="293.5" y2="210.5" stroke="#f5e924" stroke-width="1.5" stroke-linecap="round"/>
<line x1="330.9" y1="215.2" x2="312.4" y2="211.6" stroke="#f5e327" stroke-width="1.5" stroke-linecap="round"/>
<line x1="180.7" y1="319" x2="198.5" y2="335.4" stroke="#31c69f" stroke-width="1.5" stroke-linecap="round"/>
<line x1="198.5" y1="368.3" x2="197.3" y2="352.3" stroke="#1ca9df" stroke-width="1.5" stroke-linecap="round"/>
<line x1="198.5" y1="368.3" x2="197.3" y2="352.3" stroke="#1ca9df" stroke-width="1.5" stroke-linecap="round"/>
<line x1="256" y1="216.1" x2="274.5" y2="212" stroke="#f5e327" stroke-width="1.5" stroke-linecap="round"/>
<line x1="312.4" y1="211.6" x2="293.5" y2="210.5" stroke="#f5e924" stroke-width="1.5" stroke-linecap="round"/>
<line x1="222.3" y1="231.5" x2="226.3" y2="242.4" stroke="#fec934" stroke-width="1.5" stroke-linecap="round"/>
<line x1="346.2" y1="229.8" x2="348.4" y2="221.2" stroke="#fad62d" stroke-width="1.5" stroke-linecap="round"/>
<line x1="274.5" y1="212" x2="293.5" y2="210.5" stroke="#f5e924" stroke-width="1.5" stroke-linecap="round"/>
<line x1="366.3" y1="379.3" x2="392.1" y2="365.7" stroke="#1ca9df" stroke-width="1.5" stroke-linecap="round"/>
<line x1="388.4" y1="315.6" x2="403.9" y2="299.4" stroke="#57cc7a" stroke-width="1.5" stroke-linecap="round"/>
<line x1="191.7" y1="285.8" x2="201.1" y2="270.1" stroke="#9dc943" stroke-width="1.5" stroke-linecap="round"/>
<line x1="329.4" y1="221" x2="330.9" y2="215.2" stroke="#f5e327" stroke-width="1.5" stroke-linecap="round"/>
<line x1="387.4" y1="267.7" x2="375.6" y2="253.4" stroke="#d1bf27" stroke-width="1.5" stroke-linecap="round"/>
<line x1="311.6" y1="214.5" x2="312.4" y2="211.6" stroke="#f5e924" stroke-width="1.5" stroke-linecap="round"/>
<line x1="311.6" y1="214.5" x2="293.5" y2="210.5" stroke="#f5e924" stroke-width="1.5" stroke-linecap="round"/>
<line x1="238.5" y1="222.7" x2="241.6" y2="231.1" stroke="#fad62d" stroke-width="1.5" stroke-linecap="round"/>
<line x1="274.5" y1="212" x2="275.6" y2="215" stroke="#f5e924" stroke-width="1.5" stroke-linecap="round"/>
<line x1="275.6" y1="215" x2="293.5" y2="210.5" stroke="#f5e924" stroke-width="1.5" stroke-linecap="round"/>
<line x1="296.3" y1="417" x2="329.5" y2="414" stroke="#327cfc" stroke-width="1.5" stroke-linecap="round"/>
<line x1="256" y1="216.1" x2="258.2" y2="221.9" stroke="#f5e327" stroke-width="1.5" stroke-linecap="round"/>
<line x1="393.3" y1="349.8" x2="392.1" y2="332.9" stroke="#02bac3" stroke-width="1.5" stroke-linecap="round"/>
<line x1="262.8" y1="414.8" x2="296.3" y2="417" stroke="#327cfc" stroke-width="1.5" stroke-linecap="round"/>
<line x1="198.5" y1="368.3" x2="225.7" y2="381.2" stroke="#1ca9df" stroke-width="1.5" stroke-linecap="round"/>
<line x1="309.1" y1="217.2" x2="293.5" y2="210.5" stroke="#f5e924" stroke-width="1.5" stroke-linecap="round"/>
<line x1="278.4" y1="217.6" x2="293.5" y2="210.5" stroke="#f5e924" stroke-width="1.5" stroke-linecap="round"/>
<line x1="278.4" y1="217.6" x2="293.5" y2="210.5" stroke="#f5e924" stroke-width="1.5" stroke-linecap="round"/>
<line x1="375.6" y1="253.4" x2="361.7" y2="240.7" stroke="#f0ba36" stroke-width="1.5" stroke-linecap="round"/>
<line x1="329.4" y1="221" x2="311.6" y2="214.5" stroke="#f5e327" stroke-width="1.5" stroke-linecap="round"/>
<line x1="184.8" y1="302.2" x2="202" y2="318.1" stroke="#57cc7a" stroke-width="1.5" stroke-linecap="round"/>
<line x1="201.1" y1="270.1" x2="212.7" y2="255.5" stroke="#d1bf27" stroke-width="1.5" stroke-linecap="round"/>
<line x1="363.6" y1="393.6" x2="366.3" y2="379.3" stroke="#2797eb" stroke-width="1.5" stroke-linecap="round"/>
<circle cx="239.7" cy="326.3" r="2.45" fill="#f5e626"/><circle cx="249.6" cy="342.2" r="2.45" fill="#fcd030"/><circle cx="253.3" cy="361.9" r="2.45" fill="#f5e725"/><circle cx="236" cy="355.7" r="2.45" fill="#fec13a"/><circle cx="303.6" cy="370.5" r="2.45" fill="#f6de29"/><circle cx="311" cy="369.3" r="2.45" fill="#f4ba39"/><circle cx="330.7" cy="380.3" r="2.45" fill="#fec835"/><circle cx="352.8" cy="320.1" r="2.45" fill="#f5ed21"/><circle cx="366.3" cy="310.3" r="2.45" fill="#fdcd31"/><circle cx="372.4" cy="316.4" r="2.45" fill="#fec636"/><circle cx="374.9" cy="350.8" r="2.45" fill="#f6dd29"/><circle cx="340.5" cy="326.3" r="2.45" fill="#f7ba3c"/><circle cx="349.1" cy="306.6" r="2.45" fill="#f5e128"/><circle cx="357.7" cy="336.1" r="2.45" fill="#d1bf27"/><circle cx="271.7" cy="264.8" r="2.45" fill="#efba35"/><circle cx="276.6" cy="267.3" r="2.45" fill="#e7bb2e"/><circle cx="268" cy="282" r="2.45" fill="#f1ba37"/><circle cx="255.7" cy="298" r="2.45" fill="#f5eb23"/><circle cx="275.4" cy="302.9" r="2.45" fill="#d2bf27"/><circle cx="322" cy="360.7" r="2.45" fill="#f5ba3b"/><circle cx="319.6" cy="353.3" r="2.45" fill="#fdcb32"/><circle cx="316.3" cy="324.1" r="2.45" fill="#68cd6c"/><circle cx="323.7" cy="343.6" r="2.45" fill="#4acb85"/><circle cx="290.2" cy="350.5" r="2.45" fill="#a0c841"/><circle cx="291" cy="293.2" r="2.45" fill="#58cc79"/><circle cx="295.5" cy="284.7" r="2.45" fill="#6ecd67"/><circle cx="280.7" cy="292.6" r="2.45" fill="#8fcb4e"/><circle cx="292" cy="316.5" r="2.45" fill="#84cc56"/><circle cx="320.5" cy="310.9" r="2.45" fill="#6fcd66"/><circle cx="289.3" cy="354.7" r="2.45" fill="#85cb56"/><circle cx="284" cy="318.1" r="2.45" fill="#87cb54"/><circle cx="314.1" cy="356.4" r="2.45" fill="#9fc942"/><circle cx="294.8" cy="316.1" r="2.45" fill="#44cb89"/><circle cx="309.7" cy="321.2" r="2.45" fill="#cac129"/><circle cx="306.9" cy="274" r="2.45" fill="#57cc7a"/><circle cx="307.1" cy="291.6" r="2.45" fill="#51cc7f"/><circle cx="298.1" cy="325.2" r="2.45" fill="#67cd6c"/><circle cx="288.1" cy="334.5" r="2.45" fill="#5bcc76"/><circle cx="295.5" cy="289" r="2.45" fill="#53cc7d"/><circle cx="317.4" cy="284" r="2.45" fill="#6bcd69"/><circle cx="318.6" cy="310.1" r="2.45" fill="#76cc61"/><circle cx="283.8" cy="345.5" r="2.45" fill="#95ca49"/><circle cx="309.5" cy="281.1" r="2.45" fill="#4bcb84"/><circle cx="323.6" cy="354" r="2.45" fill="#78cc5f"/><circle cx="328.7" cy="305.2" r="2.45" fill="#66cd6d"/><circle cx="305" cy="326.9" r="2.45" fill="#3eca8f"/><circle cx="322.9" cy="345.8" r="2.45" fill="#48cb86"/><circle cx="279.2" cy="325.4" r="2.45" fill="#57cc7a"/><circle cx="263.2" cy="335" r="2.45" fill="#73cd63"/><circle cx="295.9" cy="362.4" r="2.45" fill="#72cd63"/><circle cx="290.7" cy="320.1" r="2.45" fill="#4bcb83"/><circle cx="290.5" cy="326.1" r="2.45" fill="#5bcc77"/><circle cx="296.4" cy="353" r="2.45" fill="#8ccb50"/><circle cx="320.3" cy="329.1" r="2.45" fill="#7fcc5a"/><circle cx="332.7" cy="317.6" r="2.45" fill="#afc636"/><circle cx="286.9" cy="312.6" r="2.45" fill="#42ca8c"/><circle cx="298.5" cy="328.9" r="2.45" fill="#a1c840"/><circle cx="292.4" cy="318.1" r="2.45" fill="#61cd71"/><circle cx="291" cy="293" r="2.45" fill="#6fcd66"/><circle cx="272.1" cy="320.3" r="2.45" fill="#6ecd67"/><circle cx="292.5" cy="296.8" r="2.45" fill="#41ca8c"/><circle cx="340.6" cy="289.8" r="2.45" fill="#a5c83d"/><circle cx="316.4" cy="310.4" r="2.45" fill="#48cb86"/><circle cx="324.8" cy="354.3" r="2.45" fill="#4fcc81"/><circle cx="299.3" cy="340.1" r="2.45" fill="#79cc5e"/><circle cx="343" cy="306" r="2.45" fill="#81cc58"/><circle cx="281.2" cy="362" r="2.45" fill="#55cc7c"/><circle cx="263.2" cy="315.4" r="2.45" fill="#68cd6b"/><circle cx="341.4" cy="310.9" r="2.45" fill="#6dcd68"/><circle cx="316.3" cy="351.3" r="2.45" fill="#6bcd69"/><circle cx="324.8" cy="328.9" r="2.45" fill="#63cd70"/><circle cx="306.5" cy="318.6" r="2.45" fill="#4fcc80"/><circle cx="328.1" cy="288.9" r="2.45" fill="#98ca47"/><circle cx="323.1" cy="316" r="2.45" fill="#54cc7d"/><circle cx="300.7" cy="327.9" r="2.45" fill="#88cb53"/><circle cx="310.5" cy="338.8" r="2.45" fill="#5acc77"/><circle cx="309.5" cy="285.1" r="2.45" fill="#89cb52"/><circle cx="307.9" cy="309.3" r="2.45" fill="#97ca47"/><circle cx="318.1" cy="271.8" r="2.45" fill="#6ecd66"/><circle cx="277.4" cy="340.4" r="2.45" fill="#c4c22b"/><circle cx="295.1" cy="319.6" r="2.45" fill="#64cd6e"/><circle cx="311.7" cy="331.5" r="2.45" fill="#9cc944"/><circle cx="286.2" cy="351" r="2.45" fill="#4fcc81"/><circle cx="310.3" cy="342.3" r="2.45" fill="#87cb54"/><circle cx="287.2" cy="303.3" r="2.45" fill="#5ecc74"/><circle cx="304" cy="342.1" r="2.45" fill="#44cb8a"/><circle cx="313.9" cy="330.8" r="2.45" fill="#82cc58"/><circle cx="313.9" cy="349.9" r="2.45" fill="#7fcc5a"/><circle cx="321.3" cy="329.8" r="2.45" fill="#adc638"/><circle cx="268.9" cy="344.9" r="2.45" fill="#64cd6f"/><circle cx="299.7" cy="297.6" r="2.45" fill="#37c897"/><circle cx="297.7" cy="303.6" r="2.45" fill="#7fcc5a"/><circle cx="277" cy="348.1" r="2.45" fill="#77cc60"/><circle cx="300.3" cy="303.1" r="2.45" fill="#53cc7d"/><circle cx="283.5" cy="306.6" r="2.45" fill="#6dcd67"/><circle cx="301.6" cy="288.3" r="2.45" fill="#64cd6f"/><circle cx="288" cy="321.4" r="2.45" fill="#b0c636"/><circle cx="316.9" cy="311.4" r="2.45" fill="#3cc991"/><circle cx="278.1" cy="282.6" r="2.45" fill="#88cb53"/><circle cx="290.5" cy="319.3" r="2.45" fill="#58cc79"/><circle cx="306.7" cy="347.4" r="2.45" fill="#56cc7a"/><circle cx="298.5" cy="301.1" r="2.45" fill="#8dcb4f"/><circle cx="285.5" cy="294.2" r="2.45" fill="#41ca8c"/><circle cx="278.2" cy="327.9" r="2.45" fill="#c6c22a"/><circle cx="286.1" cy="338" r="2.45" fill="#76cc60"/><circle cx="284.1" cy="312.2" r="2.45" fill="#65cd6e"/><circle cx="291.9" cy="358.5" r="2.45" fill="#37c898"/><circle cx="312.2" cy="325" r="2.45" fill="#5acc78"/><circle cx="307.8" cy="336.4" r="2.45" fill="#72cd63"/><circle cx="312.9" cy="332.6" r="2.45" fill="#35c79a"/><circle cx="333.1" cy="364.2" r="2.45" fill="#91ca4c"/><circle cx="324.3" cy="288.4" r="2.45" fill="#69cd6b"/><circle cx="289.6" cy="305.7" r="2.45" fill="#90ca4d"/><circle cx="289.7" cy="315.3" r="2.45" fill="#37c898"/><circle cx="302" cy="319.9" r="2.45" fill="#56cc7b"/><circle cx="291.3" cy="357.6" r="2.45" fill="#46cb88"/><circle cx="285" cy="301" r="2.45" fill="#99c946"/><circle cx="344.9" cy="325" r="2.45" fill="#55cc7b"/><circle cx="296.9" cy="340.4" r="2.45" fill="#4fcc80"/><circle cx="332.6" cy="347.7" r="2.45" fill="#6fcd65"/><circle cx="317.3" cy="333.7" r="2.45" fill="#a5c83d"/><circle cx="285" cy="342.8" r="2.45" fill="#60cd72"/><circle cx="290.4" cy="320.2" r="2.45" fill="#66cd6d"/><circle cx="286.2" cy="284.5" r="2.45" fill="#4ecc81"/><circle cx="332.6" cy="359.2" r="2.45" fill="#85cb56"/><circle cx="327.5" cy="307.1" r="2.45" fill="#6acd6a"/><circle cx="310.4" cy="295.3" r="2.45" fill="#4dcb82"/><circle cx="306.8" cy="311.3" r="2.45" fill="#4acb84"/><circle cx="312.3" cy="312.5" r="2.45" fill="#92ca4b"/><circle cx="304.9" cy="311.7" r="2.45" fill="#71cd64"/><circle cx="301.7" cy="304" r="2.45" fill="#5fcd73"/><circle cx="319.2" cy="331.6" r="2.45" fill="#9cc944"/><circle cx="272.8" cy="309.7" r="2.45" fill="#5fcd73"/><circle cx="308.3" cy="308.5" r="2.45" fill="#5ccc76"/><circle cx="319.9" cy="321.7" r="2.45" fill="#48cb87"/><circle cx="330.4" cy="338.9" r="2.45" fill="#5acc77"/><circle cx="320.8" cy="302.6" r="2.45" fill="#96ca48"/><circle cx="300.9" cy="301.1" r="2.45" fill="#60cd72"/><circle cx="290.4" cy="322" r="2.45" fill="#73cd62"/><circle cx="305.7" cy="306.3" r="2.45" fill="#2ec5a4"/><circle cx="306.8" cy="278.2" r="2.45" fill="#76cc61"/><circle cx="326.5" cy="323.8" r="2.45" fill="#60cd72"/><circle cx="301.6" cy="315.2" r="2.45" fill="#5bcc77"/><circle cx="293.9" cy="298.6" r="2.45" fill="#98c947"/><circle cx="304.7" cy="338.1" r="2.45" fill="#64cd6e"/><circle cx="306.4" cy="314.4" r="2.45" fill="#7ecc5b"/><circle cx="320.7" cy="323" r="2.45" fill="#57cc7a"/><circle cx="290.2" cy="352.8" r="2.45" fill="#63cd6f"/><circle cx="299.5" cy="348.8" r="2.45" fill="#95ca49"/><circle cx="315.1" cy="309.6" r="2.45" fill="#bfc32d"/><circle cx="312.5" cy="329.5" r="2.45" fill="#67cd6c"/><circle cx="278.1" cy="290" r="2.45" fill="#7ccc5c"/><circle cx="312.4" cy="313" r="2.45" fill="#47cb87"/><circle cx="277.6" cy="311.1" r="2.45" fill="#3fca8e"/><circle cx="322.1" cy="342.2" r="2.45" fill="#cec028"/><circle cx="321.7" cy="305.6" r="2.45" fill="#50cc7f"/><circle cx="263.2" cy="305.5" r="2.45" fill="#67cd6c"/><circle cx="323.4" cy="330.8" r="2.45" fill="#83cc57"/><circle cx="309.1" cy="331.9" r="2.45" fill="#a1c840"/><circle cx="284.8" cy="308.4" r="2.45" fill="#41ca8c"/><circle cx="335.8" cy="345.2" r="2.45" fill="#89cb53"/><circle cx="257.1" cy="330.2" r="2.45" fill="#eabb30"/><circle cx="308.2" cy="319.4" r="2.45" fill="#d9bd28"/><circle cx="289.2" cy="350.6" r="2.45" fill="#f9bb3d"/><circle cx="293.3" cy="321.6" r="2.45" fill="#f6ba3c"/><circle cx="337.6" cy="316.9" r="2.45" fill="#fbd32e"/><circle cx="289.3" cy="280.4" r="2.45" fill="#fcd030"/><circle cx="262.7" cy="345.4" r="2.45" fill="#dfbc2a"/><circle cx="238.8" cy="296.7" r="2.45" fill="#fdcd31"/><circle cx="272.2" cy="289.5" r="2.45" fill="#fcd030"/><circle cx="295.4" cy="336.6" r="2.45" fill="#fcd12f"/><circle cx="317.2" cy="302.5" r="2.45" fill="#fbd32f"/><circle cx="328.3" cy="326.4" r="2.45" fill="#febe3c"/><circle cx="261.5" cy="330" r="2.45" fill="#fbd32e"/><circle cx="294.7" cy="301.9" r="2.45" fill="#fad52d"/><circle cx="393" cy="315.9" r="2.45" fill="#d1bf27"/><circle cx="320.1" cy="259" r="2.45" fill="#fdbd3d"/><circle cx="276.7" cy="366.5" r="2.45" fill="#f5ba3b"/><circle cx="273.9" cy="318.4" r="2.45" fill="#fec934"/><circle cx="305.5" cy="308.2" r="2.45" fill="#fbd32f"/><circle cx="250.8" cy="318.2" r="2.45" fill="#fad52d"/><circle cx="383.8" cy="346.2" r="2.45" fill="#f7ba3c"/><circle cx="352.4" cy="355.6" r="2.45" fill="#e6bb2d"/><circle cx="348.3" cy="321.5" r="2.45" fill="#d2bf27"/><circle cx="312.2" cy="334.1" r="2.45" fill="#fec438"/><circle cx="273.7" cy="261.9" r="2.45" fill="#fec537"/><circle cx="224" cy="327" r="2.45" fill="#f4ba39"/><circle cx="238" cy="345.6" r="2.45" fill="#e2bc2b"/><circle cx="308.8" cy="375" r="2.45" fill="#fbd12f"/><circle cx="256.8" cy="356.1" r="2.45" fill="#fec13a"/><circle cx="321.7" cy="353" r="2.45" fill="#f9bb3d"/>
<line x1="305" y1="219.3" x2="293.5" y2="210.5" stroke="#f5e924" stroke-width="1.5" stroke-linecap="round"/>
<line x1="309.1" y1="217.2" x2="311.6" y2="214.5" stroke="#f5e924" stroke-width="1.5" stroke-linecap="round"/>
<line x1="258.2" y1="221.9" x2="275.6" y2="215" stroke="#f5e327" stroke-width="1.5" stroke-linecap="round"/>
<line x1="282.7" y1="219.6" x2="293.5" y2="210.5" stroke="#f5e924" stroke-width="1.5" stroke-linecap="round"/>
<line x1="361.7" y1="240.7" x2="346.2" y2="229.8" stroke="#fec934" stroke-width="1.5" stroke-linecap="round"/>
<line x1="346.2" y1="229.8" x2="329.4" y2="221" stroke="#fad62d" stroke-width="1.5" stroke-linecap="round"/>
<line x1="382.4" y1="298.4" x2="397" y2="283.1" stroke="#9dc943" stroke-width="1.5" stroke-linecap="round"/>
<line x1="275.6" y1="215" x2="278.4" y2="217.6" stroke="#f5e924" stroke-width="1.5" stroke-linecap="round"/>
<line x1="331.9" y1="402.2" x2="363.6" y2="393.6" stroke="#2797eb" stroke-width="1.5" stroke-linecap="round"/>
<line x1="299.8" y1="220.7" x2="293.5" y2="210.5" stroke="#f5e924" stroke-width="1.5" stroke-linecap="round"/>
<line x1="329.5" y1="414" x2="331.9" y2="402.2" stroke="#327cfc" stroke-width="1.5" stroke-linecap="round"/>
<line x1="288.1" y1="220.9" x2="293.5" y2="210.5" stroke="#f5e924" stroke-width="1.5" stroke-linecap="round"/>
<line x1="197.3" y1="352.3" x2="198.5" y2="335.4" stroke="#02bac3" stroke-width="1.5" stroke-linecap="round"/>
<line x1="197.3" y1="352.3" x2="198.5" y2="335.4" stroke="#02bac3" stroke-width="1.5" stroke-linecap="round"/>
<line x1="294" y1="221.3" x2="293.5" y2="210.5" stroke="#f5e924" stroke-width="1.5" stroke-linecap="round"/>
<line x1="212.7" y1="255.5" x2="226.3" y2="242.4" stroke="#f0ba36" stroke-width="1.5" stroke-linecap="round"/>
<line x1="241.6" y1="231.1" x2="258.2" y2="221.9" stroke="#fad62d" stroke-width="1.5" stroke-linecap="round"/>
<line x1="262.8" y1="414.8" x2="260.7" y2="403.1" stroke="#327cfc" stroke-width="1.5" stroke-linecap="round"/>
<line x1="228.2" y1="395.3" x2="225.7" y2="381.2" stroke="#2797eb" stroke-width="1.5" stroke-linecap="round"/>
<line x1="226.3" y1="242.4" x2="241.6" y2="231.1" stroke="#fec934" stroke-width="1.5" stroke-linecap="round"/>
<line x1="228.2" y1="395.3" x2="260.7" y2="403.1" stroke="#2797eb" stroke-width="1.5" stroke-linecap="round"/>
<line x1="305" y1="219.3" x2="309.1" y2="217.2" stroke="#f5e924" stroke-width="1.5" stroke-linecap="round"/>
<line x1="367.2" y1="363.5" x2="393.3" y2="349.8" stroke="#02bac3" stroke-width="1.5" stroke-linecap="round"/>
<line x1="324.3" y1="226.2" x2="329.4" y2="221" stroke="#f5e327" stroke-width="1.5" stroke-linecap="round"/>
<line x1="191.7" y1="285.8" x2="207.8" y2="300.7" stroke="#9dc943" stroke-width="1.5" stroke-linecap="round"/>
<line x1="278.4" y1="217.6" x2="282.7" y2="219.6" stroke="#f5e924" stroke-width="1.5" stroke-linecap="round"/>
<line x1="374.2" y1="281.5" x2="387.4" y2="267.7" stroke="#d1bf27" stroke-width="1.5" stroke-linecap="round"/>
<line x1="392.1" y1="332.9" x2="388.4" y2="315.6" stroke="#31c69f" stroke-width="1.5" stroke-linecap="round"/>
<line x1="324.3" y1="226.2" x2="309.1" y2="217.2" stroke="#f5e327" stroke-width="1.5" stroke-linecap="round"/>
<line x1="258.2" y1="221.9" x2="263.8" y2="227" stroke="#f5e327" stroke-width="1.5" stroke-linecap="round"/>
<line x1="296.3" y1="417" x2="296.5" y2="405.5" stroke="#327cfc" stroke-width="1.5" stroke-linecap="round"/>
<line x1="263.8" y1="227" x2="278.4" y2="217.6" stroke="#f5e327" stroke-width="1.5" stroke-linecap="round"/>
<line x1="263.8" y1="227" x2="278.4" y2="217.6" stroke="#f5e327" stroke-width="1.5" stroke-linecap="round"/>
<line x1="299.8" y1="220.7" x2="305" y2="219.3" stroke="#f5e924" stroke-width="1.5" stroke-linecap="round"/>
<line x1="338.8" y1="237.5" x2="346.2" y2="229.8" stroke="#fad62d" stroke-width="1.5" stroke-linecap="round"/>
<line x1="364.1" y1="265.5" x2="375.6" y2="253.4" stroke="#f0ba36" stroke-width="1.5" stroke-linecap="round"/>
<line x1="282.7" y1="219.6" x2="288.1" y2="220.9" stroke="#f5e924" stroke-width="1.5" stroke-linecap="round"/>
<line x1="197.3" y1="352.3" x2="224.8" y2="365.4" stroke="#02bac3" stroke-width="1.5" stroke-linecap="round"/>
<line x1="352.2" y1="250.7" x2="361.7" y2="240.7" stroke="#fec934" stroke-width="1.5" stroke-linecap="round"/>
<line x1="201.1" y1="270.1" x2="215.7" y2="283.6" stroke="#d1bf27" stroke-width="1.5" stroke-linecap="round"/>
<line x1="294" y1="221.3" x2="299.8" y2="220.7" stroke="#f5e924" stroke-width="1.5" stroke-linecap="round"/>
<line x1="288.1" y1="220.9" x2="294" y2="221.3" stroke="#f5e924" stroke-width="1.5" stroke-linecap="round"/>
<line x1="198.5" y1="335.4" x2="202" y2="318.1" stroke="#31c69f" stroke-width="1.5" stroke-linecap="round"/>
<line x1="198.5" y1="335.4" x2="202" y2="318.1" stroke="#31c69f" stroke-width="1.5" stroke-linecap="round"/>
<line x1="241.6" y1="231.1" x2="249.8" y2="238.7" stroke="#fad62d" stroke-width="1.5" stroke-linecap="round"/>
<line x1="212.7" y1="255.5" x2="225.5" y2="267.3" stroke="#f0ba36" stroke-width="1.5" stroke-linecap="round"/>
<line x1="388.4" y1="315.6" x2="382.4" y2="298.4" stroke="#57cc7a" stroke-width="1.5" stroke-linecap="round"/>
<line x1="366.3" y1="379.3" x2="367.2" y2="363.5" stroke="#1ca9df" stroke-width="1.5" stroke-linecap="round"/>
<line x1="226.3" y1="242.4" x2="237" y2="252.2" stroke="#fec934" stroke-width="1.5" stroke-linecap="round"/>
<line x1="316.3" y1="230.5" x2="305" y2="219.3" stroke="#f5e327" stroke-width="1.5" stroke-linecap="round"/>
<line x1="296.5" y1="405.5" x2="331.9" y2="402.2" stroke="#2797eb" stroke-width="1.5" stroke-linecap="round"/>
<line x1="338.8" y1="237.5" x2="324.3" y2="226.2" stroke="#fad62d" stroke-width="1.5" stroke-linecap="round"/>
<line x1="272.3" y1="231.1" x2="282.7" y2="219.6" stroke="#f5e327" stroke-width="1.5" stroke-linecap="round"/>
<line x1="260.7" y1="403.1" x2="296.5" y2="405.5" stroke="#2797eb" stroke-width="1.5" stroke-linecap="round"/>
<line x1="316.3" y1="230.5" x2="324.3" y2="226.2" stroke="#f5e327" stroke-width="1.5" stroke-linecap="round"/>
<line x1="366.3" y1="346.5" x2="392.1" y2="332.9" stroke="#31c69f" stroke-width="1.5" stroke-linecap="round"/>
<line x1="249.8" y1="238.7" x2="263.8" y2="227" stroke="#fad62d" stroke-width="1.5" stroke-linecap="round"/>
<line x1="249.8" y1="238.7" x2="263.8" y2="227" stroke="#fad62d" stroke-width="1.5" stroke-linecap="round"/>
<line x1="333.4" y1="388.3" x2="366.3" y2="379.3" stroke="#1ca9df" stroke-width="1.5" stroke-linecap="round"/>
<line x1="263.8" y1="227" x2="272.3" y2="231.1" stroke="#f5e327" stroke-width="1.5" stroke-linecap="round"/>
<line x1="225.7" y1="381.2" x2="224.8" y2="365.4" stroke="#1ca9df" stroke-width="1.5" stroke-linecap="round"/>
<line x1="306" y1="233.3" x2="299.8" y2="220.7" stroke="#f5e327" stroke-width="1.5" stroke-linecap="round"/>
<line x1="331.9" y1="402.2" x2="333.4" y2="388.3" stroke="#2797eb" stroke-width="1.5" stroke-linecap="round"/>
<line x1="202" y1="318.1" x2="207.8" y2="300.7" stroke="#57cc7a" stroke-width="1.5" stroke-linecap="round"/>
<line x1="202" y1="318.1" x2="207.8" y2="300.7" stroke="#57cc7a" stroke-width="1.5" stroke-linecap="round"/>
<line x1="382.4" y1="298.4" x2="374.2" y2="281.5" stroke="#9dc943" stroke-width="1.5" stroke-linecap="round"/>
<line x1="282.8" y1="233.6" x2="288.1" y2="220.9" stroke="#f5e327" stroke-width="1.5" stroke-linecap="round"/>
<line x1="352.2" y1="250.7" x2="338.8" y2="237.5" stroke="#fec934" stroke-width="1.5" stroke-linecap="round"/>
<line x1="225.7" y1="381.2" x2="259.5" y2="389.2" stroke="#1ca9df" stroke-width="1.5" stroke-linecap="round"/>
<line x1="294.4" y1="234.4" x2="294" y2="221.3" stroke="#f5e327" stroke-width="1.5" stroke-linecap="round"/>
<line x1="260.7" y1="403.1" x2="259.5" y2="389.2" stroke="#2797eb" stroke-width="1.5" stroke-linecap="round"/>
<line x1="198.5" y1="335.4" x2="225.7" y2="348.3" stroke="#31c69f" stroke-width="1.5" stroke-linecap="round"/>
<line x1="374.2" y1="281.5" x2="364.1" y2="265.5" stroke="#d1bf27" stroke-width="1.5" stroke-linecap="round"/>
<line x1="364.1" y1="265.5" x2="352.2" y2="250.7" stroke="#f0ba36" stroke-width="1.5" stroke-linecap="round"/>
<line x1="237" y1="252.2" x2="249.8" y2="238.7" stroke="#fec934" stroke-width="1.5" stroke-linecap="round"/>
<line x1="237" y1="252.2" x2="249.8" y2="238.7" stroke="#fec934" stroke-width="1.5" stroke-linecap="round"/>
<line x1="306" y1="233.3" x2="316.3" y2="230.5" stroke="#f5e327" stroke-width="1.5" stroke-linecap="round"/>
<line x1="207.8" y1="300.7" x2="215.7" y2="283.6" stroke="#9dc943" stroke-width="1.5" stroke-linecap="round"/>
<line x1="207.8" y1="300.7" x2="215.7" y2="283.6" stroke="#9dc943" stroke-width="1.5" stroke-linecap="round"/>
<line x1="326.9" y1="243.8" x2="338.8" y2="237.5" stroke="#fad62d" stroke-width="1.5" stroke-linecap="round"/>
<line x1="272.3" y1="231.1" x2="282.8" y2="233.6" stroke="#f5e327" stroke-width="1.5" stroke-linecap="round"/>
<line x1="363.6" y1="328.7" x2="388.4" y2="315.6" stroke="#57cc7a" stroke-width="1.5" stroke-linecap="round"/>
<line x1="225.5" y1="267.3" x2="237" y2="252.2" stroke="#f0ba36" stroke-width="1.5" stroke-linecap="round"/>
<line x1="225.5" y1="267.3" x2="237" y2="252.2" stroke="#f0ba36" stroke-width="1.5" stroke-linecap="round"/>
<line x1="367.2" y1="363.5" x2="366.3" y2="346.5" stroke="#02bac3" stroke-width="1.5" stroke-linecap="round"/>
<line x1="326.9" y1="243.8" x2="316.3" y2="230.5" stroke="#fad62d" stroke-width="1.5" stroke-linecap="round"/>
<line x1="296.5" y1="405.5" x2="296.6" y2="391.7" stroke="#2797eb" stroke-width="1.5" stroke-linecap="round"/>
<line x1="215.7" y1="283.6" x2="225.5" y2="267.3" stroke="#d1bf27" stroke-width="1.5" stroke-linecap="round"/>
<line x1="215.7" y1="283.6" x2="225.5" y2="267.3" stroke="#d1bf27" stroke-width="1.5" stroke-linecap="round"/>
<line x1="249.8" y1="238.7" x2="262.3" y2="244.6" stroke="#fad62d" stroke-width="1.5" stroke-linecap="round"/>
<line x1="262.3" y1="244.6" x2="272.3" y2="231.1" stroke="#fad62d" stroke-width="1.5" stroke-linecap="round"/>
<line x1="294.4" y1="234.4" x2="306" y2="233.3" stroke="#f5e327" stroke-width="1.5" stroke-linecap="round"/>
<line x1="282.8" y1="233.6" x2="294.4" y2="234.4" stroke="#f5e327" stroke-width="1.5" stroke-linecap="round"/>
<line x1="202" y1="318.1" x2="228.2" y2="330.5" stroke="#57cc7a" stroke-width="1.5" stroke-linecap="round"/>
<line x1="224.8" y1="365.4" x2="225.7" y2="348.3" stroke="#02bac3" stroke-width="1.5" stroke-linecap="round"/>
<line x1="336.8" y1="258.8" x2="352.2" y2="250.7" stroke="#fec934" stroke-width="1.5" stroke-linecap="round"/>
<line x1="359.2" y1="310.6" x2="382.4" y2="298.4" stroke="#9dc943" stroke-width="1.5" stroke-linecap="round"/>
<line x1="333.9" y1="372.5" x2="367.2" y2="363.5" stroke="#02bac3" stroke-width="1.5" stroke-linecap="round"/>
<line x1="296.6" y1="391.7" x2="333.4" y2="388.3" stroke="#1ca9df" stroke-width="1.5" stroke-linecap="round"/>
<line x1="259.5" y1="389.2" x2="296.6" y2="391.7" stroke="#1ca9df" stroke-width="1.5" stroke-linecap="round"/>
<line x1="237" y1="252.2" x2="253.1" y2="259.9" stroke="#fec934" stroke-width="1.5" stroke-linecap="round"/>
<line x1="345.6" y1="275.2" x2="364.1" y2="265.5" stroke="#f0ba36" stroke-width="1.5" stroke-linecap="round"/>
<line x1="353.1" y1="292.6" x2="374.2" y2="281.5" stroke="#d1bf27" stroke-width="1.5" stroke-linecap="round"/>
<line x1="311.8" y1="247.9" x2="306" y2="233.3" stroke="#fad62d" stroke-width="1.5" stroke-linecap="round"/>
<line x1="224.8" y1="365.4" x2="259" y2="373.5" stroke="#02bac3" stroke-width="1.5" stroke-linecap="round"/>
<line x1="333.4" y1="388.3" x2="333.9" y2="372.5" stroke="#1ca9df" stroke-width="1.5" stroke-linecap="round"/>
<line x1="277.8" y1="248.3" x2="282.8" y2="233.6" stroke="#fad62d" stroke-width="1.5" stroke-linecap="round"/>
<line x1="207.8" y1="300.7" x2="232.3" y2="312.3" stroke="#9dc943" stroke-width="1.5" stroke-linecap="round"/>
<line x1="366.3" y1="346.5" x2="363.6" y2="328.7" stroke="#31c69f" stroke-width="1.5" stroke-linecap="round"/>
<line x1="336.8" y1="258.8" x2="326.9" y2="243.8" stroke="#fec934" stroke-width="1.5" stroke-linecap="round"/>
<line x1="259.5" y1="389.2" x2="259" y2="373.5" stroke="#1ca9df" stroke-width="1.5" stroke-linecap="round"/>
<line x1="311.8" y1="247.9" x2="326.9" y2="243.8" stroke="#fad62d" stroke-width="1.5" stroke-linecap="round"/>
<line x1="294.9" y1="249.4" x2="294.4" y2="234.4" stroke="#fad62d" stroke-width="1.5" stroke-linecap="round"/>
<line x1="225.5" y1="267.3" x2="244.9" y2="276.5" stroke="#f0ba36" stroke-width="1.5" stroke-linecap="round"/>
<line x1="215.7" y1="283.6" x2="237.9" y2="294.2" stroke="#d1bf27" stroke-width="1.5" stroke-linecap="round"/>
<line x1="262.3" y1="244.6" x2="277.8" y2="248.3" stroke="#fad62d" stroke-width="1.5" stroke-linecap="round"/>
<line x1="253.1" y1="259.9" x2="262.3" y2="244.6" stroke="#fec934" stroke-width="1.5" stroke-linecap="round"/>
<line x1="225.7" y1="348.3" x2="228.2" y2="330.5" stroke="#31c69f" stroke-width="1.5" stroke-linecap="round"/>
<line x1="333.4" y1="355.4" x2="366.3" y2="346.5" stroke="#31c69f" stroke-width="1.5" stroke-linecap="round"/>
<line x1="296.6" y1="391.7" x2="296.6" y2="376" stroke="#1ca9df" stroke-width="1.5" stroke-linecap="round"/>
<line x1="363.6" y1="328.7" x2="359.2" y2="310.6" stroke="#57cc7a" stroke-width="1.5" stroke-linecap="round"/>
<line x1="345.6" y1="275.2" x2="336.8" y2="258.8" stroke="#f0ba36" stroke-width="1.5" stroke-linecap="round"/>
<line x1="294.9" y1="249.4" x2="311.8" y2="247.9" stroke="#fad62d" stroke-width="1.5" stroke-linecap="round"/>
<line x1="277.8" y1="248.3" x2="294.9" y2="249.4" stroke="#fad62d" stroke-width="1.5" stroke-linecap="round"/>
<line x1="225.7" y1="348.3" x2="259.5" y2="356.4" stroke="#31c69f" stroke-width="1.5" stroke-linecap="round"/>
<line x1="296.6" y1="376" x2="333.9" y2="372.5" stroke="#02bac3" stroke-width="1.5" stroke-linecap="round"/>
<line x1="244.9" y1="276.5" x2="253.1" y2="259.9" stroke="#f0ba36" stroke-width="1.5" stroke-linecap="round"/>
<line x1="359.2" y1="310.6" x2="353.1" y2="292.6" stroke="#9dc943" stroke-width="1.5" stroke-linecap="round"/>
<line x1="353.1" y1="292.6" x2="345.6" y2="275.2" stroke="#d1bf27" stroke-width="1.5" stroke-linecap="round"/>
<line x1="317.2" y1="264.1" x2="336.8" y2="258.8" stroke="#fec934" stroke-width="1.5" stroke-linecap="round"/>
<line x1="259" y1="373.5" x2="296.6" y2="376" stroke="#02bac3" stroke-width="1.5" stroke-linecap="round"/>
<line x1="228.2" y1="330.5" x2="232.3" y2="312.3" stroke="#57cc7a" stroke-width="1.5" stroke-linecap="round"/>
<line x1="317.2" y1="264.1" x2="311.8" y2="247.9" stroke="#fec934" stroke-width="1.5" stroke-linecap="round"/>
<line x1="333.9" y1="372.5" x2="333.4" y2="355.4" stroke="#02bac3" stroke-width="1.5" stroke-linecap="round"/>
<line x1="273.2" y1="264.7" x2="277.8" y2="248.3" stroke="#fec934" stroke-width="1.5" stroke-linecap="round"/>
<line x1="253.1" y1="259.9" x2="273.2" y2="264.7" stroke="#fec934" stroke-width="1.5" stroke-linecap="round"/>
<line x1="259" y1="373.5" x2="259.5" y2="356.4" stroke="#02bac3" stroke-width="1.5" stroke-linecap="round"/>
<line x1="237.9" y1="294.2" x2="244.9" y2="276.5" stroke="#d1bf27" stroke-width="1.5" stroke-linecap="round"/>
<line x1="232.3" y1="312.3" x2="237.9" y2="294.2" stroke="#9dc943" stroke-width="1.5" stroke-linecap="round"/>
<line x1="331.9" y1="337.3" x2="363.6" y2="328.7" stroke="#57cc7a" stroke-width="1.5" stroke-linecap="round"/>
<line x1="295.3" y1="266.1" x2="294.9" y2="249.4" stroke="#fec934" stroke-width="1.5" stroke-linecap="round"/>
<line x1="322.1" y1="281.6" x2="345.6" y2="275.2" stroke="#f0ba36" stroke-width="1.5" stroke-linecap="round"/>
<line x1="228.2" y1="330.5" x2="260.7" y2="338.3" stroke="#57cc7a" stroke-width="1.5" stroke-linecap="round"/>
<line x1="329.5" y1="318.7" x2="359.2" y2="310.6" stroke="#9dc943" stroke-width="1.5" stroke-linecap="round"/>
<line x1="295.3" y1="266.1" x2="317.2" y2="264.1" stroke="#fec934" stroke-width="1.5" stroke-linecap="round"/>
<line x1="244.9" y1="276.5" x2="269.1" y2="282.3" stroke="#f0ba36" stroke-width="1.5" stroke-linecap="round"/>
<line x1="296.6" y1="376" x2="296.6" y2="358.8" stroke="#02bac3" stroke-width="1.5" stroke-linecap="round"/>
<line x1="326.2" y1="300" x2="353.1" y2="292.6" stroke="#d1bf27" stroke-width="1.5" stroke-linecap="round"/>
<line x1="273.2" y1="264.7" x2="295.3" y2="266.1" stroke="#fec934" stroke-width="1.5" stroke-linecap="round"/>
<line x1="322.1" y1="281.6" x2="317.2" y2="264.1" stroke="#f0ba36" stroke-width="1.5" stroke-linecap="round"/>
<line x1="333.4" y1="355.4" x2="331.9" y2="337.3" stroke="#31c69f" stroke-width="1.5" stroke-linecap="round"/>
<line x1="296.6" y1="358.8" x2="333.4" y2="355.4" stroke="#31c69f" stroke-width="1.5" stroke-linecap="round"/>
<line x1="232.3" y1="312.3" x2="262.8" y2="319.6" stroke="#9dc943" stroke-width="1.5" stroke-linecap="round"/>
<line x1="259.5" y1="356.4" x2="296.6" y2="358.8" stroke="#31c69f" stroke-width="1.5" stroke-linecap="round"/>
<line x1="269.1" y1="282.3" x2="273.2" y2="264.7" stroke="#f0ba36" stroke-width="1.5" stroke-linecap="round"/>
<line x1="237.9" y1="294.2" x2="265.6" y2="300.8" stroke="#d1bf27" stroke-width="1.5" stroke-linecap="round"/>
<line x1="259.5" y1="356.4" x2="260.7" y2="338.3" stroke="#31c69f" stroke-width="1.5" stroke-linecap="round"/>
<line x1="295.7" y1="284.1" x2="295.3" y2="266.1" stroke="#f0ba36" stroke-width="1.5" stroke-linecap="round"/>
<line x1="326.2" y1="300" x2="322.1" y2="281.6" stroke="#d1bf27" stroke-width="1.5" stroke-linecap="round"/>
<line x1="331.9" y1="337.3" x2="329.5" y2="318.7" stroke="#57cc7a" stroke-width="1.5" stroke-linecap="round"/>
<line x1="295.7" y1="284.1" x2="322.1" y2="281.6" stroke="#f0ba36" stroke-width="1.5" stroke-linecap="round"/>
<line x1="265.6" y1="300.8" x2="269.1" y2="282.3" stroke="#d1bf27" stroke-width="1.5" stroke-linecap="round"/>
<line x1="269.1" y1="282.3" x2="295.7" y2="284.1" stroke="#f0ba36" stroke-width="1.5" stroke-linecap="round"/>
<line x1="329.5" y1="318.7" x2="326.2" y2="300" stroke="#9dc943" stroke-width="1.5" stroke-linecap="round"/>
<line x1="296.5" y1="340.6" x2="331.9" y2="337.3" stroke="#57cc7a" stroke-width="1.5" stroke-linecap="round"/>
<line x1="260.7" y1="338.3" x2="262.8" y2="319.6" stroke="#57cc7a" stroke-width="1.5" stroke-linecap="round"/>
<line x1="296.6" y1="358.8" x2="296.5" y2="340.6" stroke="#31c69f" stroke-width="1.5" stroke-linecap="round"/>
<line x1="260.7" y1="338.3" x2="296.5" y2="340.6" stroke="#57cc7a" stroke-width="1.5" stroke-linecap="round"/>
<line x1="262.8" y1="319.6" x2="265.6" y2="300.8" stroke="#9dc943" stroke-width="1.5" stroke-linecap="round"/>
<line x1="296" y1="302.8" x2="326.2" y2="300" stroke="#d1bf27" stroke-width="1.5" stroke-linecap="round"/>
<line x1="296.3" y1="321.8" x2="329.5" y2="318.7" stroke="#9dc943" stroke-width="1.5" stroke-linecap="round"/>
<line x1="265.6" y1="300.8" x2="296" y2="302.8" stroke="#d1bf27" stroke-width="1.5" stroke-linecap="round"/>
<line x1="296" y1="302.8" x2="295.7" y2="284.1" stroke="#d1bf27" stroke-width="1.5" stroke-linecap="round"/>
<line x1="262.8" y1="319.6" x2="296.3" y2="321.8" stroke="#9dc943" stroke-width="1.5" stroke-linecap="round"/>
<line x1="296.5" y1="340.6" x2="296.3" y2="321.8" stroke="#57cc7a" stroke-width="1.5" stroke-linecap="round"/>
<line x1="296.3" y1="321.8" x2="296" y2="302.8" stroke="#9dc943" stroke-width="1.5" stroke-linecap="round"/>
<path d="M71.3 432L71.3 139.7M276.8 565.8L71.3 432M276.8 565.8L544.6 463.1M71.3 432L65.2 428M276.8 565.8L269.9 568.5M276.8 565.8L283 569.9M71.3 285.8L65.2 281.8M174.1 498.9L167.2 501.6M410.7 514.5L416.8 518.5M71.3 139.7L65.2 135.7M71.3 432L64.4 434.6M544.6 463.1L550.7 467.1" stroke="#1c1c1c" stroke-width="1.8" fill="none" stroke-linecap="square"/>
<text x="308.1" y="25.5" font-size="27.5" text-anchor="middle" fill="#111" stroke="#111" stroke-width="0.35" font-family="Liberation Serif" fill="#000">Error distribution</text>
<text x="57" y="139.2" font-size="24.5" text-anchor="end" fill="#111" stroke="#111" stroke-width="0.35" font-family="Liberation Serif">5</text>
<text x="57" y="285.7" font-size="24.5" text-anchor="end" fill="#111" stroke="#111" stroke-width="0.35" font-family="Liberation Serif">0</text>
<text x="56" y="433.3" font-size="24.5" text-anchor="end" fill="#111" stroke="#111" stroke-width="0.35" font-family="Liberation Serif">-5</text>
<text x="55" y="461.7" font-size="24.5" text-anchor="end" fill="#111" stroke="#111" stroke-width="0.35" font-family="Liberation Serif">5</text>
<text x="159" y="528.3" font-size="24.5" text-anchor="end" fill="#111" stroke="#111" stroke-width="0.35" font-family="Liberation Serif">0</text>
<text x="260" y="596.2" font-size="24.5" text-anchor="end" fill="#111" stroke="#111" stroke-width="0.35" font-family="Liberation Serif">-5</text>
<text x="290.5" y="599.5" font-size="24.5" text-anchor="start" fill="#111" stroke="#111" stroke-width="0.35" font-family="Liberation Serif">-5</text>
<text x="432" y="546.5" font-size="24.5" text-anchor="middle" fill="#111" stroke="#111" stroke-width="0.35" font-family="Liberation Serif">0</text>
<text x="558" y="496.4" font-size="24.5" text-anchor="start" fill="#111" stroke="#111" stroke-width="0.35" font-family="Liberation Serif">5</text>
<text x="453.5" y="572.7" font-size="28.2" text-anchor="middle" fill="#111" stroke="#111" stroke-width="0.35" font-family="Liberation Serif">X(mm)</text>
<text x="130.6" y="557.8" font-size="28" text-anchor="middle" fill="#111" stroke="#111" stroke-width="0.35" font-family="Liberation Serif">Y(mm)</text>
<text x="0" y="0" font-size="28.2" text-anchor="middle" fill="#111" stroke="#111" stroke-width="0.35" font-family="Liberation Serif" transform="translate(23.5,284) rotate(-90)">Z(mm)</text>
<rect x="589" y="19.7" width="32" height="528.5999999999999" fill="url(#cb)" stroke="#1c1c1c" stroke-width="1.5"/>
<text x="630.5" y="506.1" font-size="24.5" text-anchor="start" fill="#111" stroke="#111" stroke-width="0.35" font-family="Liberation Serif">-3</text>
<text x="630.5" y="436.5" font-size="24.5" text-anchor="start" fill="#111" stroke="#111" stroke-width="0.35" font-family="Liberation Serif">-2</text>
<text x="630.5" y="366.9" font-size="24.5" text-anchor="start" fill="#111" stroke="#111" stroke-width="0.35" font-family="Liberation Serif">-1</text>
<text x="630.5" y="297.3" font-size="24.5" text-anchor="start" fill="#111" stroke="#111" stroke-width="0.35" font-family="Liberation Serif">0</text>
<text x="630.5" y="227.7" font-size="24.5" text-anchor="start" fill="#111" stroke="#111" stroke-width="0.35" font-family="Liberation Serif">1</text>
<text x="630.5" y="158.1" font-size="24.5" text-anchor="start" fill="#111" stroke="#111" stroke-width="0.35" font-family="Liberation Serif">2</text>
<text x="630.5" y="88.5" font-size="24.5" text-anchor="start" fill="#111" stroke="#111" stroke-width="0.35" font-family="Liberation Serif">3</text>
<path d="M616 496.1L621 496.1M616 426.5L621 426.5M616 356.9L621 356.9M616 287.3L621 287.3M616 217.7L621 217.7M616 148.1L621 148.1M616 78.5L621 78.5" stroke="#1c1c1c" stroke-width="1.5"/>
<text x="0" y="0" font-size="25.5" text-anchor="middle" fill="#111" stroke="#111" stroke-width="0.35" font-family="Liberation Serif" transform="translate(683.5,288) rotate(-90)">Absolute error</text>
</g>
</svg></body></html>
